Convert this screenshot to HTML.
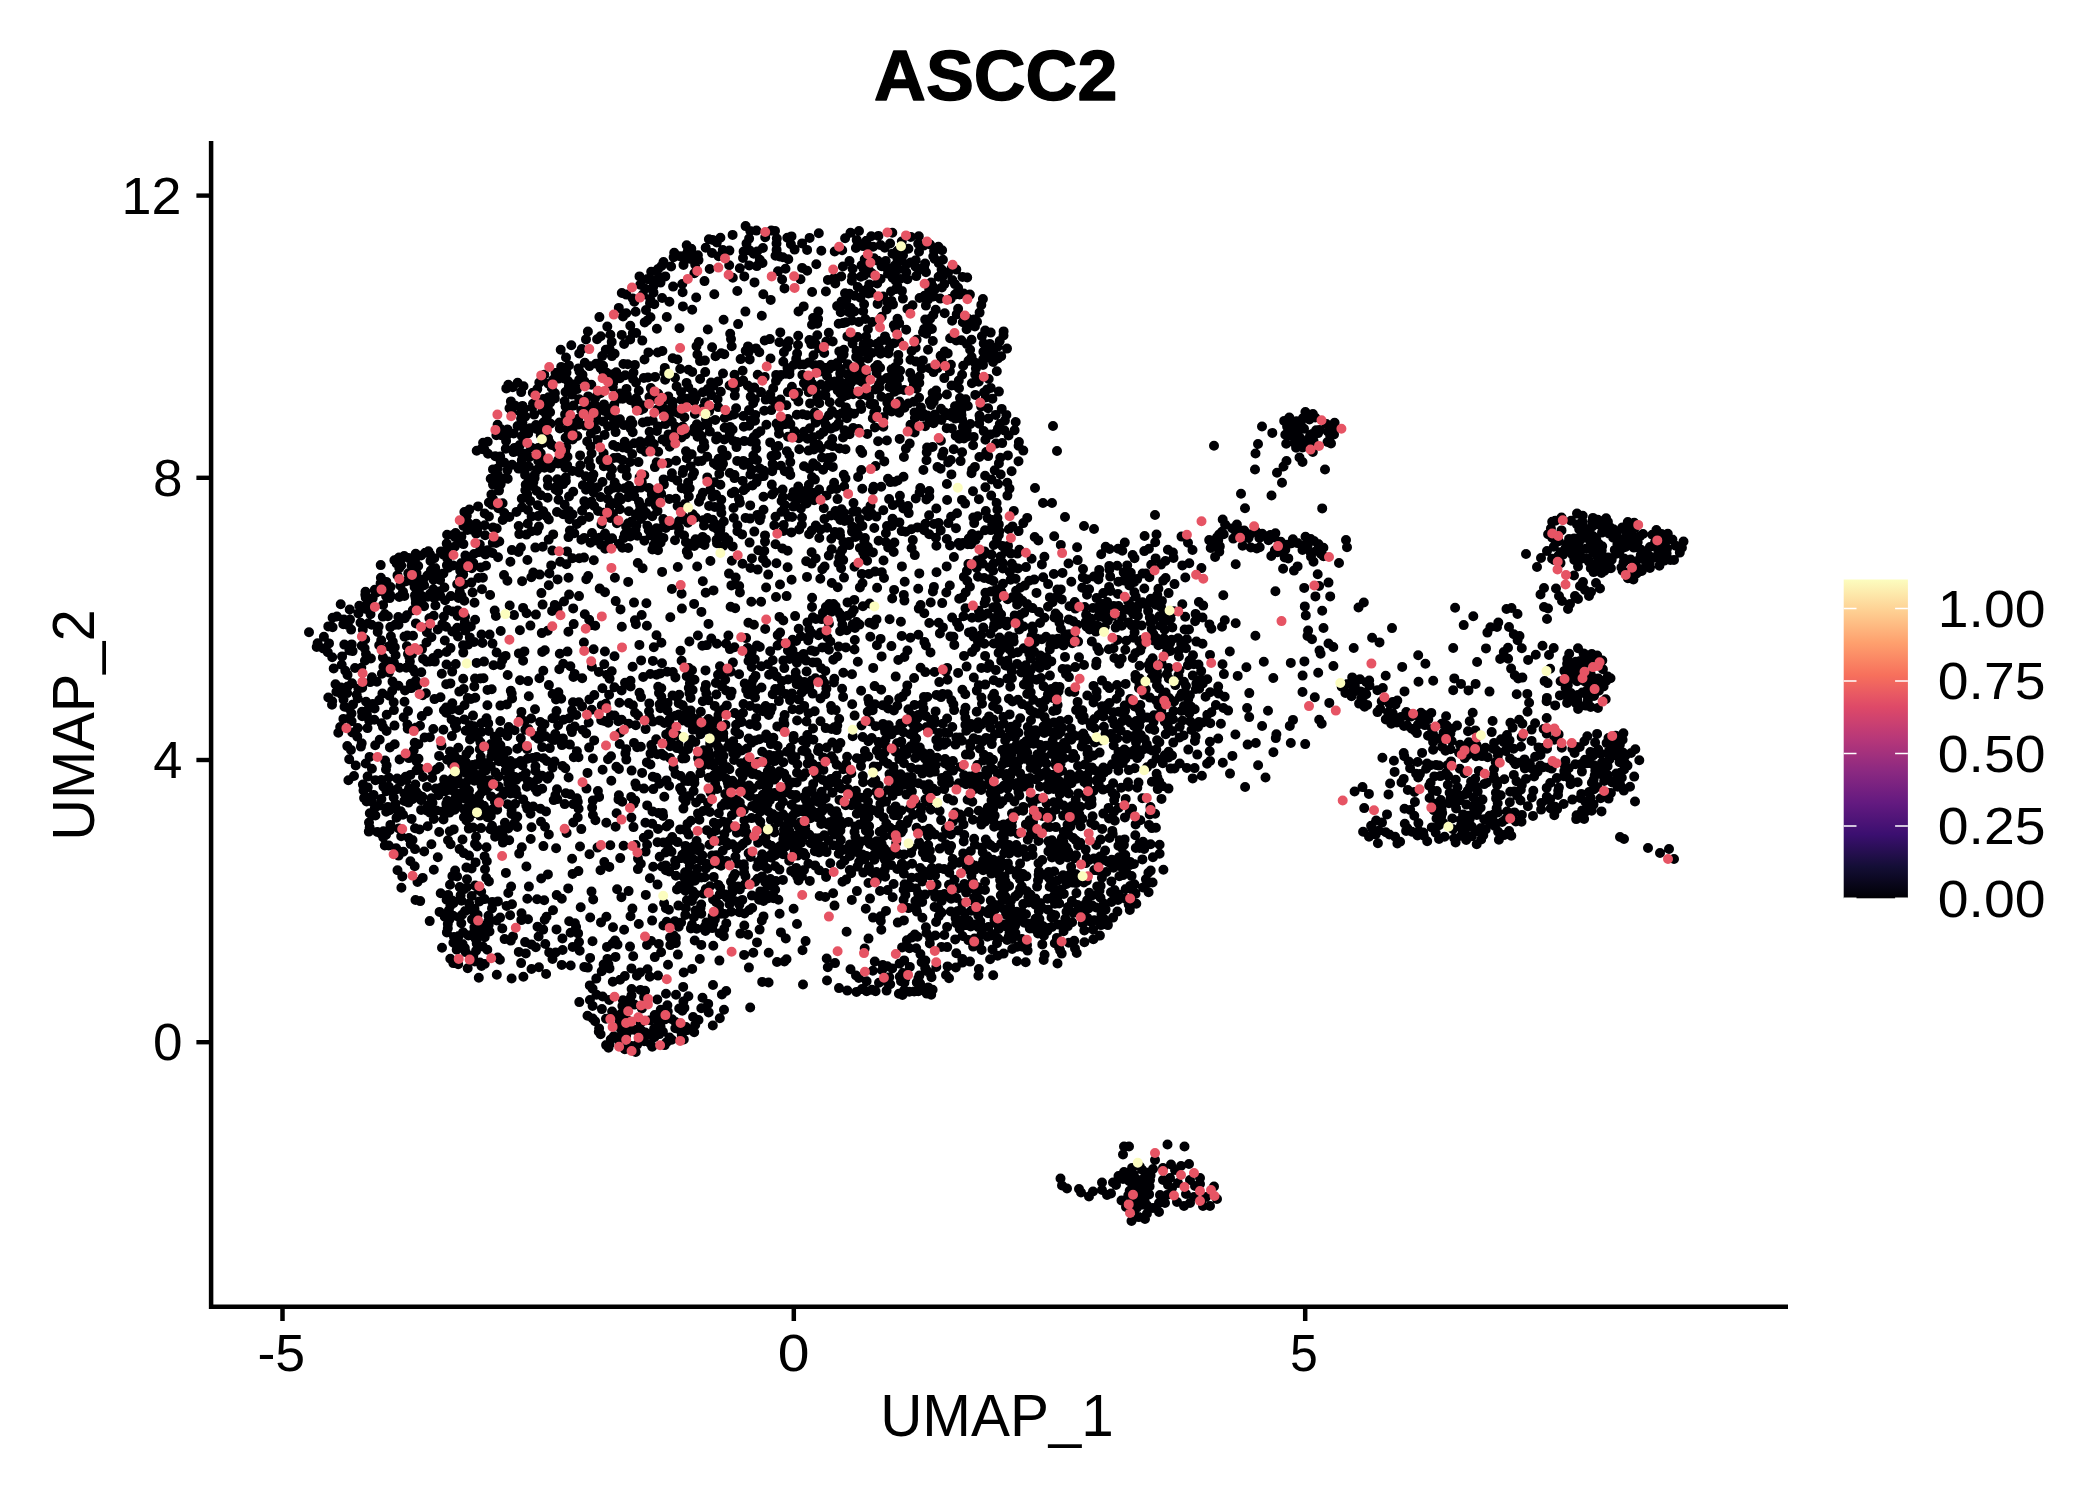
<!DOCTYPE html>
<html><head><meta charset="utf-8"><title>ASCC2</title>
<style>html,body{margin:0;padding:0;background:#fff}svg{display:block}text{font-family:"Liberation Sans",sans-serif;fill:#000}</style></head>
<body><svg width="2100" height="1500" viewBox="0 0 2100 1500">
<rect width="2100" height="1500" fill="#fff"/>
<defs><linearGradient id="mg" x1="0" y1="1" x2="0" y2="0"><stop offset="0%" stop-color="#000004"/><stop offset="10%" stop-color="#140E36"/><stop offset="20%" stop-color="#3B0F70"/><stop offset="30%" stop-color="#641A80"/><stop offset="40%" stop-color="#8C2981"/><stop offset="50%" stop-color="#B73779"/><stop offset="60%" stop-color="#DE4968"/><stop offset="70%" stop-color="#F7705C"/><stop offset="80%" stop-color="#FE9F6D"/><stop offset="90%" stop-color="#FECF92"/><stop offset="100%" stop-color="#FCFDBF"/></linearGradient></defs>
<path d="M211.1 141V1306.7H1788" fill="none" stroke="#000" stroke-width="4.5" stroke-linejoin="miter"/>
<path d="M196.4 195.6H211" stroke="#000" stroke-width="4.4"/>
<path d="M196.4 477.8H211" stroke="#000" stroke-width="4.4"/>
<path d="M196.4 760.0H211" stroke="#000" stroke-width="4.4"/>
<path d="M196.4 1042.2H211" stroke="#000" stroke-width="4.4"/>
<path d="M282.5 1306V1321" stroke="#000" stroke-width="4.5"/>
<path d="M793.8 1306V1321" stroke="#000" stroke-width="4.5"/>
<path d="M1305.2 1306V1321" stroke="#000" stroke-width="4.5"/>
<text transform="translate(181.4 213.79999999999998) scale(1.057 1)" font-size="51" text-anchor="end" font-weight="normal" >12</text>
<text transform="translate(182.6 496.0) scale(1.04 1)" font-size="51" text-anchor="end" font-weight="normal" >8</text>
<text transform="translate(182.4 778.2) scale(1.027 1)" font-size="51" text-anchor="end" font-weight="normal" >4</text>
<text transform="translate(182.6 1060.4) scale(1.04 1)" font-size="51" text-anchor="end" font-weight="normal" >0</text>
<text transform="translate(281.3 1371) scale(1.052 1)" font-size="51" text-anchor="middle" font-weight="normal" >-5</text>
<text transform="translate(793.7 1371) scale(1.12 1)" font-size="51" text-anchor="middle" font-weight="normal" >0</text>
<text transform="translate(1304.0 1371) scale(0.98 1)" font-size="51" text-anchor="middle" font-weight="normal" >5</text>
<text transform="translate(997 1436) scale(0.99 1)" font-size="59" text-anchor="middle" font-weight="normal" >UMAP_1</text>
<text transform="translate(94.4 725) rotate(-90) scale(0.98 1)" font-size="59" text-anchor="middle" font-weight="normal" >UMAP_2</text>
<text transform="translate(995.7 100) scale(1.025 1)" font-size="70" text-anchor="middle" font-weight="bold" stroke="#000" stroke-width="1.4" stroke-linejoin="round">ASCC2</text>
<rect x="1843.7" y="579.5" width="64.2" height="318.8" fill="url(#mg)"/>
<path d="M1843.7 608.5h12.8M1895.1 608.5h12.8" stroke="#fff" stroke-width="1.6"/>
<path d="M1843.7 681h12.8M1895.1 681h12.8" stroke="#fff" stroke-width="1.6"/>
<path d="M1843.7 753.5h12.8M1895.1 753.5h12.8" stroke="#fff" stroke-width="1.6"/>
<path d="M1843.7 826h12.8M1895.1 826h12.8" stroke="#fff" stroke-width="1.6"/>
<path d="M1843.7 898.3h12.8M1895.1 898.3h12.8" stroke="#fff" stroke-width="1.6"/>
<text transform="translate(1937.8 626.9) scale(1.085 1)" font-size="51" text-anchor="start" font-weight="normal" >1.00</text>
<text transform="translate(1937.8 699.4) scale(1.085 1)" font-size="51" text-anchor="start" font-weight="normal" >0.75</text>
<text transform="translate(1937.8 771.9) scale(1.085 1)" font-size="51" text-anchor="start" font-weight="normal" >0.50</text>
<text transform="translate(1937.8 844.4) scale(1.085 1)" font-size="51" text-anchor="start" font-weight="normal" >0.25</text>
<text transform="translate(1937.8 916.9) scale(1.085 1)" font-size="51" text-anchor="start" font-weight="normal" >0.00</text>
<path d="M708.9 239.2h.01M720.4 237.7h.01M732.6 234.9h.01M745.6 226.1h.01M750.3 231.0h.01M749.1 238.6h.01M765.2 237.3h.01M756.4 230.6h.01M776.8 238.5h.01M775.0 230.9h.01M771.3 230.6h.01M787.3 237.7h.01M791.5 236.4h.01M809.6 237.9h.01M818.8 233.2h.01M845.1 238.2h.01M850.5 232.8h.01M859.0 231.0h.01M856.7 239.9h.01M878.4 235.9h.01M871.2 236.2h.01M892.3 232.8h.01M910.8 236.9h.01M918.8 236.2h.01M938.4 246.7h.01M942.1 250.2h.01M930.0 244.5h.01M934.1 251.1h.01M920.1 246.1h.01M923.6 245.6h.01M918.2 243.7h.01M919.0 251.8h.01M903.0 255.3h.01M901.8 241.6h.01M908.4 248.7h.01M897.6 250.7h.01M884.8 247.7h.01M880.6 245.1h.01M892.5 253.7h.01M890.1 243.5h.01M866.4 240.7h.01M873.1 246.8h.01M869.5 247.1h.01M863.1 246.1h.01M857.8 243.5h.01M855.9 248.0h.01M834.7 251.5h.01M842.2 250.2h.01M821.3 250.7h.01M807.1 249.9h.01M802.1 243.4h.01M794.6 249.6h.01M790.9 244.3h.01M775.5 255.8h.01M776.5 243.6h.01M776.6 249.9h.01M762.9 248.0h.01M753.7 253.7h.01M757.1 251.5h.01M743.6 251.5h.01M746.5 243.6h.01M749.8 250.6h.01M729.4 250.6h.01M722.8 250.0h.01M705.7 247.7h.01M712.6 240.0h.01M712.0 252.9h.01M716.8 242.4h.01M691.3 248.8h.01M697.9 255.2h.01M691.6 254.0h.01M674.2 252.8h.01M687.7 251.6h.01M686.7 245.3h.01M651.2 271.8h.01M661.5 266.0h.01M663.5 262.0h.01M671.1 266.5h.01M658.2 268.9h.01M684.0 256.0h.01M683.5 264.9h.01M673.6 257.3h.01M679.8 256.2h.01M689.8 258.7h.01M695.2 264.6h.01M698.5 260.1h.01M709.7 269.0h.01M718.6 256.2h.01M729.2 265.3h.01M749.2 265.4h.01M739.8 268.3h.01M743.0 258.0h.01M762.5 263.0h.01M759.8 259.8h.01M756.8 266.1h.01M778.0 271.3h.01M779.5 256.5h.01M782.9 257.2h.01M788.3 259.2h.01M785.5 268.8h.01M807.2 270.7h.01M802.1 267.9h.01M816.3 264.3h.01M842.9 266.5h.01M849.5 261.1h.01M852.6 268.8h.01M861.6 265.4h.01M863.6 268.9h.01M874.0 258.3h.01M869.0 270.6h.01M877.8 260.8h.01M864.7 259.4h.01M885.7 261.1h.01M894.8 265.5h.01M881.6 266.3h.01M886.3 267.6h.01M892.2 269.5h.01M897.5 259.2h.01M906.3 264.3h.01M898.4 269.2h.01M910.8 262.4h.01M900.8 260.0h.01M915.7 260.2h.01M915.6 266.8h.01M925.1 263.5h.01M919.0 269.5h.01M924.2 266.4h.01M934.7 259.0h.01M941.6 269.6h.01M938.8 263.2h.01M933.3 256.2h.01M942.9 259.7h.01M956.3 269.6h.01M951.5 268.6h.01M967.2 277.5h.01M962.5 277.0h.01M948.0 272.7h.01M944.3 284.2h.01M958.1 287.7h.01M954.9 284.1h.01M952.3 280.0h.01M933.2 287.0h.01M931.1 282.6h.01M941.9 287.4h.01M938.6 276.8h.01M942.7 276.5h.01M926.0 272.3h.01M916.3 276.1h.01M900.0 278.9h.01M907.4 279.2h.01M897.3 285.9h.01M906.3 272.2h.01M892.7 277.9h.01M888.0 273.7h.01M895.2 280.1h.01M893.1 274.4h.01M880.6 279.0h.01M877.2 283.5h.01M872.1 273.5h.01M869.3 284.4h.01M864.0 275.4h.01M852.2 276.6h.01M860.8 276.7h.01M857.8 287.0h.01M851.8 280.7h.01M834.0 278.0h.01M841.2 276.4h.01M835.3 283.5h.01M827.9 279.9h.01M800.5 279.3h.01M782.1 279.5h.01M754.5 282.4h.01M744.3 276.4h.01M732.8 277.7h.01M704.5 281.1h.01M694.4 273.2h.01M673.1 286.6h.01M682.3 284.0h.01M659.0 277.4h.01M660.5 282.6h.01M665.3 276.4h.01M647.5 279.1h.01M640.2 284.7h.01M653.1 287.1h.01M651.5 280.3h.01M639.5 276.4h.01M621.8 293.0h.01M632.8 298.5h.01M626.3 294.6h.01M634.3 301.8h.01M642.9 294.6h.01M645.2 288.7h.01M653.5 292.6h.01M650.3 299.0h.01M650.0 303.3h.01M662.1 298.0h.01M669.4 301.7h.01M682.6 292.2h.01M696.2 297.5h.01M714.3 294.3h.01M737.3 291.0h.01M763.3 294.2h.01M770.7 299.9h.01M784.5 288.4h.01M812.1 292.0h.01M825.9 291.5h.01M845.0 293.2h.01M846.3 300.4h.01M841.5 301.5h.01M863.7 290.8h.01M849.5 293.7h.01M854.7 295.8h.01M860.4 297.8h.01M868.4 293.4h.01M868.0 288.5h.01M871.5 292.7h.01M877.6 303.9h.01M891.0 291.5h.01M887.4 301.9h.01M883.2 296.6h.01M891.5 300.9h.01M902.9 298.6h.01M896.2 288.9h.01M901.9 290.9h.01M919.6 298.0h.01M924.5 295.8h.01M927.9 299.7h.01M934.4 289.9h.01M940.2 298.6h.01M933.5 296.5h.01M929.2 289.0h.01M950.7 298.8h.01M955.0 294.6h.01M959.8 294.5h.01M969.9 294.6h.01M963.7 293.5h.01M982.9 299.0h.01M979.6 312.6h.01M981.3 304.9h.01M974.1 319.5h.01M968.5 319.1h.01M944.7 313.3h.01M956.7 314.4h.01M958.1 308.7h.01M930.2 318.8h.01M933.3 314.9h.01M935.7 309.8h.01M925.9 305.6h.01M925.2 319.6h.01M912.5 305.2h.01M907.4 308.9h.01M897.5 318.8h.01M881.7 316.8h.01M893.0 304.4h.01M886.6 309.5h.01M865.3 319.0h.01M864.1 304.3h.01M850.9 308.1h.01M854.4 311.4h.01M849.0 312.3h.01M863.2 311.3h.01M840.7 312.3h.01M837.1 306.1h.01M842.5 305.3h.01M818.1 319.1h.01M818.3 311.5h.01M803.7 306.4h.01M813.1 318.0h.01M798.5 311.5h.01M761.8 315.7h.01M745.4 311.6h.01M723.6 319.8h.01M692.2 309.8h.01M682.9 306.4h.01M666.8 317.0h.01M646.0 310.1h.01M650.5 317.3h.01M654.3 304.3h.01M635.6 311.7h.01M626.2 313.3h.01M623.0 316.5h.01M618.8 307.9h.01M599.4 317.1h.01M587.9 331.5h.01M607.3 326.6h.01M610.4 334.7h.01M621.7 334.9h.01M636.2 333.0h.01M630.3 325.8h.01M632.8 333.2h.01M644.7 322.4h.01M647.2 320.5h.01M656.9 328.7h.01M679.5 328.3h.01M707.8 329.5h.01M730.2 333.8h.01M738.1 324.1h.01M780.3 332.4h.01M798.2 335.8h.01M812.0 324.8h.01M817.3 335.3h.01M817.2 323.7h.01M828.8 332.8h.01M838.7 323.7h.01M843.1 323.1h.01M846.1 322.3h.01M851.8 320.5h.01M858.8 322.0h.01M867.9 329.2h.01M872.3 321.9h.01M895.2 328.8h.01M893.8 325.2h.01M906.2 329.7h.01M899.2 323.3h.01M924.1 329.0h.01M926.2 333.7h.01M923.0 332.3h.01M928.8 326.5h.01M931.9 329.0h.01M952.1 320.8h.01M966.6 329.3h.01M962.8 322.3h.01M974.9 326.4h.01M967.1 325.0h.01M985.2 330.5h.01M990.7 332.6h.01M977.0 321.8h.01M1003.6 331.4h.01M1003.5 335.5h.01M1007.0 348.6h.01M997.8 346.7h.01M999.7 341.1h.01M992.7 347.7h.01M987.8 348.9h.01M983.7 343.5h.01M981.9 336.2h.01M983.4 351.8h.01M989.8 343.9h.01M961.3 340.3h.01M970.1 349.8h.01M971.5 339.8h.01M966.9 344.1h.01M956.3 340.5h.01M950.1 338.3h.01M944.7 351.6h.01M932.8 341.0h.01M928.0 349.7h.01M916.6 339.8h.01M915.7 347.8h.01M899.2 341.3h.01M911.6 350.9h.01M889.0 349.0h.01M886.4 340.1h.01M885.0 336.4h.01M880.4 341.2h.01M894.2 343.2h.01M869.5 343.5h.01M866.1 336.5h.01M879.1 348.4h.01M877.0 343.8h.01M852.6 343.6h.01M852.5 340.2h.01M857.7 337.0h.01M863.6 344.6h.01M856.5 350.8h.01M832.7 341.5h.01M839.3 351.4h.01M847.4 336.4h.01M843.9 349.8h.01M819.0 348.2h.01M826.3 341.6h.01M815.7 344.1h.01M811.2 344.1h.01M809.4 340.1h.01M787.3 347.3h.01M798.0 345.0h.01M788.7 341.3h.01M769.8 339.1h.01M779.4 342.2h.01M756.0 348.4h.01M764.7 340.5h.01M748.0 346.4h.01M745.7 350.7h.01M731.0 339.1h.01M731.7 346.2h.01M712.1 347.3h.01M698.8 342.0h.01M696.5 346.2h.01M662.4 351.0h.01M642.3 340.6h.01M630.2 339.4h.01M624.1 344.0h.01M609.5 348.8h.01M611.7 341.9h.01M600.7 336.2h.01M605.8 349.8h.01M597.1 339.2h.01M581.8 349.1h.01M586.0 339.4h.01M571.3 345.3h.01M560.7 349.8h.01M566.0 357.5h.01M568.9 365.4h.01M561.2 366.9h.01M589.4 366.1h.01M579.2 353.5h.01M584.8 362.7h.01M596.0 363.8h.01M599.2 363.6h.01M603.1 365.8h.01M602.2 356.1h.01M614.6 353.7h.01M611.9 356.1h.01M623.4 364.0h.01M634.9 364.9h.01M627.7 364.3h.01M644.5 359.5h.01M648.4 352.4h.01M664.8 367.9h.01M657.8 352.5h.01M672.7 358.2h.01M677.4 359.5h.01M700.0 361.1h.01M697.4 354.5h.01M704.9 360.6h.01M715.5 356.3h.01M724.3 354.2h.01M721.2 353.2h.01M749.7 359.4h.01M740.6 359.1h.01M748.6 352.1h.01M759.3 352.2h.01M783.3 361.8h.01M783.9 352.2h.01M770.5 358.5h.01M797.1 353.6h.01M800.0 364.4h.01M793.6 365.0h.01M796.2 358.9h.01M803.9 364.5h.01M814.2 364.9h.01M808.9 362.4h.01M813.5 355.2h.01M822.7 367.6h.01M824.2 353.0h.01M819.9 364.9h.01M831.3 364.7h.01M837.1 363.0h.01M841.6 358.3h.01M847.8 364.2h.01M834.5 366.0h.01M843.6 354.6h.01M859.8 360.5h.01M856.1 357.1h.01M861.5 367.3h.01M860.3 352.8h.01M868.4 352.2h.01M868.0 358.5h.01M874.9 367.6h.01M877.6 364.9h.01M871.9 353.0h.01M894.9 367.3h.01M883.6 352.3h.01M880.1 367.8h.01M880.6 353.8h.01M888.4 353.5h.01M898.3 354.9h.01M898.3 361.0h.01M910.5 359.7h.01M915.9 361.6h.01M922.9 360.4h.01M941.7 360.7h.01M940.6 355.7h.01M950.9 364.7h.01M947.7 353.4h.01M968.5 360.8h.01M974.8 362.4h.01M963.2 365.8h.01M971.6 357.1h.01M988.9 357.8h.01M991.5 355.6h.01M983.2 359.2h.01M983.0 364.9h.01M993.1 361.9h.01M998.0 358.5h.01M994.6 354.9h.01M1001.2 356.2h.01M996.8 371.2h.01M978.7 381.8h.01M988.7 379.0h.01M962.1 374.7h.01M975.9 368.5h.01M971.9 383.2h.01M975.2 374.5h.01M958.8 380.5h.01M944.3 378.1h.01M949.9 371.2h.01M929.4 368.3h.01M933.5 372.1h.01M937.6 368.1h.01M921.7 368.6h.01M912.5 379.1h.01M919.3 383.0h.01M919.5 376.5h.01M897.3 371.9h.01M910.2 373.0h.01M899.1 378.3h.01M900.1 370.8h.01M881.1 380.3h.01M890.7 383.0h.01M890.8 376.3h.01M891.6 369.2h.01M886.8 378.1h.01M865.8 374.3h.01M864.7 377.7h.01M876.6 373.0h.01M858.3 379.9h.01M862.1 381.9h.01M849.5 376.8h.01M852.3 371.6h.01M851.2 382.5h.01M853.8 378.8h.01M859.5 373.0h.01M847.1 374.3h.01M835.0 381.5h.01M840.2 373.5h.01M844.3 383.7h.01M839.1 380.6h.01M840.6 369.1h.01M827.0 376.0h.01M819.7 371.6h.01M830.0 381.5h.01M829.2 369.0h.01M825.7 368.1h.01M806.9 381.0h.01M803.9 383.2h.01M802.4 374.9h.01M810.1 378.2h.01M812.1 383.6h.01M786.0 373.8h.01M789.5 374.3h.01M787.5 368.0h.01M789.4 370.7h.01M778.2 377.7h.01M776.2 374.9h.01M776.0 381.1h.01M781.0 374.9h.01M764.7 376.9h.01M757.7 374.8h.01M743.2 380.5h.01M742.6 370.8h.01M739.4 382.2h.01M734.5 374.8h.01M723.0 373.5h.01M711.1 382.6h.01M718.1 381.4h.01M705.2 372.1h.01M700.1 379.0h.01M688.6 369.8h.01M692.2 371.9h.01M686.6 382.9h.01M680.2 369.0h.01M675.0 377.8h.01M664.3 372.7h.01M665.1 379.8h.01M643.9 377.9h.01M647.9 377.5h.01M655.1 376.9h.01M633.5 372.5h.01M625.2 375.2h.01M636.0 382.6h.01M633.1 379.3h.01M616.3 372.2h.01M619.9 378.2h.01M613.3 382.7h.01M613.6 378.8h.01M611.7 374.6h.01M603.2 371.1h.01M600.6 368.1h.01M606.7 372.8h.01M578.5 368.4h.01M579.5 371.4h.01M584.4 381.2h.01M579.2 379.8h.01M582.5 374.7h.01M566.5 372.6h.01M567.8 380.8h.01M562.3 373.2h.01M566.1 368.5h.01M564.7 378.6h.01M548.5 383.7h.01M558.6 378.6h.01M544.3 374.7h.01M555.5 372.9h.01M553.1 379.8h.01M541.8 380.1h.01M539.3 382.6h.01M517.6 382.7h.01M506.3 388.4h.01M508.3 384.7h.01M523.5 386.2h.01M512.7 387.3h.01M521.2 392.1h.01M537.3 389.1h.01M543.3 399.1h.01M532.8 392.8h.01M548.5 397.2h.01M554.8 398.4h.01M551.7 387.9h.01M554.9 393.2h.01M573.5 390.7h.01M573.1 384.5h.01M571.8 394.6h.01M568.9 386.4h.01M565.5 392.0h.01M579.2 399.2h.01M591.3 384.8h.01M577.0 389.1h.01M588.2 396.4h.01M600.5 393.3h.01M597.5 394.8h.01M595.0 398.4h.01M619.4 398.6h.01M620.1 393.6h.01M622.8 398.8h.01M612.8 387.0h.01M636.2 398.3h.01M626.5 388.9h.01M638.8 390.7h.01M626.8 395.0h.01M650.8 388.1h.01M654.9 398.8h.01M649.4 397.0h.01M668.3 396.4h.01M669.1 399.5h.01M658.2 393.7h.01M681.3 399.7h.01M681.0 392.0h.01M676.6 386.4h.01M687.4 398.8h.01M688.3 387.2h.01M695.9 397.4h.01M693.1 392.4h.01M702.8 392.3h.01M711.4 395.1h.01M708.0 388.9h.01M713.5 385.9h.01M717.6 399.2h.01M720.8 391.7h.01M734.8 388.9h.01M734.8 395.6h.01M729.6 385.5h.01M750.7 396.6h.01M751.1 388.2h.01M747.8 385.6h.01M761.0 392.1h.01M754.3 387.6h.01M765.7 399.6h.01M754.9 399.3h.01M773.2 388.2h.01M780.4 399.5h.01M770.3 394.1h.01M791.9 386.8h.01M795.4 396.9h.01M798.2 392.8h.01M787.9 392.1h.01M808.8 392.2h.01M809.6 386.6h.01M815.2 389.1h.01M806.4 386.9h.01M825.4 395.4h.01M830.7 385.6h.01M821.0 384.5h.01M819.4 395.0h.01M817.3 397.9h.01M826.0 388.4h.01M845.1 390.2h.01M837.2 384.4h.01M847.7 394.9h.01M837.7 390.4h.01M842.9 396.9h.01M840.4 393.5h.01M853.1 394.2h.01M860.4 394.7h.01M849.3 386.9h.01M864.0 393.1h.01M866.6 395.2h.01M869.3 396.6h.01M879.0 384.3h.01M879.3 387.8h.01M875.1 389.5h.01M894.6 391.8h.01M888.9 397.7h.01M889.4 386.9h.01M893.7 384.5h.01M881.4 396.7h.01M898.3 389.8h.01M904.1 390.0h.01M896.9 384.8h.01M916.6 388.7h.01M913.9 385.0h.01M919.1 397.8h.01M937.3 396.2h.01M936.1 390.6h.01M932.4 398.9h.01M932.6 393.0h.01M956.8 386.2h.01M951.6 385.5h.01M959.0 388.3h.01M946.9 394.5h.01M975.3 394.9h.01M965.7 399.3h.01M960.0 398.1h.01M985.8 397.5h.01M987.3 389.4h.01M990.7 387.9h.01M984.1 392.4h.01M998.9 391.6h.01M992.4 398.7h.01M1312.9 414.1h.01M1305.4 412.1h.01M1001.7 408.9h.01M995.7 414.9h.01M1006.4 414.9h.01M981.2 406.4h.01M988.1 408.3h.01M979.5 415.6h.01M961.3 411.3h.01M967.8 406.0h.01M960.1 403.6h.01M964.8 404.3h.01M961.5 415.1h.01M951.6 412.8h.01M956.6 408.9h.01M944.8 412.5h.01M946.2 415.3h.01M955.0 406.3h.01M934.9 414.4h.01M941.0 408.7h.01M933.7 401.7h.01M931.2 404.9h.01M929.8 401.5h.01M913.8 401.8h.01M922.6 413.0h.01M927.4 415.6h.01M920.9 407.4h.01M914.6 412.4h.01M904.5 407.8h.01M899.5 407.0h.01M899.3 401.6h.01M899.2 412.8h.01M908.5 403.4h.01M887.3 402.8h.01M891.8 405.8h.01M891.6 411.5h.01M887.8 409.8h.01M876.3 409.6h.01M870.3 404.2h.01M874.1 403.9h.01M874.2 412.8h.01M861.2 408.9h.01M860.3 404.5h.01M849.2 412.4h.01M854.0 413.8h.01M841.8 413.3h.01M838.4 414.7h.01M845.9 407.4h.01M839.8 402.4h.01M832.0 411.0h.01M819.3 403.2h.01M829.0 415.3h.01M829.8 402.3h.01M814.9 412.2h.01M807.0 415.3h.01M802.7 414.3h.01M810.1 403.4h.01M796.8 414.8h.01M786.4 405.3h.01M798.4 401.4h.01M775.3 402.9h.01M772.3 400.2h.01M771.3 410.1h.01M753.2 403.2h.01M755.2 414.9h.01M764.2 410.7h.01M736.1 408.3h.01M749.0 410.1h.01M743.3 416.0h.01M729.5 415.8h.01M733.9 414.4h.01M718.2 407.1h.01M709.2 411.1h.01M705.0 402.3h.01M702.5 408.4h.01M694.9 414.0h.01M694.2 401.2h.01M676.4 412.2h.01M679.6 413.6h.01M672.6 401.7h.01M672.5 405.6h.01M664.0 408.9h.01M657.3 409.5h.01M662.2 402.6h.01M664.5 400.4h.01M669.5 413.9h.01M643.4 405.5h.01M640.2 410.1h.01M643.3 408.7h.01M637.8 401.5h.01M630.5 400.3h.01M636.3 405.4h.01M634.6 401.0h.01M609.0 414.9h.01M608.8 409.8h.01M614.2 404.7h.01M612.8 407.4h.01M604.0 404.4h.01M601.1 408.0h.01M596.2 415.1h.01M604.4 411.0h.01M594.6 404.5h.01M586.9 413.7h.01M589.1 405.9h.01M590.5 413.2h.01M581.3 410.4h.01M565.1 414.4h.01M565.6 406.4h.01M573.4 405.6h.01M568.3 409.8h.01M564.6 401.2h.01M546.5 403.1h.01M545.8 413.7h.01M547.8 407.2h.01M550.1 412.3h.01M550.1 402.8h.01M534.1 414.6h.01M532.3 407.5h.01M533.0 403.7h.01M542.5 410.8h.01M514.8 405.4h.01M522.5 405.9h.01M521.1 412.9h.01M524.2 408.7h.01M512.1 412.4h.01M509.5 408.2h.01M510.9 401.4h.01M507.6 429.6h.01M497.6 424.8h.01M501.1 429.2h.01M521.1 418.8h.01M522.4 422.7h.01M517.6 426.0h.01M525.2 416.6h.01M524.6 431.1h.01M536.0 425.1h.01M536.5 429.0h.01M543.4 422.5h.01M530.0 428.2h.01M542.1 431.5h.01M559.8 428.4h.01M546.8 417.4h.01M559.5 422.6h.01M550.6 423.7h.01M567.4 429.1h.01M570.8 418.0h.01M572.7 431.9h.01M574.3 424.7h.01M578.4 424.6h.01M585.2 425.6h.01M578.3 418.7h.01M592.2 427.7h.01M597.4 420.1h.01M603.4 421.6h.01M596.1 429.5h.01M608.0 426.2h.01M619.9 419.2h.01M615.8 424.2h.01M613.9 419.3h.01M630.9 420.4h.01M630.8 428.8h.01M624.0 425.1h.01M632.5 423.2h.01M647.4 421.6h.01M642.9 422.4h.01M652.7 420.6h.01M649.6 431.8h.01M666.6 418.8h.01M656.9 431.0h.01M671.8 421.5h.01M658.0 426.6h.01M665.3 424.1h.01M675.5 426.7h.01M684.4 417.3h.01M682.7 426.6h.01M700.3 426.5h.01M697.9 431.3h.01M694.4 428.0h.01M696.9 424.2h.01M693.8 431.8h.01M709.9 431.6h.01M715.2 419.9h.01M706.0 419.3h.01M707.3 425.2h.01M724.6 427.8h.01M730.0 426.9h.01M732.6 429.5h.01M724.7 418.0h.01M749.2 425.7h.01M750.9 420.0h.01M743.8 426.8h.01M766.4 424.7h.01M760.4 431.2h.01M755.0 420.8h.01M778.9 428.2h.01M776.6 423.6h.01M790.4 424.1h.01M787.9 419.0h.01M794.5 431.2h.01M785.4 424.1h.01M815.8 422.8h.01M804.0 431.8h.01M809.9 428.3h.01M815.4 419.6h.01M823.5 431.9h.01M824.1 420.2h.01M825.7 424.7h.01M830.9 428.7h.01M838.6 423.3h.01M846.9 418.2h.01M844.5 430.3h.01M835.4 426.8h.01M858.5 429.0h.01M853.2 427.9h.01M872.8 418.2h.01M874.9 427.4h.01M883.6 416.9h.01M883.3 426.7h.01M911.6 431.5h.01M910.5 424.7h.01M925.1 426.3h.01M914.9 418.0h.01M922.2 416.4h.01M933.5 423.3h.01M938.2 419.5h.01M941.5 420.0h.01M929.2 418.4h.01M951.9 428.5h.01M952.2 416.9h.01M946.7 428.2h.01M955.3 418.6h.01M962.9 427.1h.01M966.7 430.4h.01M962.1 419.5h.01M970.4 424.0h.01M983.7 431.1h.01M979.9 418.7h.01M988.4 418.5h.01M979.2 423.7h.01M999.8 424.1h.01M1004.9 420.6h.01M1004.3 430.4h.01M997.9 428.9h.01M1014.6 430.3h.01M1015.7 422.0h.01M1293.9 429.2h.01M1290.3 431.4h.01M1287.1 426.6h.01M1284.2 420.9h.01M1291.9 425.8h.01M1289.3 417.5h.01M1304.0 428.7h.01M1296.4 421.3h.01M1297.8 431.4h.01M1303.1 418.1h.01M1300.7 423.9h.01M1309.4 419.4h.01M1319.3 430.1h.01M1316.1 430.2h.01M1327.8 431.5h.01M1315.2 417.5h.01M1326.4 424.0h.01M1334.6 422.8h.01M1334.1 428.1h.01M1331.0 443.5h.01M1334.0 434.4h.01M1329.9 434.6h.01M1318.1 433.1h.01M1314.4 446.3h.01M1312.3 433.9h.01M1313.5 440.8h.01M1327.5 442.0h.01M1296.1 447.8h.01M1302.7 447.5h.01M1310.0 436.0h.01M1311.6 445.0h.01M1304.3 441.0h.01M1300.2 438.1h.01M1290.6 435.2h.01M1285.3 434.8h.01M1286.2 443.7h.01M1295.0 440.2h.01M1295.3 444.0h.01M1272.3 432.9h.01M1008.6 435.4h.01M1018.6 445.8h.01M1018.9 442.1h.01M996.0 432.7h.01M1002.2 443.1h.01M996.0 443.6h.01M990.6 434.5h.01M985.4 439.7h.01M967.1 436.6h.01M973.7 436.9h.01M964.0 438.5h.01M973.1 445.3h.01M955.7 435.8h.01M959.6 434.6h.01M959.2 438.8h.01M940.9 440.7h.01M932.6 446.9h.01M927.1 447.6h.01M914.6 432.4h.01M899.7 438.9h.01M909.7 443.6h.01M886.9 440.5h.01M867.3 433.9h.01M878.1 441.3h.01M849.6 434.2h.01M832.6 446.1h.01M832.3 439.1h.01M843.0 437.5h.01M829.0 444.8h.01M818.3 444.8h.01M819.8 434.9h.01M814.5 444.9h.01M807.5 438.8h.01M812.8 437.1h.01M798.8 438.3h.01M788.0 436.7h.01M770.2 442.4h.01M779.0 433.8h.01M775.7 447.7h.01M778.3 446.1h.01M753.8 437.1h.01M755.8 442.5h.01M757.1 433.4h.01M736.5 447.1h.01M744.2 441.1h.01M736.8 441.9h.01M750.7 441.5h.01M733.3 440.9h.01M724.3 439.5h.01M729.9 433.3h.01M716.1 439.4h.01M717.5 436.5h.01M704.4 446.6h.01M697.6 436.7h.01M701.5 436.1h.01M703.9 442.6h.01M685.5 434.4h.01M681.5 437.5h.01M672.9 434.0h.01M662.6 439.6h.01M666.2 442.1h.01M669.7 446.8h.01M668.5 434.4h.01M653.8 444.0h.01M640.1 441.6h.01M650.2 439.1h.01M647.5 442.1h.01M632.7 432.2h.01M634.3 443.3h.01M624.7 441.8h.01M622.7 447.5h.01M613.2 445.1h.01M616.7 446.7h.01M615.6 432.1h.01M597.7 440.0h.01M604.6 434.9h.01M577.3 436.0h.01M587.2 441.5h.01M590.5 446.4h.01M590.8 433.7h.01M572.6 439.4h.01M566.4 446.8h.01M565.6 437.8h.01M548.1 438.2h.01M551.7 444.9h.01M549.2 441.8h.01M556.7 447.8h.01M528.2 433.4h.01M531.0 447.4h.01M540.7 435.3h.01M543.5 442.8h.01M514.5 447.9h.01M521.9 436.2h.01M519.9 444.9h.01M513.7 433.4h.01M501.3 435.2h.01M506.1 441.0h.01M506.5 436.0h.01M496.4 435.3h.01M483.1 442.7h.01M487.7 441.7h.01M476.7 450.7h.01M488.0 453.8h.01M481.6 448.9h.01M484.5 449.8h.01M495.3 456.2h.01M500.2 456.6h.01M500.7 461.4h.01M504.1 462.4h.01M505.8 448.8h.01M526.5 453.5h.01M521.8 460.3h.01M520.6 452.2h.01M522.5 456.2h.01M513.5 452.1h.01M540.7 453.3h.01M538.2 448.0h.01M538.3 460.9h.01M529.2 457.2h.01M558.2 460.1h.01M558.1 463.4h.01M544.2 459.6h.01M565.3 450.5h.01M567.5 456.8h.01M563.5 459.4h.01M580.1 455.4h.01M588.8 460.8h.01M591.6 453.5h.01M603.6 453.3h.01M600.6 460.1h.01M622.3 459.9h.01M617.6 457.7h.01M613.9 458.0h.01M638.5 462.1h.01M630.1 461.9h.01M627.8 448.5h.01M632.2 454.1h.01M645.6 451.7h.01M641.1 449.0h.01M656.7 462.2h.01M667.8 462.9h.01M658.2 451.8h.01M676.1 460.7h.01M686.0 451.3h.01M686.8 458.3h.01M698.2 461.3h.01M701.9 448.8h.01M691.7 454.3h.01M701.6 460.9h.01M718.6 458.8h.01M707.2 456.8h.01M713.9 463.2h.01M723.0 463.8h.01M726.8 455.6h.01M722.2 449.9h.01M737.2 460.9h.01M743.3 460.9h.01M748.6 462.9h.01M756.3 448.6h.01M753.3 455.6h.01M757.0 460.1h.01M772.6 463.9h.01M771.5 456.1h.01M776.4 455.1h.01M786.9 451.2h.01M799.3 449.2h.01M789.3 455.0h.01M790.3 462.1h.01M813.2 463.2h.01M813.9 449.5h.01M808.6 450.6h.01M828.1 457.9h.01M822.0 457.5h.01M820.8 448.2h.01M839.5 448.5h.01M845.5 449.2h.01M832.1 457.3h.01M862.2 452.9h.01M860.4 450.1h.01M879.6 454.8h.01M884.3 461.4h.01M905.9 448.6h.01M903.9 457.0h.01M926.5 460.3h.01M926.7 452.2h.01M943.4 451.7h.01M942.1 455.6h.01M950.7 460.0h.01M953.7 449.2h.01M948.2 462.5h.01M960.6 461.1h.01M962.1 452.3h.01M986.3 452.1h.01M988.2 456.1h.01M979.4 457.0h.01M1000.3 457.8h.01M998.9 463.4h.01M1007.9 455.4h.01M1023.3 450.6h.01M1018.5 461.3h.01M1312.8 451.9h.01M1011.6 471.2h.01M994.7 470.3h.01M1000.7 474.5h.01M985.1 475.8h.01M991.6 479.5h.01M971.5 473.3h.01M972.1 469.9h.01M974.9 466.9h.01M951.4 474.4h.01M940.6 468.7h.01M937.5 467.0h.01M923.4 470.0h.01M903.5 476.8h.01M888.0 478.7h.01M875.5 466.1h.01M861.3 470.0h.01M858.1 476.9h.01M845.5 478.5h.01M843.8 474.7h.01M832.8 466.9h.01M816.5 466.0h.01M823.1 469.7h.01M827.9 465.0h.01M814.9 479.6h.01M804.0 466.3h.01M812.0 477.0h.01M809.4 468.7h.01M790.3 474.9h.01M784.8 471.2h.01M788.9 470.9h.01M780.9 465.8h.01M773.2 467.7h.01M772.2 471.2h.01M763.9 470.8h.01M759.6 468.4h.01M757.8 478.3h.01M763.7 476.1h.01M751.7 469.7h.01M743.6 465.0h.01M750.4 474.5h.01M734.5 478.1h.01M721.5 466.9h.01M729.8 473.0h.01M734.5 475.1h.01M719.3 473.9h.01M716.7 465.3h.01M707.3 477.4h.01M692.5 476.0h.01M690.6 466.2h.01M694.0 472.6h.01M683.3 469.9h.01M682.7 473.0h.01M672.0 477.3h.01M663.6 479.4h.01M671.9 473.3h.01M644.3 475.3h.01M654.9 467.1h.01M626.8 476.0h.01M639.6 477.2h.01M625.8 469.6h.01M610.8 475.9h.01M612.0 469.4h.01M622.0 468.6h.01M609.9 467.0h.01M592.1 478.4h.01M593.4 474.5h.01M603.8 466.2h.01M580.3 465.2h.01M590.4 466.3h.01M579.1 472.4h.01M585.7 476.2h.01M567.2 465.2h.01M572.4 470.9h.01M565.7 477.6h.01M565.4 467.7h.01M544.4 467.8h.01M547.7 479.6h.01M557.4 479.3h.01M550.5 468.0h.01M552.1 464.9h.01M528.8 466.6h.01M534.7 474.7h.01M537.4 469.6h.01M528.8 478.7h.01M534.6 477.9h.01M512.1 464.8h.01M525.1 474.9h.01M518.5 468.6h.01M523.9 466.7h.01M521.2 464.5h.01M504.0 478.5h.01M497.5 468.4h.01M507.7 478.8h.01M497.6 474.0h.01M507.4 470.1h.01M493.0 469.4h.01M490.7 478.7h.01M493.0 484.6h.01M491.4 494.5h.01M500.7 484.1h.01M498.5 481.5h.01M498.8 487.5h.01M499.0 490.6h.01M525.7 484.8h.01M527.2 494.2h.01M525.3 490.3h.01M536.7 490.9h.01M533.4 482.1h.01M532.9 486.3h.01M540.8 495.3h.01M548.0 485.8h.01M555.5 489.5h.01M558.2 491.3h.01M556.9 486.3h.01M565.9 481.0h.01M563.2 484.1h.01M573.2 491.7h.01M582.9 485.2h.01M590.1 485.1h.01M586.0 489.7h.01M594.8 488.8h.01M593.8 492.8h.01M602.5 482.0h.01M597.8 487.2h.01M617.8 487.8h.01M608.7 490.4h.01M612.9 488.0h.01M614.7 482.5h.01M634.0 490.8h.01M624.6 488.2h.01M629.0 485.8h.01M628.9 491.8h.01M641.8 482.3h.01M648.8 487.9h.01M640.8 487.6h.01M651.2 490.1h.01M651.8 494.6h.01M661.1 493.8h.01M663.9 484.4h.01M681.7 488.3h.01M677.3 480.7h.01M687.3 490.7h.01M689.7 488.3h.01M702.9 492.8h.01M688.1 482.4h.01M716.0 494.7h.01M714.5 482.2h.01M710.3 489.8h.01M720.4 484.8h.01M734.4 491.7h.01M731.8 493.3h.01M745.7 488.1h.01M743.6 490.3h.01M742.7 480.9h.01M752.5 485.4h.01M756.5 482.1h.01M782.6 489.6h.01M774.2 491.8h.01M771.8 484.6h.01M772.2 494.5h.01M793.6 491.9h.01M799.4 493.5h.01M796.2 494.5h.01M798.3 486.5h.01M813.6 493.0h.01M808.9 484.8h.01M806.7 495.6h.01M807.4 489.5h.01M819.1 489.6h.01M831.2 489.2h.01M826.6 495.4h.01M844.2 486.5h.01M834.1 482.7h.01M836.5 489.0h.01M862.3 488.8h.01M873.6 486.8h.01M872.9 490.0h.01M894.9 481.8h.01M890.3 482.1h.01M881.2 486.7h.01M899.9 495.8h.01M897.7 480.5h.01M919.6 492.6h.01M920.3 488.0h.01M929.3 491.1h.01M946.9 484.0h.01M973.0 491.3h.01M985.4 487.2h.01M991.2 495.6h.01M1007.3 482.7h.01M997.9 484.1h.01M1007.4 495.6h.01M1009.5 488.6h.01M1322.2 508.4h.01M1013.8 510.9h.01M996.6 503.0h.01M997.4 509.7h.01M978.9 499.3h.01M985.8 511.1h.01M965.1 503.6h.01M962.0 499.9h.01M947.1 500.0h.01M929.3 496.8h.01M936.3 508.5h.01M915.8 498.4h.01M926.4 499.4h.01M903.4 508.4h.01M908.0 506.1h.01M899.8 502.9h.01M883.3 510.2h.01M889.1 499.1h.01M892.8 505.1h.01M866.6 511.0h.01M870.5 505.8h.01M853.1 511.7h.01M857.0 511.4h.01M853.5 503.0h.01M837.5 499.1h.01M841.5 509.3h.01M835.4 511.0h.01M823.8 508.3h.01M817.0 498.3h.01M800.8 508.4h.01M814.1 500.2h.01M806.6 503.5h.01M804.3 500.0h.01M784.8 512.0h.01M791.6 496.8h.01M784.6 504.9h.01M793.3 506.6h.01M797.0 499.9h.01M782.9 497.0h.01M781.5 511.7h.01M781.6 501.0h.01M763.5 496.8h.01M763.5 509.7h.01M739.0 499.1h.01M739.9 502.8h.01M750.2 505.4h.01M721.3 499.7h.01M733.5 508.0h.01M720.8 508.0h.01M709.1 505.9h.01M712.6 496.7h.01M714.8 507.0h.01M699.0 501.7h.01M688.8 496.5h.01M700.8 497.2h.01M675.8 498.7h.01M684.8 504.0h.01M677.6 506.0h.01M659.1 499.6h.01M657.5 510.9h.01M669.3 498.9h.01M655.6 496.8h.01M642.7 507.4h.01M640.1 505.4h.01M649.6 501.7h.01M655.7 505.6h.01M634.3 496.3h.01M628.1 497.3h.01M628.9 511.2h.01M639.0 511.9h.01M639.0 501.8h.01M609.9 506.2h.01M614.4 502.9h.01M619.9 509.3h.01M620.8 499.7h.01M619.1 497.2h.01M607.8 499.0h.01M598.0 510.9h.01M600.6 497.1h.01M594.2 506.0h.01M584.3 501.3h.01M585.6 505.1h.01M591.5 501.7h.01M582.1 510.8h.01M564.7 504.8h.01M569.0 496.5h.01M568.9 510.9h.01M557.0 512.0h.01M558.5 499.8h.01M547.6 497.7h.01M537.8 505.2h.01M543.2 511.3h.01M530.2 500.9h.01M527.9 510.0h.01M516.5 511.9h.01M521.8 498.7h.01M522.0 507.2h.01M502.6 503.2h.01M498.4 508.2h.01M492.9 499.1h.01M488.9 502.5h.01M491.9 504.7h.01M478.1 506.4h.01M469.4 509.6h.01M463.5 526.0h.01M464.4 512.1h.01M466.8 515.7h.01M476.2 523.8h.01M468.0 522.7h.01M484.7 525.2h.01M488.9 516.5h.01M493.0 527.6h.01M484.7 513.5h.01M509.3 516.9h.01M502.7 520.0h.01M504.3 513.1h.01M518.7 526.0h.01M527.8 523.6h.01M538.1 516.1h.01M531.6 516.4h.01M538.9 526.6h.01M546.4 516.1h.01M548.8 519.5h.01M563.2 514.2h.01M569.5 519.3h.01M572.5 514.4h.01M576.9 523.9h.01M589.0 516.9h.01M581.7 520.4h.01M603.5 512.7h.01M601.5 524.3h.01M613.8 517.7h.01M612.9 513.9h.01M610.3 517.9h.01M616.9 523.3h.01M628.2 523.3h.01M636.0 514.7h.01M626.1 526.6h.01M631.3 521.7h.01M636.3 525.6h.01M646.0 512.8h.01M647.4 525.7h.01M652.3 516.2h.01M640.9 519.0h.01M643.0 516.3h.01M663.3 519.0h.01M664.1 522.6h.01M671.6 525.1h.01M665.8 527.9h.01M679.1 521.1h.01M687.9 522.8h.01M683.4 517.0h.01M695.6 517.5h.01M703.8 519.9h.01M704.0 525.6h.01M692.7 514.2h.01M713.4 526.9h.01M707.5 518.1h.01M712.7 519.7h.01M715.2 524.0h.01M733.8 517.9h.01M720.5 526.7h.01M721.4 513.0h.01M723.8 521.5h.01M750.0 518.6h.01M737.4 525.3h.01M745.6 517.9h.01M759.8 520.3h.01M757.4 514.9h.01M760.8 516.6h.01M783.7 524.9h.01M775.5 516.8h.01M774.3 525.4h.01M788.7 516.7h.01M792.1 517.0h.01M815.8 525.5h.01M801.8 524.8h.01M802.0 517.5h.01M824.5 518.9h.01M831.1 515.4h.01M827.1 527.7h.01M844.5 521.0h.01M843.9 512.7h.01M837.7 516.5h.01M840.4 520.0h.01M859.6 519.1h.01M852.2 526.5h.01M862.4 525.9h.01M849.0 520.1h.01M874.3 528.0h.01M868.3 516.2h.01M876.4 516.6h.01M871.1 512.8h.01M892.5 518.8h.01M887.0 526.1h.01M891.9 526.0h.01M899.4 522.4h.01M908.7 513.1h.01M925.4 523.7h.01M917.5 527.4h.01M934.0 523.9h.01M938.5 522.9h.01M929.1 515.3h.01M951.1 516.8h.01M957.0 513.3h.01M948.4 523.1h.01M973.3 517.5h.01M974.2 523.1h.01M977.7 516.3h.01M987.7 518.1h.01M990.9 519.7h.01M998.8 524.4h.01M997.4 518.0h.01M992.2 524.6h.01M1012.5 526.4h.01M1023.3 523.1h.01M1027.2 517.9h.01M1225.1 524.6h.01M1236.9 524.6h.01M1552.2 521.7h.01M1555.4 520.8h.01M1561.5 517.5h.01M1577.0 524.4h.01M1582.7 515.7h.01M1582.3 521.5h.01M1571.0 520.7h.01M1577.0 513.6h.01M1582.6 524.5h.01M1592.9 517.9h.01M1592.0 526.7h.01M1592.3 521.4h.01M1597.2 524.2h.01M1597.8 519.8h.01M1606.7 527.7h.01M1600.2 525.0h.01M1610.7 527.8h.01M1606.1 518.3h.01M1607.9 521.9h.01M1622.4 527.4h.01M1627.8 522.0h.01M1631.0 527.8h.01M1634.7 527.9h.01M1634.2 522.7h.01M1683.5 541.5h.01M1672.4 539.5h.01M1667.8 533.8h.01M1666.8 540.6h.01M1652.3 534.7h.01M1661.5 533.9h.01M1655.0 542.5h.01M1656.4 530.0h.01M1660.5 543.5h.01M1637.7 542.3h.01M1632.5 543.1h.01M1643.0 534.0h.01M1632.7 536.6h.01M1640.1 536.1h.01M1633.2 539.9h.01M1618.0 538.0h.01M1628.7 531.7h.01M1617.3 531.3h.01M1622.9 541.7h.01M1626.6 534.9h.01M1629.9 541.0h.01M1614.0 533.2h.01M1609.2 533.6h.01M1605.8 530.6h.01M1613.5 529.2h.01M1613.2 537.7h.01M1602.0 532.6h.01M1596.4 540.1h.01M1586.5 531.3h.01M1588.1 534.4h.01M1592.6 543.5h.01M1589.7 540.1h.01M1585.2 537.6h.01M1592.9 536.1h.01M1569.1 538.9h.01M1581.2 532.2h.01M1579.9 540.5h.01M1575.8 541.6h.01M1574.1 538.4h.01M1579.2 529.2h.01M1552.2 537.8h.01M1558.8 541.2h.01M1567.9 543.0h.01M1561.5 530.4h.01M1548.1 534.2h.01M1550.9 528.6h.01M1314.0 541.0h.01M1310.7 539.1h.01M1297.6 543.1h.01M1305.5 536.7h.01M1291.7 543.2h.01M1292.9 539.2h.01M1280.8 541.8h.01M1274.3 537.4h.01M1275.4 533.3h.01M1268.5 540.2h.01M1266.1 536.0h.01M1270.3 535.0h.01M1262.2 533.8h.01M1259.4 537.9h.01M1255.8 531.3h.01M1250.2 534.3h.01M1248.5 538.0h.01M1232.2 528.3h.01M1244.2 530.5h.01M1235.5 535.9h.01M1233.3 538.6h.01M1239.2 530.0h.01M1222.0 531.7h.01M1218.2 540.4h.01M1223.7 534.3h.01M1217.0 537.3h.01M1219.1 534.5h.01M1214.2 543.5h.01M1209.2 540.1h.01M1188.0 542.7h.01M1181.5 536.6h.01M1156.5 534.5h.01M1155.2 542.3h.01M1144.6 536.0h.01M1124.8 542.6h.01M1054.2 536.3h.01M1034.7 537.0h.01M1038.3 540.4h.01M1008.9 529.2h.01M1018.6 531.1h.01M997.0 538.7h.01M999.4 531.3h.01M998.8 534.9h.01M990.8 530.1h.01M985.0 530.2h.01M978.6 535.6h.01M962.9 542.9h.01M968.8 538.5h.01M975.5 539.9h.01M972.0 534.0h.01M956.0 528.3h.01M946.8 539.0h.01M958.6 543.1h.01M935.9 537.8h.01M929.2 534.2h.01M940.7 530.4h.01M912.8 540.1h.01M924.2 530.3h.01M901.7 531.1h.01M911.4 529.3h.01M905.7 531.7h.01M894.4 542.5h.01M885.9 533.2h.01M885.9 542.3h.01M878.6 540.8h.01M864.3 541.5h.01M864.9 538.1h.01M848.9 542.1h.01M855.5 537.0h.01M857.9 534.6h.01M852.0 531.6h.01M856.3 528.3h.01M843.4 542.0h.01M834.8 532.1h.01M839.8 532.3h.01M840.1 535.5h.01M819.3 538.0h.01M820.7 529.4h.01M831.3 538.8h.01M811.7 530.6h.01M809.1 534.3h.01M791.4 532.4h.01M799.2 529.4h.01M783.4 530.9h.01M765.0 541.6h.01M765.0 535.4h.01M754.3 531.6h.01M737.4 531.3h.01M742.1 534.4h.01M749.6 542.6h.01M724.8 537.1h.01M720.3 529.9h.01M728.3 540.2h.01M719.2 534.8h.01M717.0 543.3h.01M716.6 539.8h.01M717.3 529.3h.01M705.9 539.4h.01M700.1 543.0h.01M690.9 543.5h.01M702.6 536.9h.01M695.6 539.2h.01M684.1 535.5h.01M675.0 540.2h.01M679.0 532.5h.01M685.9 542.3h.01M679.0 528.3h.01M660.6 542.8h.01M663.4 537.9h.01M656.5 528.2h.01M657.8 533.6h.01M650.6 535.2h.01M654.0 537.0h.01M648.7 530.3h.01M644.4 540.8h.01M630.3 536.4h.01M635.5 529.8h.01M632.3 533.4h.01M624.8 534.2h.01M637.3 535.8h.01M612.1 538.3h.01M618.8 543.9h.01M623.7 538.1h.01M609.1 540.2h.01M599.6 537.8h.01M592.0 533.0h.01M605.0 533.5h.01M594.3 540.6h.01M584.2 537.9h.01M590.5 542.8h.01M581.4 539.8h.01M574.3 533.3h.01M568.5 537.1h.01M569.9 530.5h.01M553.2 534.4h.01M548.7 539.6h.01M537.2 530.7h.01M531.5 531.3h.01M519.3 534.1h.01M526.4 534.6h.01M496.1 542.9h.01M499.3 541.5h.01M496.7 528.5h.01M485.1 535.3h.01M492.8 542.7h.01M477.1 530.6h.01M476.2 533.8h.01M472.6 530.0h.01M467.4 530.0h.01M452.9 535.1h.01M455.6 533.1h.01M459.4 542.0h.01M461.4 536.5h.01M455.1 537.2h.01M447.1 534.7h.01M446.7 543.6h.01M399.0 557.6h.01M408.4 558.0h.01M404.2 556.1h.01M415.7 553.7h.01M421.1 555.5h.01M430.0 554.3h.01M425.2 552.8h.01M428.4 551.3h.01M434.3 558.2h.01M440.9 551.4h.01M443.5 554.7h.01M447.3 558.4h.01M463.4 544.1h.01M454.7 546.8h.01M448.1 554.4h.01M448.4 546.6h.01M470.2 558.7h.01M465.4 555.5h.01M474.0 554.0h.01M479.0 552.1h.01M479.8 544.6h.01M485.4 554.4h.01M492.4 552.9h.01M487.5 550.2h.01M498.0 557.3h.01M511.9 550.1h.01M518.5 552.0h.01M520.9 547.5h.01M542.7 546.8h.01M535.3 547.6h.01M552.4 550.6h.01M567.0 551.4h.01M572.4 558.2h.01M579.3 558.2h.01M584.0 557.6h.01M605.1 548.7h.01M601.2 545.0h.01M622.4 547.7h.01M628.2 548.0h.01M653.7 545.1h.01M652.4 549.5h.01M658.0 550.3h.01M686.8 551.4h.01M694.2 546.0h.01M688.1 554.7h.01M704.5 544.9h.01M732.7 546.4h.01M723.1 546.0h.01M751.9 558.4h.01M758.3 550.3h.01M763.0 558.7h.01M764.3 550.9h.01M782.3 548.4h.01M775.5 544.3h.01M787.6 550.8h.01M815.7 558.4h.01M811.6 552.2h.01M831.7 549.2h.01M828.8 555.6h.01M842.1 550.0h.01M839.3 557.6h.01M840.3 553.2h.01M849.2 545.1h.01M859.9 547.9h.01M863.0 552.1h.01M864.7 556.6h.01M872.9 552.4h.01M867.8 547.0h.01M888.2 547.5h.01M893.7 552.0h.01M911.6 548.2h.01M914.8 555.1h.01M936.4 545.8h.01M953.9 557.0h.01M950.0 545.4h.01M971.1 544.2h.01M960.2 545.8h.01M967.7 544.3h.01M991.5 554.6h.01M983.3 554.9h.01M984.5 551.4h.01M1005.4 551.5h.01M1000.8 556.4h.01M1008.0 545.9h.01M1002.5 546.1h.01M993.8 545.0h.01M1019.4 549.8h.01M1010.8 553.6h.01M1017.3 553.6h.01M1031.6 558.8h.01M1044.4 556.8h.01M1060.8 544.9h.01M1077.1 547.2h.01M1101.2 554.2h.01M1109.6 549.0h.01M1105.7 546.7h.01M1118.1 548.7h.01M1134.5 558.3h.01M1122.3 550.8h.01M1132.6 555.0h.01M1144.3 551.1h.01M1148.9 548.7h.01M1155.6 558.4h.01M1167.9 549.8h.01M1173.5 557.9h.01M1172.9 552.5h.01M1192.5 550.0h.01M1215.1 556.9h.01M1210.7 548.0h.01M1219.3 551.7h.01M1219.8 546.4h.01M1242.6 545.8h.01M1256.8 548.5h.01M1250.8 547.4h.01M1259.7 547.3h.01M1274.9 550.2h.01M1277.5 552.3h.01M1271.3 556.0h.01M1285.3 549.7h.01M1282.0 544.8h.01M1288.3 558.4h.01M1284.7 557.5h.01M1287.3 544.7h.01M1304.5 545.6h.01M1307.5 547.2h.01M1311.0 556.8h.01M1310.8 553.0h.01M1302.5 549.9h.01M1316.6 550.8h.01M1323.5 556.2h.01M1323.4 547.8h.01M1321.0 553.9h.01M1318.4 544.1h.01M1347.0 547.2h.01M1563.0 554.6h.01M1552.1 558.8h.01M1553.8 546.8h.01M1560.7 552.2h.01M1565.6 548.3h.01M1558.4 555.9h.01M1579.9 554.4h.01M1572.4 554.6h.01M1572.9 551.1h.01M1581.0 558.9h.01M1578.5 545.6h.01M1574.3 559.9h.01M1573.5 545.5h.01M1593.4 552.9h.01M1597.2 546.9h.01M1586.2 548.6h.01M1596.3 555.1h.01M1587.0 558.6h.01M1599.2 544.3h.01M1602.2 546.2h.01M1600.8 557.2h.01M1608.1 557.4h.01M1611.7 559.7h.01M1614.8 549.9h.01M1601.7 550.5h.01M1617.4 544.0h.01M1616.4 553.7h.01M1630.6 559.5h.01M1625.5 546.9h.01M1619.7 551.6h.01M1624.1 558.5h.01M1617.4 547.5h.01M1639.9 558.6h.01M1641.1 549.8h.01M1640.8 555.1h.01M1645.4 553.5h.01M1643.9 559.4h.01M1633.8 547.6h.01M1657.9 549.3h.01M1649.9 547.0h.01M1649.9 556.5h.01M1658.2 553.7h.01M1657.2 545.8h.01M1656.4 557.7h.01M1674.0 559.9h.01M1679.8 552.6h.01M1675.6 545.8h.01M1667.0 548.5h.01M1666.6 553.4h.01M1670.3 559.9h.01M1681.9 547.8h.01M1664.3 560.6h.01M1659.4 565.7h.01M1649.6 563.0h.01M1649.9 568.0h.01M1661.0 562.2h.01M1635.6 562.0h.01M1633.7 574.8h.01M1636.7 573.5h.01M1638.2 568.5h.01M1641.8 570.9h.01M1646.0 566.1h.01M1622.5 570.6h.01M1630.8 570.7h.01M1623.5 562.6h.01M1621.4 567.5h.01M1607.9 566.0h.01M1610.9 568.2h.01M1601.5 572.9h.01M1600.3 562.6h.01M1608.4 562.3h.01M1604.3 570.9h.01M1590.8 568.2h.01M1599.1 569.6h.01M1593.6 572.1h.01M1595.1 563.8h.01M1588.9 561.7h.01M1560.5 563.1h.01M1339.0 563.0h.01M1313.5 561.7h.01M1317.7 574.2h.01M1297.6 566.4h.01M1294.0 570.6h.01M1283.1 568.8h.01M1235.7 564.3h.01M1201.4 568.1h.01M1189.3 563.2h.01M1182.3 565.4h.01M1161.0 564.6h.01M1165.4 561.0h.01M1145.9 573.5h.01M1151.2 564.7h.01M1142.6 573.6h.01M1130.8 572.8h.01M1123.7 572.4h.01M1127.2 565.4h.01M1117.2 565.8h.01M1109.3 565.9h.01M1109.4 569.6h.01M1099.2 574.7h.01M1099.2 569.9h.01M1083.0 569.0h.01M1077.7 560.1h.01M1062.5 572.9h.01M1068.5 563.5h.01M1053.8 574.0h.01M1041.9 564.4h.01M1026.0 567.1h.01M1011.8 563.8h.01M1009.7 572.0h.01M1017.9 568.4h.01M1014.9 567.8h.01M993.6 563.5h.01M1002.5 562.9h.01M1002.8 568.4h.01M1000.1 561.0h.01M993.1 570.8h.01M976.7 567.9h.01M989.5 567.3h.01M982.5 563.6h.01M977.3 560.4h.01M966.9 570.9h.01M968.4 564.1h.01M946.7 566.4h.01M936.5 572.3h.01M919.3 573.4h.01M901.9 566.4h.01M883.5 560.5h.01M881.8 572.2h.01M867.1 560.8h.01M868.9 573.9h.01M875.0 571.6h.01M854.5 566.7h.01M861.8 573.9h.01M843.2 560.1h.01M838.4 563.2h.01M841.1 568.3h.01M822.3 569.2h.01M824.6 566.5h.01M806.2 561.3h.01M811.6 563.6h.01M787.6 567.2h.01M768.2 574.6h.01M776.4 563.3h.01M766.2 563.0h.01M757.7 569.6h.01M750.5 567.9h.01M742.5 563.7h.01M731.8 560.7h.01M729.0 573.6h.01M710.4 561.0h.01M697.2 566.5h.01M677.8 567.0h.01M662.1 571.9h.01M642.6 568.2h.01M637.8 563.0h.01M593.8 560.3h.01M588.2 576.0h.01M560.2 561.7h.01M566.4 564.2h.01M551.2 565.4h.01M549.4 573.4h.01M533.3 572.6h.01M539.7 574.6h.01M527.4 560.0h.01M510.4 561.8h.01M504.0 575.1h.01M480.9 567.5h.01M486.0 565.7h.01M473.3 563.1h.01M471.8 568.2h.01M464.7 568.3h.01M461.4 563.0h.01M463.2 574.6h.01M448.4 567.8h.01M460.2 570.8h.01M453.0 565.4h.01M435.2 568.0h.01M443.4 573.4h.01M436.1 571.9h.01M446.9 565.2h.01M437.7 575.5h.01M430.9 570.5h.01M418.2 566.0h.01M430.5 560.9h.01M427.4 575.5h.01M416.5 573.1h.01M415.0 560.1h.01M411.5 565.6h.01M401.2 565.5h.01M408.3 573.3h.01M396.6 563.4h.01M400.0 561.4h.01M399.3 567.9h.01M397.5 575.4h.01M394.4 560.2h.01M380.7 565.1h.01M365.5 591.7h.01M380.6 583.4h.01M378.6 591.4h.01M380.9 577.8h.01M374.8 589.8h.01M386.0 587.4h.01M390.5 587.0h.01M386.4 581.9h.01M388.1 591.0h.01M400.4 585.7h.01M414.6 587.0h.01M406.1 581.3h.01M403.0 591.7h.01M413.8 582.9h.01M423.3 579.4h.01M424.1 585.3h.01M416.8 577.5h.01M418.9 586.8h.01M418.9 591.0h.01M433.5 579.7h.01M440.1 580.0h.01M433.3 589.3h.01M444.4 587.5h.01M439.2 591.5h.01M457.2 584.3h.01M460.2 578.2h.01M459.8 591.9h.01M464.0 584.3h.01M471.4 582.6h.01M478.4 578.0h.01M482.0 589.3h.01M482.9 577.8h.01M507.4 580.7h.01M522.1 581.3h.01M531.3 577.3h.01M557.6 579.4h.01M548.8 585.3h.01M568.5 577.8h.01M586.3 579.3h.01M599.7 588.6h.01M614.9 577.7h.01M628.2 581.9h.01M671.9 589.0h.01M702.8 581.2h.01M713.5 590.4h.01M735.7 577.5h.01M731.4 585.4h.01M739.2 586.1h.01M766.1 587.5h.01M780.0 584.5h.01M791.6 579.8h.01M807.0 576.9h.01M820.3 578.7h.01M831.8 583.0h.01M844.0 577.6h.01M837.7 587.2h.01M859.9 587.4h.01M862.5 583.2h.01M877.1 587.7h.01M894.1 589.9h.01M884.0 578.0h.01M904.7 581.8h.01M918.2 588.8h.01M932.9 591.4h.01M933.9 586.9h.01M949.8 585.5h.01M969.9 586.8h.01M963.9 576.9h.01M967.3 581.0h.01M978.0 576.7h.01M984.2 578.0h.01M991.0 591.4h.01M989.5 579.2h.01M1003.0 583.7h.01M1001.4 591.8h.01M994.8 590.7h.01M997.9 589.3h.01M993.4 581.0h.01M1015.6 578.8h.01M1020.2 587.8h.01M1016.1 590.8h.01M1010.6 579.7h.01M1024.8 585.6h.01M1029.2 580.8h.01M1034.2 579.6h.01M1043.2 577.3h.01M1048.1 584.1h.01M1060.8 589.4h.01M1071.3 581.7h.01M1057.4 589.6h.01M1086.6 579.3h.01M1082.8 577.4h.01M1082.2 587.7h.01M1093.9 576.6h.01M1098.4 579.5h.01M1089.1 589.3h.01M1110.4 590.9h.01M1110.2 576.6h.01M1109.1 586.9h.01M1118.4 581.8h.01M1123.9 580.4h.01M1129.4 585.5h.01M1134.3 581.9h.01M1128.5 581.1h.01M1128.8 577.2h.01M1137.2 579.1h.01M1144.3 588.5h.01M1149.4 577.3h.01M1163.2 580.6h.01M1165.6 578.1h.01M1158.4 588.7h.01M1174.5 584.1h.01M1185.3 577.5h.01M1275.4 591.2h.01M1304.2 587.9h.01M1319.1 586.0h.01M1328.5 582.6h.01M1627.9 578.2h.01M1633.4 579.4h.01M1455.1 607.8h.01M1363.8 602.5h.01M1330.2 596.4h.01M1315.4 596.4h.01M1304.8 606.4h.01M1223.3 595.3h.01M1203.2 605.6h.01M1198.9 602.0h.01M1182.3 604.2h.01M1168.6 593.1h.01M1155.9 604.7h.01M1157.3 595.1h.01M1161.0 606.9h.01M1161.9 600.9h.01M1146.6 604.9h.01M1150.8 598.7h.01M1142.5 602.3h.01M1138.9 605.0h.01M1130.5 605.2h.01M1135.7 596.6h.01M1134.4 592.3h.01M1128.2 601.5h.01M1117.9 593.9h.01M1106.7 605.7h.01M1118.5 606.1h.01M1107.1 601.9h.01M1113.7 605.9h.01M1100.2 603.2h.01M1103.3 593.1h.01M1096.6 598.1h.01M1093.1 607.9h.01M1087.0 594.8h.01M1074.7 602.1h.01M1084.7 607.1h.01M1069.5 606.2h.01M1061.8 599.4h.01M1057.7 595.6h.01M1052.5 602.3h.01M1048.0 606.7h.01M1049.9 597.4h.01M1027.0 603.9h.01M1036.5 592.9h.01M1012.4 597.2h.01M1018.9 597.8h.01M1017.1 604.8h.01M1016.7 600.2h.01M1022.4 600.8h.01M1007.6 599.2h.01M997.2 607.2h.01M993.4 607.3h.01M997.1 598.4h.01M984.6 603.3h.01M985.8 599.7h.01M985.4 592.8h.01M962.1 597.7h.01M965.7 592.4h.01M946.3 592.5h.01M959.2 598.7h.01M942.2 603.1h.01M930.7 602.5h.01M920.6 605.1h.01M904.4 600.6h.01M903.8 594.9h.01M892.2 598.5h.01M869.6 603.5h.01M862.9 606.3h.01M854.3 599.9h.01M835.6 606.4h.01M833.5 604.1h.01M847.5 602.4h.01M829.2 604.1h.01M825.9 607.1h.01M812.1 597.7h.01M812.0 606.9h.01M786.6 596.1h.01M776.0 597.0h.01M761.1 601.7h.01M739.9 592.5h.01M751.3 601.7h.01M730.6 606.7h.01M705.7 592.8h.01M694.1 603.9h.01M681.6 593.7h.01M646.4 603.3h.01M634.0 602.6h.01M615.7 601.1h.01M605.0 592.2h.01M579.0 596.1h.01M564.0 601.5h.01M569.1 594.6h.01M554.8 604.9h.01M542.6 604.6h.01M541.4 593.1h.01M523.1 607.9h.01M509.7 605.5h.01M490.1 595.0h.01M464.3 600.7h.01M474.5 602.8h.01M472.6 592.5h.01M450.9 596.1h.01M461.5 595.8h.01M458.5 598.0h.01M434.3 598.3h.01M440.4 596.0h.01M435.4 605.5h.01M445.1 600.2h.01M424.1 606.2h.01M430.2 593.7h.01M422.6 596.6h.01M428.0 596.8h.01M421.4 599.9h.01M404.4 596.0h.01M415.0 595.4h.01M415.8 602.9h.01M415.6 598.4h.01M386.1 596.1h.01M389.7 598.1h.01M399.3 596.9h.01M390.1 594.8h.01M372.7 598.3h.01M375.8 592.9h.01M383.1 604.9h.01M365.3 594.8h.01M359.3 605.8h.01M365.8 597.8h.01M367.5 602.8h.01M340.7 604.3h.01M332.6 617.7h.01M350.0 619.6h.01M343.9 619.6h.01M349.7 609.5h.01M336.9 616.5h.01M365.9 608.9h.01M358.4 613.4h.01M360.5 622.7h.01M368.3 623.2h.01M370.5 614.3h.01M369.6 611.4h.01M382.8 616.6h.01M387.9 616.2h.01M384.8 614.1h.01M398.3 617.1h.01M415.9 623.4h.01M404.9 618.2h.01M412.8 610.3h.01M406.9 615.2h.01M429.4 618.3h.01M443.9 616.6h.01M447.8 610.1h.01M433.7 615.7h.01M457.8 610.5h.01M452.8 611.6h.01M457.7 615.9h.01M464.8 622.4h.01M465.0 616.7h.01M475.1 619.8h.01M495.9 616.0h.01M494.7 610.6h.01M514.0 615.1h.01M526.6 613.3h.01M535.9 614.6h.01M557.6 608.5h.01M552.1 610.9h.01M573.2 608.4h.01M584.8 614.2h.01M589.2 619.8h.01M620.5 609.4h.01M634.9 620.3h.01M641.7 615.0h.01M670.3 617.3h.01M681.9 608.6h.01M701.4 611.9h.01M708.5 623.9h.01M735.2 608.3h.01M748.4 622.8h.01M779.5 616.9h.01M783.3 620.5h.01M795.1 616.1h.01M807.5 622.4h.01M812.9 617.3h.01M815.8 619.0h.01M821.6 619.1h.01M831.6 611.7h.01M822.9 612.8h.01M828.9 623.8h.01M838.2 611.8h.01M841.5 618.6h.01M847.7 615.7h.01M840.1 614.4h.01M851.8 613.1h.01M853.8 610.0h.01M856.5 622.1h.01M876.5 619.4h.01M869.4 622.7h.01M889.6 619.2h.01M900.9 621.8h.01M924.3 613.3h.01M918.8 608.6h.01M929.3 623.0h.01M938.7 622.7h.01M957.0 622.7h.01M952.1 617.6h.01M972.0 617.8h.01M963.5 616.3h.01M965.5 608.2h.01M978.9 610.7h.01M983.1 615.9h.01M987.5 613.6h.01M978.6 617.6h.01M1000.5 620.2h.01M1001.1 614.5h.01M998.3 611.1h.01M994.3 618.0h.01M1007.4 621.8h.01M1018.6 621.8h.01M1020.8 614.5h.01M1014.7 615.4h.01M1039.0 611.9h.01M1032.5 608.1h.01M1040.0 623.0h.01M1024.2 612.6h.01M1044.4 617.8h.01M1054.5 617.4h.01M1055.6 613.6h.01M1068.8 619.4h.01M1058.4 616.6h.01M1059.5 622.7h.01M1073.2 621.3h.01M1075.3 608.6h.01M1088.0 618.4h.01M1086.1 614.8h.01M1085.8 621.7h.01M1088.7 622.9h.01M1101.7 613.1h.01M1103.5 617.3h.01M1097.0 608.2h.01M1091.1 618.7h.01M1098.6 616.3h.01M1107.8 620.7h.01M1105.7 610.8h.01M1109.4 616.2h.01M1112.7 615.8h.01M1133.2 614.0h.01M1121.8 616.5h.01M1124.5 609.8h.01M1128.6 622.4h.01M1129.7 610.3h.01M1137.9 615.8h.01M1148.1 611.1h.01M1149.8 617.4h.01M1137.0 610.0h.01M1150.9 622.6h.01M1164.8 621.2h.01M1159.4 616.2h.01M1166.3 614.1h.01M1153.3 619.9h.01M1170.7 618.7h.01M1173.8 611.3h.01M1195.1 621.3h.01M1195.6 613.9h.01M1185.2 616.7h.01M1202.5 617.5h.01M1224.8 620.3h.01M1235.7 623.2h.01M1305.8 615.4h.01M1322.2 610.8h.01M1473.3 616.2h.01M1498.3 622.5h.01M1513.8 634.2h.01M1490.4 627.2h.01M1487.4 632.6h.01M1463.7 625.1h.01M1392.0 628.1h.01M1372.1 637.7h.01M1312.0 639.2h.01M1308.1 630.6h.01M1255.4 635.7h.01M1222.0 626.8h.01M1209.4 624.4h.01M1211.4 628.8h.01M1186.8 639.2h.01M1189.0 629.5h.01M1184.6 629.5h.01M1171.6 639.7h.01M1178.0 638.3h.01M1172.3 627.4h.01M1164.6 629.7h.01M1160.5 625.8h.01M1156.4 638.0h.01M1163.9 638.4h.01M1153.3 634.1h.01M1151.7 628.9h.01M1141.7 640.0h.01M1136.2 624.3h.01M1141.7 625.5h.01M1134.6 632.2h.01M1131.7 625.4h.01M1133.3 637.7h.01M1121.8 625.8h.01M1104.9 626.4h.01M1117.6 624.3h.01M1117.5 639.9h.01M1115.7 627.6h.01M1097.2 625.4h.01M1096.0 631.6h.01M1093.5 626.5h.01M1089.6 629.4h.01M1086.6 626.8h.01M1074.0 636.8h.01M1077.3 624.8h.01M1060.9 628.7h.01M1057.8 638.7h.01M1069.2 634.2h.01M1065.4 634.3h.01M1046.0 636.7h.01M1041.8 639.3h.01M1052.6 639.3h.01M1036.4 638.4h.01M1032.9 630.6h.01M1031.5 636.0h.01M1032.3 626.5h.01M1023.7 626.5h.01M1013.3 637.4h.01M1019.3 629.4h.01M1009.1 636.2h.01M1008.9 639.3h.01M1006.6 625.4h.01M999.5 637.6h.01M993.6 627.8h.01M994.2 624.5h.01M998.6 624.4h.01M983.3 627.6h.01M981.2 635.0h.01M990.4 633.7h.01M973.6 636.6h.01M972.5 631.5h.01M969.0 632.4h.01M953.4 636.8h.01M950.4 636.4h.01M959.1 627.0h.01M939.9 633.4h.01M942.9 627.4h.01M918.4 634.7h.01M910.4 637.7h.01M901.7 635.9h.01M880.6 638.9h.01M870.3 636.7h.01M874.0 624.7h.01M859.4 624.6h.01M855.0 627.9h.01M852.8 624.2h.01M840.1 631.3h.01M842.4 624.7h.01M846.7 630.2h.01M820.9 632.4h.01M818.6 635.3h.01M827.5 637.5h.01M811.5 633.0h.01M800.9 636.3h.01M809.0 636.6h.01M809.2 629.3h.01M792.6 639.8h.01M798.7 628.7h.01M777.7 635.1h.01M780.1 632.6h.01M753.9 624.8h.01M765.2 629.0h.01M746.1 638.1h.01M728.4 635.6h.01M711.3 638.5h.01M697.9 635.5h.01M656.5 635.3h.01M646.9 625.7h.01M635.9 624.2h.01M621.8 626.8h.01M595.2 625.8h.01M591.1 625.1h.01M573.7 624.1h.01M568.4 631.7h.01M547.7 630.7h.01M530.4 625.6h.01M541.8 633.1h.01M519.9 630.3h.01M500.7 631.0h.01M489.6 634.6h.01M481.5 634.5h.01M469.8 637.4h.01M470.8 626.5h.01M465.5 630.6h.01M458.0 636.4h.01M457.3 627.7h.01M452.3 631.5h.01M442.4 624.1h.01M437.8 629.5h.01M446.0 626.7h.01M427.1 627.8h.01M431.4 637.3h.01M426.8 632.1h.01M413.0 635.8h.01M404.5 636.6h.01M407.3 635.5h.01M390.9 636.4h.01M390.3 627.1h.01M395.1 624.7h.01M398.5 624.7h.01M371.6 624.8h.01M377.7 631.9h.01M378.6 626.6h.01M362.8 629.8h.01M365.2 639.5h.01M351.1 629.6h.01M348.0 625.3h.01M343.3 624.3h.01M332.6 627.3h.01M328.3 626.4h.01M323.9 636.7h.01M309.0 632.3h.01M316.7 647.0h.01M317.6 643.3h.01M327.8 652.3h.01M329.0 643.4h.01M323.2 648.5h.01M349.4 650.5h.01M351.7 644.4h.01M344.3 644.6h.01M361.8 645.8h.01M352.6 651.1h.01M364.6 648.3h.01M366.0 654.1h.01M379.2 645.3h.01M381.2 640.2h.01M395.6 655.2h.01M392.8 641.7h.01M393.5 650.2h.01M394.8 647.3h.01M389.0 646.4h.01M408.0 654.0h.01M406.9 646.3h.01M412.0 654.3h.01M426.5 642.5h.01M422.0 649.1h.01M438.2 653.7h.01M444.8 640.5h.01M446.6 652.0h.01M450.5 648.1h.01M463.0 645.3h.01M463.3 652.6h.01M468.1 644.6h.01M474.0 641.9h.01M482.4 642.9h.01M492.5 643.6h.01M496.6 652.5h.01M505.6 655.9h.01M518.9 653.4h.01M524.4 651.4h.01M542.2 651.9h.01M544.8 650.3h.01M559.8 653.7h.01M567.5 651.6h.01M583.9 642.5h.01M604.9 651.5h.01M593.6 649.2h.01M639.4 644.9h.01M653.8 647.3h.01M661.4 642.8h.01M680.5 650.7h.01M702.3 645.8h.01M689.4 641.5h.01M716.9 643.7h.01M706.9 645.1h.01M734.5 647.3h.01M729.9 649.1h.01M726.1 643.8h.01M747.6 647.9h.01M751.8 651.6h.01M757.0 645.4h.01M759.8 647.0h.01M780.2 643.6h.01M777.6 645.6h.01M770.2 651.2h.01M796.2 641.0h.01M787.9 650.5h.01M789.5 647.5h.01M792.5 650.2h.01M814.8 651.4h.01M803.6 653.9h.01M811.4 650.5h.01M808.2 640.5h.01M830.3 641.5h.01M822.3 647.5h.01M828.9 649.7h.01M826.3 647.4h.01M838.7 646.6h.01M845.8 647.4h.01M854.5 649.5h.01M854.8 640.0h.01M876.9 645.2h.01M891.4 646.1h.01M907.4 650.5h.01M925.9 645.5h.01M924.4 641.9h.01M930.5 652.5h.01M954.3 644.9h.01M975.7 647.7h.01M964.0 655.9h.01M972.1 651.9h.01M984.4 643.7h.01M977.8 640.8h.01M985.1 655.9h.01M993.7 643.5h.01M1006.0 644.5h.01M1000.3 650.1h.01M996.8 643.0h.01M998.6 652.9h.01M1023.7 648.2h.01M1009.5 649.5h.01M1012.4 653.5h.01M1017.9 652.3h.01M1013.7 641.6h.01M1034.8 642.3h.01M1034.1 651.8h.01M1028.4 647.3h.01M1029.3 653.8h.01M1049.8 649.5h.01M1055.8 644.3h.01M1050.4 644.7h.01M1040.1 655.4h.01M1064.5 642.5h.01M1067.0 640.1h.01M1063.4 645.4h.01M1078.1 641.6h.01M1072.2 643.3h.01M1097.3 647.6h.01M1099.0 650.9h.01M1091.8 641.5h.01M1113.5 648.3h.01M1108.8 649.2h.01M1126.3 640.7h.01M1125.3 649.7h.01M1135.4 653.2h.01M1139.2 641.8h.01M1141.5 646.5h.01M1140.3 650.4h.01M1162.3 643.9h.01M1167.0 652.0h.01M1158.4 645.3h.01M1154.0 640.6h.01M1167.3 647.7h.01M1170.4 651.0h.01M1178.6 650.8h.01M1170.1 643.1h.01M1181.2 644.1h.01M1186.0 648.2h.01M1193.0 655.3h.01M1196.4 641.6h.01M1202.5 643.7h.01M1210.0 654.9h.01M1229.8 651.5h.01M1320.6 653.8h.01M1333.3 647.0h.01M1353.7 648.0h.01M1379.5 642.4h.01M1418.2 655.2h.01M1453.2 648.0h.01M1486.0 648.4h.01M1503.8 652.0h.01M1508.0 647.8h.01M1517.6 640.2h.01M1535.8 654.8h.01M1521.8 648.3h.01M1549.0 655.0h.01M1542.5 645.7h.01M1553.7 648.0h.01M1583.6 653.4h.01M1569.2 653.8h.01M1578.0 648.3h.01M1586.3 655.1h.01M1597.2 655.6h.01M1591.8 654.1h.01M1602.3 660.5h.01M1602.9 669.3h.01M1586.8 662.5h.01M1594.6 658.8h.01M1571.2 665.2h.01M1576.5 671.6h.01M1580.1 660.9h.01M1575.8 661.7h.01M1583.8 664.4h.01M1580.4 667.8h.01M1567.4 659.0h.01M1564.4 670.9h.01M1567.1 663.8h.01M1550.1 668.7h.01M1528.1 659.9h.01M1511.1 668.6h.01M1508.1 658.8h.01M1500.2 658.9h.01M1477.1 662.0h.01M1425.4 663.7h.01M1402.2 666.9h.01M1333.4 666.0h.01M1304.4 661.4h.01M1290.8 662.9h.01M1263.8 661.7h.01M1246.4 667.3h.01M1222.5 664.2h.01M1201.2 671.1h.01M1198.5 664.6h.01M1187.9 665.2h.01M1193.8 664.3h.01M1189.5 660.5h.01M1168.7 668.0h.01M1179.5 670.3h.01M1178.9 656.5h.01M1161.6 663.6h.01M1156.9 671.3h.01M1152.6 658.3h.01M1149.7 669.2h.01M1150.4 661.6h.01M1139.6 665.7h.01M1148.8 664.7h.01M1132.8 658.0h.01M1121.7 658.8h.01M1119.3 663.7h.01M1114.4 658.0h.01M1096.5 661.7h.01M1096.1 665.2h.01M1084.0 665.0h.01M1079.0 657.2h.01M1075.2 667.1h.01M1065.0 656.9h.01M1062.6 669.0h.01M1067.1 669.2h.01M1040.2 659.8h.01M1046.5 665.2h.01M1051.3 661.4h.01M1046.4 657.2h.01M1025.8 665.2h.01M1039.7 668.0h.01M1030.7 670.0h.01M1036.0 665.1h.01M1030.5 658.1h.01M1017.1 663.9h.01M1021.9 667.0h.01M1010.3 667.4h.01M1011.8 671.5h.01M1007.3 660.8h.01M995.8 670.1h.01M1005.4 665.5h.01M1001.2 660.9h.01M989.3 664.3h.01M987.4 668.0h.01M981.3 667.9h.01M966.6 666.6h.01M947.2 667.9h.01M945.8 671.4h.01M934.5 672.0h.01M920.6 667.7h.01M898.3 660.0h.01M904.4 657.0h.01M881.6 656.4h.01M873.2 667.9h.01M857.8 661.8h.01M833.3 659.7h.01M837.4 656.5h.01M817.1 662.6h.01M825.3 670.9h.01M821.2 668.3h.01M800.9 657.4h.01M806.1 660.6h.01M812.8 662.4h.01M806.6 671.5h.01M792.2 657.6h.01M796.9 662.8h.01M789.5 658.9h.01M797.7 656.8h.01M784.3 668.1h.01M772.7 660.2h.01M783.3 660.6h.01M773.2 671.4h.01M754.8 659.3h.01M761.3 666.2h.01M767.9 664.2h.01M751.7 667.0h.01M748.5 661.0h.01M749.6 656.6h.01M730.8 671.7h.01M732.9 662.6h.01M705.5 670.4h.01M720.0 666.3h.01M688.8 668.0h.01M692.0 670.3h.01M681.6 660.8h.01M667.2 671.7h.01M662.0 663.2h.01M652.9 660.9h.01M641.1 660.4h.01M632.6 666.8h.01M614.5 656.2h.01M611.7 671.2h.01M604.3 664.3h.01M591.9 666.7h.01M563.2 663.8h.01M570.4 666.2h.01M559.3 669.3h.01M543.3 670.7h.01M523.1 660.8h.01M500.7 664.9h.01M502.3 660.3h.01M484.0 661.6h.01M493.5 665.2h.01M476.6 662.9h.01M455.7 664.1h.01M452.2 671.6h.01M433.3 657.9h.01M434.8 661.6h.01M446.5 664.5h.01M423.1 658.9h.01M429.8 661.5h.01M426.7 661.7h.01M406.2 667.8h.01M409.9 661.5h.01M409.3 657.0h.01M413.0 669.3h.01M393.9 662.5h.01M388.2 661.5h.01M399.7 667.7h.01M382.9 657.4h.01M370.9 658.5h.01M383.4 666.8h.01M361.3 667.8h.01M364.9 660.8h.01M355.0 668.0h.01M345.3 670.8h.01M341.7 664.8h.01M342.1 656.4h.01M333.7 668.5h.01M332.2 657.3h.01M335.5 684.3h.01M341.1 687.5h.01M347.6 686.6h.01M352.0 683.2h.01M347.5 674.9h.01M362.2 687.8h.01M381.9 673.7h.01M372.0 677.2h.01M376.9 681.8h.01M370.1 682.1h.01M392.5 681.6h.01M388.9 672.4h.01M398.5 685.7h.01M410.7 683.8h.01M415.9 680.8h.01M414.9 672.3h.01M417.2 685.8h.01M421.3 672.3h.01M446.2 684.2h.01M441.8 673.7h.01M450.4 683.4h.01M463.2 678.8h.01M475.0 678.6h.01M474.3 686.4h.01M480.4 678.5h.01M483.5 678.3h.01M507.7 675.0h.01M520.0 680.2h.01M528.1 681.1h.01M539.4 678.3h.01M548.9 685.1h.01M574.6 673.9h.01M573.4 677.0h.01M582.2 678.3h.01M598.9 672.0h.01M607.0 674.8h.01M609.6 678.8h.01M614.4 687.3h.01M630.5 680.7h.01M630.6 686.5h.01M625.0 682.7h.01M650.3 674.0h.01M643.2 677.0h.01M656.6 674.7h.01M660.3 673.4h.01M658.2 686.8h.01M675.4 677.4h.01M686.7 676.3h.01M672.8 672.1h.01M689.9 683.2h.01M694.5 679.7h.01M688.8 688.0h.01M689.3 672.6h.01M715.9 682.9h.01M705.9 684.9h.01M718.0 674.7h.01M722.2 672.8h.01M722.1 686.4h.01M725.2 679.7h.01M751.6 683.0h.01M744.7 683.5h.01M739.1 674.3h.01M761.5 687.5h.01M755.5 675.9h.01M753.4 678.9h.01M776.8 676.5h.01M781.9 681.0h.01M780.2 688.0h.01M769.1 674.7h.01M788.1 679.5h.01M797.7 679.3h.01M795.6 676.9h.01M795.7 672.6h.01M796.7 684.3h.01M815.4 678.2h.01M809.2 686.9h.01M804.3 681.9h.01M811.6 680.5h.01M824.2 682.8h.01M822.3 679.5h.01M834.3 678.7h.01M843.3 672.7h.01M833.9 682.4h.01M852.0 674.2h.01M874.6 686.1h.01M895.7 676.6h.01M907.3 685.4h.01M925.3 672.1h.01M914.1 678.0h.01M939.3 682.1h.01M958.1 672.9h.01M947.5 679.8h.01M973.8 677.5h.01M978.8 685.2h.01M985.2 684.6h.01M1007.4 678.6h.01M993.7 680.2h.01M999.3 682.8h.01M1010.3 686.8h.01M1023.9 684.5h.01M1011.9 678.2h.01M1021.3 672.5h.01M1029.3 674.6h.01M1036.5 679.8h.01M1027.1 680.4h.01M1028.9 685.9h.01M1025.1 673.0h.01M1055.7 686.8h.01M1040.9 678.1h.01M1049.9 675.6h.01M1043.6 686.3h.01M1066.0 674.2h.01M1068.9 677.1h.01M1059.5 686.9h.01M1102.0 680.6h.01M1093.5 685.9h.01M1117.0 685.1h.01M1107.3 685.9h.01M1135.6 678.8h.01M1125.6 683.9h.01M1135.4 675.1h.01M1139.4 683.4h.01M1139.6 678.4h.01M1151.6 677.7h.01M1156.7 680.4h.01M1156.9 685.2h.01M1157.5 675.9h.01M1166.9 674.1h.01M1154.9 674.4h.01M1178.4 675.2h.01M1175.4 685.1h.01M1183.9 681.8h.01M1168.8 678.5h.01M1192.8 675.6h.01M1186.0 686.1h.01M1199.4 683.9h.01M1196.3 683.8h.01M1207.3 679.3h.01M1200.9 679.6h.01M1202.8 683.4h.01M1223.9 674.1h.01M1218.2 686.6h.01M1237.7 675.9h.01M1273.3 678.0h.01M1302.6 675.6h.01M1318.2 672.7h.01M1341.7 686.7h.01M1354.8 685.6h.01M1347.5 683.9h.01M1352.2 677.4h.01M1359.9 679.2h.01M1366.4 682.3h.01M1369.5 685.5h.01M1369.2 680.6h.01M1385.7 675.7h.01M1418.5 681.8h.01M1433.2 680.7h.01M1454.3 678.4h.01M1461.0 683.9h.01M1475.6 683.9h.01M1514.8 675.3h.01M1518.2 678.4h.01M1522.4 677.6h.01M1544.6 681.1h.01M1547.6 683.1h.01M1560.6 681.3h.01M1567.8 685.3h.01M1565.6 687.7h.01M1569.2 678.7h.01M1577.1 681.3h.01M1573.2 678.6h.01M1568.1 673.0h.01M1577.0 674.8h.01M1593.1 682.4h.01M1586.6 675.5h.01M1590.9 674.8h.01M1584.9 681.5h.01M1597.3 687.8h.01M1598.2 678.4h.01M1603.6 686.5h.01M1610.5 678.2h.01M1606.2 681.0h.01M1607.8 676.6h.01M1605.7 699.3h.01M1598.9 690.7h.01M1587.9 689.2h.01M1587.8 700.9h.01M1587.1 695.8h.01M1594.0 696.0h.01M1587.3 692.7h.01M1570.8 693.0h.01M1582.3 692.6h.01M1570.8 699.2h.01M1577.3 700.0h.01M1577.9 695.0h.01M1576.2 703.5h.01M1559.9 695.4h.01M1567.1 702.9h.01M1566.3 695.9h.01M1546.9 697.9h.01M1546.6 701.2h.01M1529.1 702.7h.01M1527.3 693.9h.01M1516.7 694.2h.01M1489.5 691.6h.01M1468.5 690.4h.01M1453.2 690.2h.01M1404.5 691.4h.01M1392.8 701.9h.01M1397.3 700.5h.01M1389.7 703.9h.01M1377.4 690.3h.01M1382.8 688.0h.01M1381.7 701.3h.01M1366.2 694.3h.01M1361.3 698.5h.01M1360.5 691.5h.01M1363.0 702.0h.01M1363.6 692.4h.01M1351.4 692.8h.01M1359.1 703.6h.01M1351.5 696.3h.01M1345.4 692.9h.01M1354.2 691.6h.01M1329.3 702.9h.01M1314.8 697.3h.01M1302.5 692.0h.01M1249.3 693.1h.01M1224.7 696.7h.01M1218.6 693.6h.01M1205.6 696.8h.01M1210.1 692.2h.01M1185.1 693.5h.01M1188.2 699.5h.01M1199.2 688.8h.01M1195.9 689.0h.01M1189.9 695.3h.01M1180.0 696.8h.01M1168.5 701.6h.01M1169.0 698.0h.01M1174.1 701.4h.01M1181.6 693.8h.01M1165.6 692.5h.01M1156.4 700.8h.01M1162.8 696.5h.01M1159.2 688.4h.01M1144.1 694.7h.01M1145.8 689.2h.01M1149.8 697.6h.01M1139.0 688.1h.01M1129.3 703.5h.01M1130.3 698.9h.01M1119.8 692.7h.01M1116.6 698.8h.01M1109.5 702.9h.01M1109.4 688.1h.01M1096.6 691.4h.01M1093.5 702.4h.01M1096.5 696.9h.01M1074.3 692.0h.01M1077.6 701.9h.01M1087.3 695.5h.01M1058.6 691.1h.01M1056.4 696.3h.01M1069.5 691.7h.01M1045.2 700.5h.01M1051.4 689.0h.01M1052.7 698.0h.01M1047.9 694.5h.01M1030.7 692.2h.01M1027.2 694.0h.01M1039.9 703.0h.01M1033.3 699.8h.01M1018.0 699.8h.01M1012.5 701.5h.01M1008.9 698.8h.01M992.3 697.0h.01M994.0 693.7h.01M996.5 699.7h.01M982.0 703.7h.01M981.4 697.6h.01M976.8 690.6h.01M965.3 694.3h.01M962.4 689.8h.01M951.4 700.3h.01M947.8 694.2h.01M941.0 697.1h.01M936.6 694.9h.01M942.6 694.1h.01M924.0 696.9h.01M922.6 703.5h.01M927.3 696.9h.01M902.5 696.6h.01M906.2 692.0h.01M899.2 698.2h.01M881.2 689.7h.01M888.6 700.0h.01M869.0 702.6h.01M868.3 699.1h.01M861.1 690.8h.01M843.1 696.9h.01M842.1 688.7h.01M826.4 688.8h.01M820.5 698.4h.01M825.4 694.3h.01M812.6 693.6h.01M803.8 690.1h.01M801.7 692.4h.01M791.9 693.4h.01M790.0 700.1h.01M798.9 699.6h.01M785.9 694.1h.01M775.2 689.1h.01M778.9 701.1h.01M772.7 694.2h.01M781.4 691.8h.01M752.2 694.9h.01M755.8 690.3h.01M755.0 697.5h.01M743.5 704.0h.01M746.2 689.7h.01M749.2 688.5h.01M748.1 694.3h.01M730.6 695.6h.01M731.6 691.7h.01M726.0 690.4h.01M705.0 689.0h.01M708.3 700.3h.01M706.3 693.5h.01M716.3 694.5h.01M690.6 697.9h.01M702.8 701.3h.01M689.4 693.2h.01M692.6 690.0h.01M672.5 695.5h.01M678.7 703.3h.01M676.7 696.6h.01M679.2 694.8h.01M659.0 692.9h.01M661.3 688.3h.01M667.6 703.1h.01M661.3 696.8h.01M649.3 703.4h.01M641.0 697.1h.01M628.9 703.1h.01M639.5 692.8h.01M621.6 690.4h.01M619.4 702.8h.01M609.1 694.8h.01M594.3 695.1h.01M602.4 688.2h.01M605.8 703.7h.01M578.9 702.2h.01M589.4 699.4h.01M561.2 698.7h.01M573.0 702.3h.01M558.4 692.3h.01M556.0 699.4h.01M552.6 694.1h.01M528.8 696.3h.01M512.1 698.5h.01M510.8 690.7h.01M511.7 693.6h.01M487.5 689.9h.01M491.7 689.2h.01M467.8 698.0h.01M471.0 699.0h.01M475.3 697.7h.01M463.7 688.9h.01M452.3 703.3h.01M459.3 691.6h.01M434.5 699.1h.01M440.5 697.3h.01M425.9 693.2h.01M422.7 695.2h.01M405.0 690.4h.01M411.3 688.1h.01M404.5 701.7h.01M392.2 690.7h.01M389.3 695.7h.01M393.7 702.2h.01M382.4 693.6h.01M372.8 703.9h.01M379.3 700.1h.01M366.1 701.7h.01M356.7 694.8h.01M358.4 688.8h.01M357.7 698.5h.01M343.5 699.6h.01M347.1 693.1h.01M336.4 691.8h.01M341.5 694.2h.01M328.3 697.5h.01M332.2 701.3h.01M332.0 704.8h.01M349.6 708.9h.01M351.5 713.5h.01M344.5 706.7h.01M349.5 718.0h.01M343.4 718.9h.01M366.9 714.5h.01M362.0 711.8h.01M362.2 716.3h.01M353.0 704.4h.01M369.0 705.8h.01M374.3 719.8h.01M374.6 708.5h.01M393.9 710.1h.01M386.7 714.7h.01M408.0 711.1h.01M403.7 717.3h.01M421.8 716.1h.01M427.9 711.2h.01M446.1 707.6h.01M443.9 710.3h.01M446.1 712.7h.01M452.0 709.3h.01M451.6 719.5h.01M459.2 710.3h.01M473.0 715.6h.01M464.5 705.3h.01M464.3 719.5h.01M486.5 718.3h.01M487.4 705.3h.01M506.9 704.4h.01M500.4 705.6h.01M520.9 718.6h.01M521.4 711.9h.01M535.0 709.3h.01M531.1 718.5h.01M555.0 716.7h.01M552.4 718.2h.01M556.5 711.0h.01M572.0 710.3h.01M563.6 719.7h.01M569.1 718.2h.01M576.3 715.0h.01M591.8 709.7h.01M582.1 706.4h.01M601.8 705.4h.01M614.6 715.6h.01M621.6 719.7h.01M611.0 715.3h.01M638.0 715.5h.01M635.0 712.7h.01M632.9 705.2h.01M649.0 711.3h.01M649.6 717.1h.01M669.6 719.2h.01M667.5 710.6h.01M660.4 708.2h.01M659.7 704.4h.01M675.6 715.8h.01M686.9 710.5h.01M682.7 705.2h.01M679.0 714.6h.01M687.1 719.9h.01M697.1 719.0h.01M688.6 715.4h.01M700.8 711.8h.01M693.0 718.1h.01M690.7 710.6h.01M718.5 715.0h.01M708.5 719.1h.01M714.7 705.9h.01M719.3 711.0h.01M717.1 719.8h.01M724.1 708.8h.01M726.8 705.4h.01M734.7 713.1h.01M743.0 713.0h.01M750.0 705.9h.01M739.9 718.0h.01M757.1 708.4h.01M756.2 717.9h.01M765.6 706.0h.01M763.1 711.3h.01M770.3 711.8h.01M768.8 714.9h.01M771.7 707.9h.01M799.4 709.8h.01M792.5 709.3h.01M784.6 715.1h.01M804.2 705.9h.01M808.6 713.2h.01M814.7 711.2h.01M831.6 709.9h.01M831.0 706.0h.01M835.7 710.0h.01M839.2 719.0h.01M854.6 715.6h.01M852.2 704.3h.01M872.7 710.3h.01M874.9 704.3h.01M867.7 711.8h.01M893.9 710.4h.01M888.2 708.4h.01M882.6 705.2h.01M911.3 715.0h.01M908.4 709.3h.01M897.3 705.8h.01M918.2 715.0h.01M925.7 715.9h.01M917.4 718.3h.01M923.5 708.5h.01M914.5 704.9h.01M935.6 711.4h.01M934.3 719.5h.01M930.9 719.7h.01M953.4 704.4h.01M954.1 710.1h.01M947.1 718.5h.01M965.4 717.9h.01M964.4 712.3h.01M965.5 707.7h.01M976.7 711.8h.01M989.1 716.4h.01M993.4 719.6h.01M993.1 706.0h.01M1003.4 717.0h.01M998.0 709.2h.01M1020.2 718.2h.01M1022.3 704.1h.01M1009.6 714.4h.01M1030.5 710.4h.01M1038.2 713.6h.01M1027.9 706.3h.01M1033.8 712.3h.01M1044.5 717.1h.01M1053.2 711.0h.01M1043.3 707.5h.01M1056.6 710.3h.01M1068.3 719.8h.01M1057.6 705.1h.01M1083.7 716.6h.01M1082.3 720.0h.01M1080.0 715.4h.01M1076.1 710.1h.01M1082.3 710.2h.01M1103.4 716.5h.01M1098.6 715.2h.01M1094.3 719.1h.01M1102.1 706.3h.01M1101.8 712.3h.01M1112.3 719.5h.01M1118.7 711.8h.01M1106.1 709.8h.01M1113.3 712.3h.01M1107.3 705.0h.01M1126.9 719.2h.01M1134.7 706.5h.01M1125.1 710.6h.01M1122.2 712.9h.01M1124.7 705.5h.01M1141.0 719.4h.01M1140.3 705.0h.01M1147.0 717.5h.01M1138.9 709.1h.01M1140.6 712.9h.01M1161.3 710.7h.01M1153.9 715.3h.01M1158.4 705.1h.01M1181.5 710.9h.01M1173.5 711.1h.01M1184.0 706.0h.01M1168.4 717.0h.01M1173.0 719.3h.01M1189.3 713.4h.01M1194.7 709.3h.01M1186.2 710.4h.01M1191.2 706.8h.01M1207.3 714.8h.01M1211.4 712.3h.01M1215.9 705.1h.01M1223.4 708.0h.01M1228.1 710.6h.01M1247.1 708.0h.01M1249.2 717.1h.01M1268.0 710.8h.01M1293.0 719.9h.01M1319.2 719.8h.01M1367.2 704.9h.01M1364.6 706.8h.01M1388.1 712.5h.01M1377.5 712.1h.01M1380.2 708.9h.01M1385.8 719.4h.01M1406.3 712.1h.01M1392.5 718.9h.01M1392.7 713.2h.01M1395.5 704.4h.01M1401.0 717.1h.01M1408.0 716.3h.01M1411.2 716.5h.01M1420.0 718.9h.01M1421.0 712.8h.01M1431.3 712.9h.01M1425.3 715.2h.01M1428.3 719.2h.01M1446.1 716.3h.01M1472.7 712.7h.01M1519.2 719.7h.01M1527.5 711.7h.01M1546.7 718.0h.01M1555.2 705.4h.01M1579.8 705.5h.01M1578.1 709.0h.01M1585.5 705.6h.01M1590.7 707.0h.01M1597.9 708.0h.01M1623.4 733.3h.01M1615.7 735.8h.01M1597.1 733.9h.01M1558.6 734.4h.01M1543.6 729.0h.01M1546.7 733.8h.01M1522.4 723.8h.01M1535.1 723.2h.01M1531.6 729.6h.01M1507.0 735.1h.01M1510.4 722.8h.01M1512.6 727.6h.01M1492.6 721.0h.01M1491.7 732.1h.01M1475.3 730.4h.01M1457.0 725.6h.01M1469.7 721.3h.01M1468.0 731.2h.01M1443.6 732.8h.01M1441.7 723.8h.01M1446.9 725.8h.01M1450.4 733.5h.01M1451.7 728.9h.01M1428.0 735.7h.01M1433.0 734.1h.01M1424.8 725.1h.01M1432.0 729.0h.01M1411.7 728.8h.01M1416.9 733.1h.01M1417.9 724.7h.01M1414.8 730.8h.01M1407.0 725.4h.01M1396.9 722.4h.01M1404.0 726.0h.01M1391.3 723.8h.01M1321.7 723.7h.01M1289.8 725.9h.01M1276.4 734.3h.01M1262.1 726.0h.01M1235.4 734.5h.01M1220.9 723.8h.01M1210.3 723.3h.01M1202.8 722.5h.01M1198.9 722.1h.01M1198.0 727.0h.01M1191.5 730.0h.01M1190.2 721.4h.01M1182.3 720.7h.01M1172.4 731.0h.01M1183.5 735.5h.01M1179.7 726.8h.01M1153.5 721.9h.01M1164.8 721.8h.01M1165.7 734.3h.01M1167.8 726.1h.01M1154.3 730.0h.01M1139.4 725.6h.01M1149.8 728.8h.01M1140.9 735.0h.01M1137.1 729.4h.01M1136.2 721.1h.01M1120.6 730.3h.01M1130.3 722.6h.01M1134.1 726.0h.01M1127.3 735.1h.01M1122.1 721.3h.01M1110.9 733.9h.01M1105.6 733.6h.01M1117.4 728.5h.01M1114.3 724.3h.01M1103.9 726.8h.01M1090.9 726.1h.01M1090.3 722.9h.01M1094.6 728.3h.01M1083.3 733.6h.01M1072.9 734.2h.01M1075.4 736.0h.01M1080.4 735.9h.01M1070.9 728.4h.01M1058.1 734.8h.01M1060.6 732.1h.01M1057.3 729.6h.01M1060.2 721.0h.01M1062.2 727.7h.01M1052.1 732.7h.01M1043.6 726.2h.01M1044.3 733.0h.01M1047.2 722.5h.01M1048.3 730.2h.01M1053.8 722.5h.01M1035.3 730.3h.01M1035.5 735.1h.01M1028.8 733.3h.01M1027.8 727.0h.01M1031.0 720.2h.01M1018.5 732.7h.01M1011.2 726.8h.01M1009.6 729.6h.01M1013.9 731.4h.01M1016.7 724.3h.01M1003.7 723.5h.01M995.0 734.2h.01M1000.3 733.1h.01M999.7 725.9h.01M990.3 727.6h.01M977.8 728.6h.01M980.8 725.0h.01M978.2 722.3h.01M986.7 720.1h.01M966.3 730.8h.01M971.0 724.1h.01M970.7 727.4h.01M965.4 724.9h.01M952.3 727.0h.01M948.2 732.9h.01M945.2 732.8h.01M939.1 733.0h.01M935.2 722.6h.01M942.8 723.8h.01M932.2 729.1h.01M912.8 723.9h.01M918.1 727.3h.01M926.5 727.0h.01M913.9 730.8h.01M910.2 734.3h.01M903.4 723.3h.01M900.4 723.8h.01M903.5 732.2h.01M896.8 730.1h.01M883.0 723.9h.01M885.1 731.7h.01M891.6 734.2h.01M883.9 727.5h.01M888.8 725.3h.01M875.7 726.2h.01M869.8 721.2h.01M861.5 725.5h.01M837.3 725.6h.01M836.6 730.1h.01M834.2 727.3h.01M825.7 728.1h.01M831.5 728.9h.01M820.5 721.3h.01M806.5 721.5h.01M807.3 735.0h.01M813.0 728.5h.01M797.1 720.5h.01M784.4 724.1h.01M793.6 735.9h.01M777.3 726.4h.01M783.6 720.1h.01M783.3 728.6h.01M766.2 734.6h.01M756.7 726.0h.01M753.6 724.0h.01M741.7 722.0h.01M736.1 724.8h.01M739.1 734.3h.01M750.0 724.3h.01M725.5 724.9h.01M721.0 731.2h.01M723.3 733.4h.01M735.4 731.3h.01M712.2 725.3h.01M714.8 732.5h.01M705.7 721.9h.01M708.4 728.9h.01M715.9 722.6h.01M705.4 729.7h.01M692.8 729.8h.01M695.2 725.9h.01M700.4 734.3h.01M696.2 729.4h.01M688.3 722.8h.01M677.3 735.3h.01M673.8 730.1h.01M682.8 720.5h.01M669.5 722.6h.01M670.0 731.3h.01M664.4 723.0h.01M666.2 734.4h.01M659.8 720.4h.01M652.7 721.6h.01M645.6 729.1h.01M628.8 723.8h.01M635.8 725.3h.01M620.1 732.7h.01M618.3 721.2h.01M608.3 722.7h.01M601.2 720.2h.01M604.2 720.9h.01M586.2 733.4h.01M588.7 722.5h.01M582.8 729.9h.01M571.9 732.1h.01M574.7 726.6h.01M570.9 728.6h.01M555.3 734.1h.01M558.1 725.3h.01M544.5 724.2h.01M540.2 721.9h.01M528.3 728.9h.01M541.7 729.9h.01M514.6 730.2h.01M524.7 721.2h.01M525.3 729.7h.01M500.2 732.1h.01M500.3 721.0h.01M505.8 733.4h.01M508.7 727.0h.01M488.7 731.0h.01M488.2 723.4h.01M481.2 732.1h.01M481.4 723.2h.01M473.7 726.3h.01M470.0 725.3h.01M471.8 731.5h.01M465.7 730.8h.01M456.5 721.7h.01M454.8 725.0h.01M456.2 728.0h.01M433.3 729.0h.01M443.4 729.8h.01M420.0 725.7h.01M416.3 727.4h.01M407.4 724.6h.01M407.7 728.7h.01M394.5 725.6h.01M386.6 731.0h.01M381.6 723.2h.01M369.2 720.7h.01M383.0 727.0h.01M367.5 728.1h.01M357.8 728.0h.01M352.3 732.5h.01M338.3 732.8h.01M351.6 721.2h.01M340.2 727.1h.01M350.9 749.9h.01M347.3 746.1h.01M360.9 746.6h.01M357.3 736.6h.01M361.7 743.3h.01M375.2 745.3h.01M379.7 739.7h.01M389.9 747.4h.01M394.7 744.3h.01M414.7 742.8h.01M413.7 750.2h.01M429.9 737.3h.01M424.6 737.5h.01M418.4 744.2h.01M441.5 745.6h.01M450.0 751.4h.01M451.9 736.1h.01M458.3 747.7h.01M479.8 749.2h.01M477.9 737.5h.01M470.0 739.4h.01M469.3 750.5h.01M491.9 749.1h.01M480.4 742.2h.01M494.7 736.7h.01M490.9 744.0h.01M497.3 740.1h.01M507.3 736.0h.01M507.4 751.0h.01M500.4 745.3h.01M503.1 751.0h.01M517.3 748.7h.01M521.9 745.7h.01M527.1 749.1h.01M520.8 738.2h.01M541.1 737.5h.01M538.2 738.7h.01M542.1 747.1h.01M535.0 736.1h.01M545.4 736.3h.01M551.1 738.5h.01M549.8 748.1h.01M554.9 740.0h.01M561.9 745.1h.01M562.9 738.4h.01M569.9 744.6h.01M589.1 747.6h.01M576.9 751.2h.01M594.2 740.4h.01M619.7 744.0h.01M637.1 747.2h.01M634.0 742.9h.01M626.2 749.2h.01M640.8 746.8h.01M652.3 748.3h.01M651.3 745.0h.01M656.2 739.2h.01M670.7 741.0h.01M670.0 746.2h.01M682.9 750.9h.01M674.2 746.0h.01M677.0 748.1h.01M678.6 744.7h.01M688.8 745.4h.01M703.5 750.2h.01M688.0 749.1h.01M691.5 739.8h.01M695.3 741.9h.01M716.5 740.5h.01M708.3 750.8h.01M714.1 737.4h.01M710.2 743.4h.01M718.2 747.0h.01M733.2 741.3h.01M723.2 736.9h.01M728.0 746.8h.01M721.8 751.0h.01M729.6 743.3h.01M737.4 747.7h.01M741.7 750.4h.01M751.7 742.7h.01M747.0 748.5h.01M748.7 738.5h.01M759.4 739.3h.01M762.2 751.8h.01M765.7 738.0h.01M755.3 740.4h.01M770.9 744.1h.01M777.6 746.0h.01M773.4 737.8h.01M790.7 747.6h.01M793.7 739.4h.01M786.9 751.7h.01M805.8 743.8h.01M802.3 750.8h.01M802.9 740.6h.01M813.4 739.8h.01M818.9 748.0h.01M818.0 751.0h.01M826.7 747.5h.01M837.5 748.5h.01M832.3 742.6h.01M840.4 743.1h.01M862.7 737.0h.01M852.7 736.2h.01M876.8 750.8h.01M871.7 738.0h.01M864.9 751.0h.01M878.5 742.1h.01M868.4 741.2h.01M882.6 743.4h.01M887.6 748.0h.01M895.5 751.8h.01M885.6 739.6h.01M904.6 749.3h.01M901.3 741.5h.01M910.6 746.2h.01M897.0 743.2h.01M907.7 750.5h.01M919.8 747.5h.01M914.5 741.8h.01M916.5 751.2h.01M916.2 738.5h.01M943.9 744.8h.01M941.6 742.1h.01M938.0 746.4h.01M936.3 739.9h.01M959.7 737.6h.01M956.3 737.6h.01M946.7 742.4h.01M955.5 744.6h.01M961.9 740.7h.01M970.4 746.7h.01M970.3 743.4h.01M973.7 738.3h.01M986.1 737.9h.01M979.9 748.8h.01M982.6 741.5h.01M991.8 744.1h.01M978.6 740.1h.01M1006.0 749.0h.01M1002.2 750.0h.01M992.0 738.3h.01M1005.2 740.4h.01M1007.9 737.3h.01M1011.2 748.2h.01M1023.0 743.7h.01M1015.0 737.2h.01M1022.3 748.4h.01M1019.1 749.7h.01M1016.6 744.7h.01M1026.1 741.3h.01M1033.5 743.7h.01M1032.4 737.9h.01M1034.6 740.4h.01M1026.5 745.7h.01M1029.4 741.2h.01M1040.4 745.1h.01M1046.1 745.8h.01M1052.7 749.3h.01M1050.7 745.2h.01M1052.6 740.7h.01M1041.6 749.2h.01M1058.0 746.9h.01M1071.3 739.7h.01M1062.0 751.6h.01M1066.7 748.3h.01M1064.0 742.9h.01M1062.6 746.7h.01M1069.2 736.9h.01M1083.2 742.5h.01M1081.7 746.5h.01M1084.8 736.7h.01M1086.9 739.8h.01M1087.7 749.5h.01M1094.7 742.4h.01M1100.7 740.4h.01M1113.7 745.5h.01M1117.3 738.3h.01M1111.6 737.4h.01M1104.3 736.9h.01M1131.8 736.4h.01M1134.2 750.3h.01M1136.0 742.5h.01M1124.3 749.5h.01M1126.8 738.7h.01M1144.8 739.2h.01M1148.8 749.0h.01M1142.4 749.9h.01M1146.8 744.4h.01M1138.9 750.5h.01M1156.3 749.6h.01M1157.1 740.2h.01M1159.4 742.3h.01M1152.3 750.6h.01M1168.6 751.7h.01M1173.3 742.6h.01M1179.6 737.5h.01M1194.9 741.0h.01M1188.3 749.6h.01M1195.6 736.7h.01M1209.9 741.8h.01M1209.7 751.3h.01M1218.2 738.6h.01M1247.6 744.6h.01M1255.8 743.0h.01M1275.8 738.1h.01M1290.8 743.0h.01M1305.2 744.1h.01M1438.8 738.5h.01M1433.1 741.9h.01M1433.1 749.8h.01M1445.5 750.8h.01M1450.5 749.2h.01M1451.7 741.0h.01M1442.2 746.9h.01M1467.6 747.3h.01M1468.8 742.2h.01M1460.1 744.8h.01M1470.2 750.0h.01M1485.4 747.7h.01M1482.8 750.7h.01M1476.5 745.0h.01M1493.2 748.7h.01M1503.8 742.3h.01M1501.1 739.3h.01M1496.6 750.6h.01M1494.1 742.9h.01M1509.5 740.4h.01M1513.6 748.7h.01M1505.4 750.9h.01M1506.4 744.0h.01M1531.6 740.9h.01M1521.0 746.7h.01M1521.7 736.9h.01M1542.5 748.1h.01M1538.5 747.4h.01M1547.0 748.7h.01M1561.8 747.8h.01M1554.3 739.7h.01M1576.4 746.9h.01M1579.7 747.0h.01M1572.4 748.8h.01M1598.2 749.6h.01M1587.3 736.2h.01M1584.4 741.2h.01M1595.1 742.5h.01M1614.0 751.8h.01M1606.6 743.1h.01M1615.6 743.8h.01M1612.1 743.9h.01M1609.2 750.3h.01M1608.5 738.0h.01M1612.4 748.7h.01M1619.9 744.6h.01M1619.7 750.5h.01M1622.6 739.8h.01M1616.2 749.0h.01M1619.5 741.1h.01M1635.3 749.2h.01M1639.3 760.3h.01M1624.6 762.5h.01M1622.9 752.6h.01M1619.0 757.7h.01M1627.5 765.6h.01M1619.6 762.2h.01M1625.3 755.7h.01M1631.1 753.0h.01M1610.1 756.5h.01M1606.4 762.8h.01M1602.0 762.5h.01M1607.6 766.3h.01M1609.4 759.5h.01M1601.2 753.9h.01M1594.1 765.3h.01M1584.9 759.8h.01M1593.2 755.4h.01M1590.4 752.1h.01M1586.8 763.3h.01M1590.5 763.2h.01M1581.1 764.0h.01M1575.3 764.3h.01M1574.6 752.9h.01M1565.4 760.8h.01M1564.9 766.0h.01M1543.3 767.2h.01M1548.6 767.5h.01M1540.3 765.6h.01M1540.5 754.9h.01M1524.5 759.4h.01M1529.8 763.5h.01M1535.1 756.7h.01M1510.1 758.5h.01M1515.5 764.2h.01M1513.8 761.6h.01M1518.7 762.8h.01M1497.9 755.6h.01M1495.7 762.3h.01M1497.9 760.2h.01M1476.0 756.3h.01M1482.0 756.1h.01M1473.9 753.2h.01M1487.7 757.3h.01M1459.0 752.6h.01M1466.7 755.7h.01M1464.7 758.1h.01M1447.4 765.2h.01M1451.0 761.4h.01M1436.0 765.0h.01M1427.1 763.6h.01M1439.1 765.6h.01M1430.4 765.2h.01M1417.6 762.0h.01M1422.1 752.9h.01M1408.6 761.4h.01M1403.7 753.1h.01M1393.9 760.8h.01M1404.3 756.3h.01M1382.4 757.7h.01M1273.4 752.2h.01M1258.1 765.2h.01M1232.4 755.9h.01M1222.8 762.8h.01M1210.1 761.0h.01M1207.1 763.8h.01M1197.3 754.6h.01M1186.8 767.9h.01M1168.7 757.4h.01M1172.0 755.5h.01M1179.7 763.5h.01M1162.8 763.2h.01M1164.8 755.3h.01M1152.0 763.6h.01M1156.4 758.5h.01M1139.7 755.3h.01M1147.0 767.2h.01M1137.3 758.1h.01M1132.8 754.6h.01M1129.0 752.2h.01M1122.8 762.9h.01M1125.5 758.6h.01M1112.1 764.3h.01M1117.6 761.5h.01M1118.5 752.1h.01M1116.1 757.9h.01M1103.4 767.6h.01M1093.4 755.5h.01M1091.8 767.4h.01M1099.6 752.6h.01M1088.4 757.9h.01M1087.5 753.5h.01M1073.3 753.9h.01M1075.2 757.5h.01M1078.0 766.0h.01M1084.8 764.6h.01M1064.0 758.2h.01M1060.7 763.3h.01M1071.9 758.0h.01M1058.6 752.4h.01M1061.1 759.7h.01M1044.4 757.2h.01M1041.1 756.4h.01M1055.9 760.6h.01M1055.9 765.3h.01M1046.5 763.7h.01M1051.6 754.0h.01M1042.6 760.5h.01M1024.5 758.7h.01M1035.1 758.8h.01M1027.2 757.1h.01M1030.3 762.0h.01M1037.5 754.4h.01M1027.2 752.8h.01M1037.9 764.3h.01M1013.6 765.3h.01M1011.6 753.6h.01M1021.5 756.0h.01M1011.2 758.2h.01M1019.2 760.6h.01M1017.1 766.5h.01M1005.1 757.3h.01M993.0 759.8h.01M1004.3 760.8h.01M1004.8 754.0h.01M1006.9 762.5h.01M1002.2 764.7h.01M990.5 762.3h.01M983.3 760.5h.01M989.2 757.0h.01M977.3 765.0h.01M984.0 754.7h.01M965.9 754.6h.01M970.2 754.8h.01M960.6 766.9h.01M952.9 761.1h.01M945.1 763.5h.01M948.8 766.0h.01M945.1 759.0h.01M933.3 758.2h.01M935.7 765.2h.01M937.0 757.7h.01M929.9 753.7h.01M931.5 762.0h.01M918.5 755.7h.01M925.1 758.6h.01M915.2 757.9h.01M927.3 765.3h.01M923.0 752.9h.01M904.0 763.3h.01M906.3 754.1h.01M911.1 767.8h.01M899.7 753.4h.01M899.3 759.1h.01M884.0 761.1h.01M882.6 754.9h.01M884.5 752.5h.01M887.9 763.7h.01M893.5 767.1h.01M877.2 766.7h.01M873.7 766.5h.01M868.4 756.5h.01M879.5 755.6h.01M861.0 766.1h.01M856.8 758.2h.01M862.3 758.6h.01M833.6 759.3h.01M836.7 764.7h.01M847.1 756.7h.01M846.2 764.0h.01M831.5 756.2h.01M819.1 766.7h.01M823.2 757.4h.01M812.8 764.0h.01M806.6 752.2h.01M809.4 757.6h.01M807.7 763.6h.01M793.0 760.1h.01M795.4 757.0h.01M790.6 752.5h.01M797.4 764.4h.01M792.1 757.2h.01M774.5 761.1h.01M783.3 762.2h.01M773.8 755.9h.01M779.0 754.5h.01M769.3 755.0h.01M758.2 762.1h.01M766.5 762.8h.01M767.7 758.5h.01M748.4 765.2h.01M741.0 763.2h.01M746.7 761.2h.01M736.1 754.3h.01M745.0 764.0h.01M720.0 758.1h.01M723.4 755.9h.01M722.4 761.8h.01M726.8 767.0h.01M734.1 760.0h.01M733.2 753.1h.01M717.7 754.1h.01M708.8 764.4h.01M713.7 765.8h.01M709.2 756.0h.01M712.0 762.4h.01M704.9 758.4h.01M701.3 766.9h.01M701.0 753.6h.01M698.1 758.3h.01M702.8 762.0h.01M682.2 758.4h.01M673.6 767.6h.01M685.3 758.2h.01M661.5 753.8h.01M657.4 754.3h.01M670.0 757.9h.01M664.0 755.7h.01M646.9 762.4h.01M650.4 764.5h.01M650.5 753.6h.01M626.3 759.6h.01M625.4 753.4h.01M616.4 766.8h.01M611.0 756.2h.01M592.9 758.5h.01M608.0 759.2h.01M578.5 757.2h.01M562.6 766.0h.01M573.8 757.2h.01M554.5 761.6h.01M552.5 767.7h.01M546.7 760.9h.01M532.4 758.1h.01M536.7 756.9h.01M543.6 758.3h.01M535.4 766.2h.01M522.5 765.4h.01M516.0 763.3h.01M520.7 761.1h.01M512.5 765.0h.01M527.5 758.8h.01M496.2 753.7h.01M502.2 761.4h.01M504.0 758.7h.01M499.0 761.3h.01M504.7 763.1h.01M510.4 761.1h.01M480.5 765.3h.01M480.7 756.7h.01M490.7 765.9h.01M486.9 763.0h.01M492.1 753.0h.01M491.2 756.7h.01M466.9 765.7h.01M465.5 761.9h.01M466.5 754.1h.01M476.1 764.2h.01M472.5 765.0h.01M454.7 756.1h.01M459.3 759.8h.01M456.5 763.2h.01M452.0 764.3h.01M462.4 766.8h.01M439.1 755.9h.01M439.5 767.1h.01M447.2 759.7h.01M418.5 758.8h.01M416.6 761.4h.01M412.5 754.5h.01M408.9 758.1h.01M399.6 759.5h.01M386.6 765.5h.01M385.1 760.5h.01M369.6 756.9h.01M355.7 765.5h.01M365.7 763.5h.01M349.2 759.3h.01M348.4 780.2h.01M354.0 776.0h.01M367.6 776.6h.01M371.9 768.8h.01M375.4 780.3h.01M381.4 779.9h.01M386.0 769.5h.01M397.2 778.6h.01M388.8 777.5h.01M400.1 782.1h.01M406.4 780.1h.01M405.6 776.7h.01M410.4 774.9h.01M416.5 770.2h.01M423.0 777.0h.01M420.2 768.7h.01M444.1 779.5h.01M432.2 778.0h.01M436.5 769.5h.01M432.6 771.6h.01M458.6 769.1h.01M452.5 778.6h.01M460.1 783.3h.01M460.7 772.0h.01M457.8 779.4h.01M474.9 775.2h.01M470.8 769.1h.01M472.0 777.2h.01M466.0 773.3h.01M473.2 771.8h.01M465.9 782.8h.01M474.3 780.7h.01M482.2 778.1h.01M489.7 780.2h.01M481.1 774.3h.01M495.5 772.5h.01M485.6 770.7h.01M483.5 781.4h.01M509.8 771.0h.01M508.4 783.3h.01M498.6 776.5h.01M505.7 770.6h.01M511.2 781.9h.01M507.7 778.6h.01M521.8 776.5h.01M525.8 773.1h.01M515.0 777.0h.01M527.9 781.3h.01M516.2 780.0h.01M542.1 775.8h.01M535.5 771.0h.01M531.7 782.5h.01M537.8 779.1h.01M547.5 778.7h.01M549.4 776.0h.01M568.6 777.5h.01M565.3 768.2h.01M587.5 772.9h.01M602.6 769.8h.01M611.3 780.8h.01M618.9 768.9h.01M631.6 770.6h.01M635.4 783.6h.01M652.8 776.7h.01M642.1 772.9h.01M666.5 780.4h.01M659.4 783.7h.01M656.5 777.8h.01M680.6 776.0h.01M685.1 780.7h.01M675.5 773.9h.01M690.5 776.0h.01M694.3 779.3h.01M688.1 781.1h.01M700.4 773.1h.01M694.4 783.0h.01M708.9 777.8h.01M715.2 784.0h.01M713.8 775.3h.01M718.8 773.3h.01M717.9 777.3h.01M732.4 780.7h.01M722.3 771.6h.01M726.2 778.7h.01M727.7 782.6h.01M729.4 769.2h.01M722.8 768.4h.01M744.5 769.2h.01M742.6 776.6h.01M743.8 772.7h.01M748.0 771.8h.01M740.9 783.1h.01M740.1 772.6h.01M764.0 781.4h.01M767.8 771.4h.01M752.3 769.3h.01M758.0 775.1h.01M752.5 774.1h.01M766.5 778.1h.01M762.9 776.8h.01M777.3 773.2h.01M776.7 776.8h.01M768.2 774.8h.01M779.7 771.2h.01M770.7 770.1h.01M774.5 779.6h.01M786.7 778.4h.01M797.0 772.7h.01M784.2 773.8h.01M792.7 782.5h.01M796.7 782.4h.01M815.8 774.0h.01M813.2 783.9h.01M805.3 773.3h.01M802.7 776.8h.01M823.4 769.9h.01M817.5 777.5h.01M829.9 783.2h.01M830.9 778.9h.01M822.9 779.9h.01M836.5 775.8h.01M846.8 779.7h.01M838.5 783.4h.01M843.3 769.2h.01M851.3 773.2h.01M862.8 776.1h.01M863.1 782.3h.01M872.3 782.8h.01M876.0 783.4h.01M875.3 779.8h.01M896.0 778.1h.01M894.6 773.0h.01M889.5 774.0h.01M893.3 780.6h.01M907.8 777.2h.01M903.8 777.6h.01M900.6 774.2h.01M898.1 782.2h.01M911.7 777.0h.01M913.5 782.8h.01M918.2 769.4h.01M922.3 773.6h.01M918.5 783.3h.01M922.5 769.5h.01M942.1 782.5h.01M934.1 768.5h.01M942.0 777.9h.01M934.8 771.6h.01M929.9 772.7h.01M948.8 779.5h.01M953.1 770.6h.01M946.8 775.5h.01M949.2 782.8h.01M958.9 783.2h.01M966.0 780.1h.01M969.5 776.6h.01M973.9 775.8h.01M974.1 783.0h.01M964.1 775.2h.01M987.1 775.6h.01M978.9 781.6h.01M986.2 770.4h.01M991.4 783.2h.01M979.0 776.5h.01M997.8 773.9h.01M993.7 769.7h.01M1000.9 772.9h.01M1006.3 777.2h.01M1006.6 774.0h.01M1017.2 783.0h.01M1012.0 771.9h.01M1010.3 775.8h.01M1020.1 773.4h.01M1013.5 784.0h.01M1021.6 778.1h.01M1036.3 769.9h.01M1025.0 778.5h.01M1036.3 779.4h.01M1030.0 778.0h.01M1030.6 768.0h.01M1027.6 782.5h.01M1054.7 782.6h.01M1053.2 774.8h.01M1049.1 779.4h.01M1046.3 771.9h.01M1042.3 773.7h.01M1040.0 776.5h.01M1070.3 774.4h.01M1071.5 783.3h.01M1062.2 770.7h.01M1068.6 777.7h.01M1059.5 781.4h.01M1057.9 773.0h.01M1066.6 783.9h.01M1087.2 774.8h.01M1076.7 778.7h.01M1087.3 778.9h.01M1072.4 779.6h.01M1084.4 782.2h.01M1079.7 774.4h.01M1096.7 771.2h.01M1096.3 780.6h.01M1089.9 770.6h.01M1101.2 778.2h.01M1113.1 783.2h.01M1107.7 770.2h.01M1118.4 770.8h.01M1104.1 772.7h.01M1128.0 782.3h.01M1128.9 770.1h.01M1134.8 768.3h.01M1138.5 782.6h.01M1151.9 781.7h.01M1159.2 781.5h.01M1156.6 773.8h.01M1157.4 777.5h.01M1170.7 768.6h.01M1174.5 768.4h.01M1192.7 778.4h.01M1194.6 768.1h.01M1201.9 775.8h.01M1230.0 773.6h.01M1265.5 777.5h.01M1390.1 783.5h.01M1394.6 771.9h.01M1403.7 778.9h.01M1401.5 782.4h.01M1418.2 777.4h.01M1410.1 768.2h.01M1419.9 774.1h.01M1416.1 773.7h.01M1430.6 782.8h.01M1434.3 776.4h.01M1426.1 768.8h.01M1455.8 779.8h.01M1445.8 773.3h.01M1448.1 776.1h.01M1440.3 776.1h.01M1471.1 781.6h.01M1464.6 773.2h.01M1459.8 768.8h.01M1478.8 770.9h.01M1475.2 778.8h.01M1486.9 782.5h.01M1494.0 769.0h.01M1493.4 775.3h.01M1496.8 781.2h.01M1494.1 778.2h.01M1516.5 781.3h.01M1504.3 779.2h.01M1513.8 774.9h.01M1534.1 776.5h.01M1524.9 768.5h.01M1532.2 768.8h.01M1526.0 778.9h.01M1537.6 771.8h.01M1550.2 783.0h.01M1551.7 768.6h.01M1564.3 771.1h.01M1566.2 773.7h.01M1556.8 778.0h.01M1563.7 776.2h.01M1568.7 768.2h.01M1569.7 778.9h.01M1577.7 782.3h.01M1581.9 771.6h.01M1599.5 773.8h.01M1593.6 779.8h.01M1595.3 770.7h.01M1591.9 782.7h.01M1594.7 775.5h.01M1616.0 779.5h.01M1604.2 781.0h.01M1607.3 774.8h.01M1601.5 768.5h.01M1612.2 782.5h.01M1607.6 779.1h.01M1621.8 777.7h.01M1616.4 783.8h.01M1616.3 773.6h.01M1624.2 769.5h.01M1620.3 772.7h.01M1619.8 783.1h.01M1634.2 776.6h.01M1623.8 790.6h.01M1617.8 786.8h.01M1621.0 786.6h.01M1630.0 786.7h.01M1604.9 794.6h.01M1608.6 798.6h.01M1610.9 793.0h.01M1607.4 792.7h.01M1600.6 798.3h.01M1594.1 789.2h.01M1589.2 791.9h.01M1590.6 797.8h.01M1597.2 787.0h.01M1581.3 793.9h.01M1570.6 784.3h.01M1580.6 798.1h.01M1572.4 799.6h.01M1558.9 787.5h.01M1558.0 794.9h.01M1558.2 790.7h.01M1546.8 799.7h.01M1546.8 796.5h.01M1546.7 787.9h.01M1550.2 799.2h.01M1521.8 785.0h.01M1520.8 789.8h.01M1533.3 790.7h.01M1531.8 797.4h.01M1510.2 791.7h.01M1517.1 795.8h.01M1514.3 791.6h.01M1496.1 798.4h.01M1500.7 795.2h.01M1497.1 784.9h.01M1495.9 792.8h.01M1484.2 784.1h.01M1473.4 797.5h.01M1475.1 785.8h.01M1482.5 799.6h.01M1477.7 791.5h.01M1467.7 790.8h.01M1460.4 795.8h.01M1457.4 787.3h.01M1470.0 787.1h.01M1465.2 794.2h.01M1440.8 800.0h.01M1449.6 792.7h.01M1454.2 795.0h.01M1447.8 784.7h.01M1450.7 797.8h.01M1429.2 785.7h.01M1429.6 798.0h.01M1432.8 790.8h.01M1436.8 791.1h.01M1414.5 791.9h.01M1407.8 790.0h.01M1388.5 794.4h.01M1362.5 787.1h.01M1368.9 793.9h.01M1354.6 791.5h.01M1245.1 787.0h.01M1168.5 788.6h.01M1161.5 798.9h.01M1157.7 789.1h.01M1162.2 786.1h.01M1142.4 798.2h.01M1137.3 787.8h.01M1121.2 787.8h.01M1125.7 798.9h.01M1128.5 786.8h.01M1109.5 788.8h.01M1112.6 793.0h.01M1115.4 795.5h.01M1103.0 789.6h.01M1093.5 791.0h.01M1091.4 799.4h.01M1098.9 785.2h.01M1078.4 793.4h.01M1087.2 784.4h.01M1086.4 797.0h.01M1068.6 793.4h.01M1059.8 794.2h.01M1062.1 790.0h.01M1066.4 787.2h.01M1061.5 786.3h.01M1046.6 786.1h.01M1053.7 788.9h.01M1048.4 789.5h.01M1049.7 785.4h.01M1030.6 798.7h.01M1029.0 785.6h.01M1040.0 786.7h.01M1038.2 798.8h.01M1024.7 786.5h.01M1008.7 797.3h.01M1018.5 792.1h.01M1010.0 785.1h.01M1019.3 795.5h.01M1017.1 787.0h.01M1007.3 788.5h.01M995.7 796.5h.01M1003.8 785.7h.01M993.1 788.1h.01M999.9 789.1h.01M990.5 793.1h.01M987.2 784.6h.01M976.1 785.4h.01M981.1 789.9h.01M973.8 789.4h.01M967.6 799.8h.01M966.0 784.2h.01M947.8 798.4h.01M944.2 789.1h.01M936.5 791.1h.01M928.8 784.3h.01M932.8 788.4h.01M923.8 785.3h.01M926.9 790.3h.01M925.4 799.5h.01M898.6 791.1h.01M906.4 794.6h.01M911.9 791.6h.01M907.6 784.7h.01M902.7 784.9h.01M891.2 791.0h.01M892.6 795.7h.01M894.6 788.6h.01M888.0 789.9h.01M881.7 794.6h.01M878.5 795.7h.01M867.7 793.1h.01M876.4 791.5h.01M878.8 785.5h.01M860.8 797.8h.01M854.7 799.6h.01M855.9 790.7h.01M851.1 793.7h.01M838.5 787.1h.01M848.0 789.1h.01M839.5 799.9h.01M841.3 788.5h.01M832.5 792.7h.01M820.7 799.6h.01M822.1 795.5h.01M825.6 798.2h.01M828.0 785.8h.01M821.6 791.8h.01M809.8 791.9h.01M811.7 789.3h.01M815.9 796.3h.01M806.7 791.6h.01M804.7 796.6h.01M785.7 792.4h.01M796.2 798.0h.01M791.4 794.8h.01M795.9 794.9h.01M787.8 786.7h.01M781.1 794.8h.01M768.3 784.8h.01M776.1 796.1h.01M778.3 793.1h.01M774.6 793.1h.01M757.2 799.1h.01M752.7 788.5h.01M762.8 794.7h.01M767.7 790.3h.01M766.5 795.8h.01M766.1 787.0h.01M759.5 784.7h.01M749.1 785.6h.01M741.8 788.6h.01M747.3 794.3h.01M750.1 796.1h.01M736.5 799.5h.01M725.3 794.0h.01M735.1 784.8h.01M728.4 785.7h.01M730.9 797.5h.01M710.6 792.6h.01M717.1 789.0h.01M693.6 791.1h.01M700.9 798.4h.01M689.3 796.1h.01M681.7 790.9h.01M680.1 788.1h.01M683.3 798.4h.01M669.1 785.8h.01M664.3 796.7h.01M643.9 788.6h.01M653.3 789.1h.01M631.2 796.9h.01M636.4 786.5h.01M618.5 799.4h.01M618.9 795.2h.01M597.9 791.0h.01M599.1 796.9h.01M586.5 788.6h.01M576.9 798.3h.01M570.2 794.2h.01M565.8 793.3h.01M557.0 789.2h.01M557.3 799.1h.01M555.4 795.4h.01M537.1 791.8h.01M542.2 788.7h.01M535.4 788.7h.01M526.8 786.7h.01M516.7 794.3h.01M515.8 789.8h.01M523.2 799.6h.01M510.9 786.0h.01M510.6 793.4h.01M506.9 790.9h.01M499.5 798.1h.01M498.7 786.5h.01M502.8 795.1h.01M491.1 796.4h.01M482.1 791.7h.01M488.6 786.6h.01M481.6 785.7h.01M485.8 790.3h.01M465.9 788.0h.01M469.0 790.6h.01M469.3 796.4h.01M479.3 795.5h.01M465.2 798.8h.01M473.6 799.1h.01M466.2 794.0h.01M455.5 784.2h.01M463.5 785.6h.01M451.3 790.1h.01M462.6 792.0h.01M457.5 793.4h.01M455.5 797.8h.01M445.3 791.2h.01M441.4 787.2h.01M447.6 786.0h.01M435.8 788.6h.01M438.5 795.2h.01M431.3 798.3h.01M422.2 796.7h.01M427.0 786.9h.01M418.9 795.0h.01M416.2 791.9h.01M408.1 792.0h.01M404.4 793.5h.01M409.0 788.5h.01M412.4 799.2h.01M415.3 784.5h.01M388.7 786.6h.01M393.1 791.5h.01M393.7 797.5h.01M386.4 791.3h.01M397.4 789.1h.01M369.3 797.4h.01M381.4 799.1h.01M373.6 794.9h.01M383.4 786.6h.01M363.5 790.5h.01M362.9 784.6h.01M364.1 798.1h.01M367.7 787.4h.01M366.6 801.4h.01M375.4 815.5h.01M374.8 807.9h.01M379.1 805.6h.01M369.8 813.3h.01M371.8 801.8h.01M389.6 810.3h.01M395.4 803.9h.01M387.9 806.9h.01M395.9 808.9h.01M386.2 811.7h.01M404.4 800.9h.01M408.5 802.6h.01M403.0 814.8h.01M400.7 811.3h.01M428.1 805.5h.01M427.1 810.6h.01M421.2 800.2h.01M421.1 809.9h.01M430.0 812.7h.01M436.3 810.4h.01M442.3 811.5h.01M446.3 803.9h.01M447.3 800.8h.01M432.5 802.8h.01M454.7 809.7h.01M454.4 806.1h.01M457.9 806.1h.01M449.5 812.6h.01M464.0 809.1h.01M457.7 801.3h.01M472.3 813.8h.01M472.3 804.6h.01M468.2 806.6h.01M479.9 815.6h.01M479.7 803.0h.01M486.3 809.7h.01M483.9 805.8h.01M481.3 808.0h.01M490.8 815.9h.01M494.9 801.8h.01M492.6 809.4h.01M507.6 804.2h.01M511.5 813.9h.01M511.6 810.1h.01M497.2 809.8h.01M526.3 805.6h.01M515.0 804.0h.01M527.3 808.6h.01M530.5 813.8h.01M533.2 806.6h.01M540.4 808.7h.01M553.7 800.1h.01M546.0 811.4h.01M564.7 804.1h.01M573.4 804.1h.01M577.8 801.8h.01M578.6 808.7h.01M592.1 807.6h.01M592.9 815.0h.01M592.8 800.6h.01M616.6 813.3h.01M622.2 801.7h.01M635.2 800.5h.01M633.7 803.8h.01M652.5 811.4h.01M647.2 805.4h.01M663.1 815.9h.01M662.7 812.9h.01M658.6 813.1h.01M683.4 808.6h.01M685.7 801.5h.01M703.3 810.9h.01M698.0 813.4h.01M696.1 802.4h.01M718.8 813.2h.01M708.0 802.9h.01M709.8 812.0h.01M721.8 806.0h.01M733.8 806.4h.01M731.9 815.3h.01M727.1 804.8h.01M724.9 802.8h.01M739.8 802.6h.01M741.2 807.8h.01M743.8 810.2h.01M737.4 811.7h.01M767.6 803.8h.01M760.5 811.4h.01M763.2 803.2h.01M752.2 806.1h.01M756.1 808.5h.01M766.0 807.2h.01M772.5 813.9h.01M782.9 814.3h.01M768.5 811.5h.01M780.0 806.2h.01M782.9 801.7h.01M769.9 800.3h.01M791.6 804.7h.01M795.3 808.9h.01M799.0 809.5h.01M797.2 812.3h.01M793.1 815.2h.01M804.2 808.9h.01M811.5 810.0h.01M807.7 803.7h.01M813.1 801.3h.01M801.7 811.2h.01M805.9 800.1h.01M818.3 812.7h.01M822.4 806.4h.01M822.2 810.9h.01M829.1 808.3h.01M818.2 802.0h.01M845.7 805.3h.01M832.1 811.5h.01M836.3 811.3h.01M837.6 815.0h.01M856.9 805.5h.01M863.3 811.4h.01M851.5 805.2h.01M861.6 808.6h.01M856.8 813.7h.01M868.0 801.5h.01M869.7 808.9h.01M878.8 813.5h.01M879.2 810.3h.01M872.9 810.3h.01M880.4 803.9h.01M895.6 806.4h.01M886.1 801.6h.01M894.0 815.3h.01M891.3 809.9h.01M898.2 811.9h.01M901.4 810.5h.01M910.0 808.3h.01M898.0 815.5h.01M913.3 814.7h.01M915.8 803.4h.01M927.9 801.9h.01M920.7 811.6h.01M921.7 807.6h.01M930.8 809.8h.01M939.6 811.0h.01M953.1 800.6h.01M955.4 812.5h.01M972.3 801.7h.01M960.1 814.6h.01M968.8 812.1h.01M987.8 807.5h.01M984.5 813.8h.01M978.7 810.8h.01M991.5 800.2h.01M994.7 815.6h.01M993.7 803.1h.01M993.1 809.3h.01M1000.0 803.9h.01M1002.6 801.2h.01M1023.2 810.8h.01M1014.4 801.4h.01M1023.3 806.9h.01M1012.0 813.5h.01M1017.3 811.3h.01M1039.9 811.7h.01M1032.5 804.1h.01M1034.1 813.5h.01M1047.3 811.4h.01M1053.7 802.3h.01M1046.6 803.2h.01M1055.4 809.7h.01M1042.3 816.0h.01M1065.6 813.6h.01M1071.8 806.1h.01M1063.6 805.5h.01M1058.3 802.0h.01M1063.1 815.6h.01M1079.3 814.4h.01M1073.1 811.5h.01M1080.4 806.7h.01M1075.7 800.1h.01M1103.3 813.6h.01M1088.8 805.3h.01M1091.6 804.2h.01M1108.6 807.9h.01M1118.6 808.0h.01M1114.0 811.8h.01M1114.2 800.1h.01M1132.1 808.7h.01M1129.7 812.5h.01M1149.7 814.4h.01M1150.4 807.1h.01M1155.1 813.7h.01M1364.2 808.1h.01M1387.0 814.4h.01M1404.5 808.8h.01M1410.2 809.9h.01M1414.9 801.9h.01M1414.3 815.8h.01M1433.7 810.1h.01M1434.3 803.6h.01M1438.4 807.3h.01M1443.2 803.8h.01M1449.0 803.2h.01M1454.4 802.8h.01M1442.2 813.1h.01M1441.7 810.0h.01M1463.1 814.4h.01M1456.1 808.4h.01M1468.0 815.8h.01M1466.3 804.6h.01M1459.7 800.1h.01M1475.5 803.6h.01M1476.8 815.0h.01M1478.9 804.6h.01M1477.9 810.8h.01M1474.0 808.5h.01M1480.6 807.8h.01M1497.8 812.5h.01M1497.7 803.3h.01M1496.6 808.3h.01M1493.3 814.8h.01M1489.5 815.7h.01M1507.0 811.5h.01M1509.8 802.2h.01M1510.1 812.9h.01M1514.4 812.4h.01M1521.9 814.9h.01M1527.9 806.3h.01M1520.5 800.5h.01M1533.0 815.9h.01M1541.1 809.6h.01M1550.7 808.5h.01M1541.3 803.1h.01M1563.6 804.0h.01M1555.1 806.8h.01M1557.1 809.3h.01M1554.3 815.2h.01M1576.6 815.3h.01M1584.0 813.4h.01M1582.2 810.4h.01M1593.5 804.6h.01M1588.9 807.2h.01M1591.6 810.8h.01M1585.3 801.6h.01M1601.5 811.4h.01M1635.0 801.5h.01M1584.1 818.9h.01M1576.2 819.1h.01M1521.5 821.7h.01M1515.8 821.4h.01M1505.5 819.4h.01M1509.1 831.0h.01M1498.1 831.7h.01M1489.6 822.3h.01M1494.2 822.4h.01M1502.1 822.0h.01M1495.0 826.2h.01M1478.3 831.4h.01M1475.1 830.6h.01M1481.1 827.9h.01M1485.7 829.4h.01M1484.2 819.2h.01M1465.7 825.0h.01M1460.9 825.9h.01M1471.7 826.6h.01M1460.8 819.8h.01M1462.6 829.8h.01M1469.6 819.3h.01M1453.0 829.3h.01M1441.2 816.3h.01M1442.9 822.5h.01M1452.3 818.5h.01M1431.8 827.4h.01M1439.0 825.3h.01M1434.9 827.9h.01M1436.5 818.5h.01M1411.9 831.7h.01M1418.4 823.1h.01M1418.8 831.0h.01M1407.1 828.1h.01M1404.8 823.8h.01M1406.1 830.9h.01M1382.0 822.6h.01M1378.9 830.7h.01M1376.2 820.6h.01M1363.1 831.7h.01M1372.7 829.5h.01M1371.1 825.7h.01M1155.9 827.8h.01M1140.3 820.2h.01M1151.8 828.1h.01M1149.0 824.9h.01M1135.6 824.4h.01M1124.9 817.4h.01M1109.0 818.5h.01M1112.3 830.9h.01M1114.8 820.8h.01M1102.2 828.9h.01M1094.8 825.2h.01M1092.6 816.2h.01M1091.2 822.9h.01M1072.1 821.3h.01M1082.3 818.7h.01M1080.7 826.2h.01M1075.6 820.5h.01M1067.6 831.1h.01M1067.5 824.7h.01M1070.4 826.4h.01M1063.8 831.8h.01M1055.9 827.1h.01M1051.3 816.9h.01M1049.8 827.0h.01M1046.0 827.1h.01M1029.7 820.2h.01M1031.3 829.6h.01M1025.9 824.4h.01M1033.0 822.0h.01M1011.8 826.2h.01M1012.0 821.0h.01M1010.8 831.8h.01M1009.7 822.9h.01M994.2 826.7h.01M999.6 825.8h.01M1003.7 824.4h.01M993.2 820.2h.01M1006.4 830.8h.01M981.4 824.6h.01M981.5 819.7h.01M991.7 816.5h.01M984.9 821.7h.01M961.6 819.0h.01M972.9 819.8h.01M963.5 824.4h.01M958.1 830.5h.01M945.8 829.3h.01M952.8 821.7h.01M931.3 831.4h.01M941.1 820.1h.01M929.0 828.7h.01M916.6 827.7h.01M922.2 818.0h.01M923.8 830.7h.01M907.9 820.3h.01M900.4 824.8h.01M902.8 829.9h.01M906.9 823.1h.01M883.3 829.6h.01M890.1 827.7h.01M895.9 829.7h.01M883.7 817.5h.01M886.4 823.5h.01M868.5 817.2h.01M864.8 817.8h.01M879.7 831.7h.01M869.1 826.2h.01M865.9 830.8h.01M854.5 832.0h.01M855.5 826.5h.01M859.6 824.4h.01M848.5 821.9h.01M863.8 823.1h.01M832.4 831.1h.01M834.5 818.9h.01M833.0 824.1h.01M842.1 824.5h.01M840.4 830.4h.01M840.2 820.9h.01M828.1 824.8h.01M829.6 822.2h.01M821.2 823.9h.01M817.1 817.3h.01M819.9 816.3h.01M821.8 820.2h.01M810.5 818.3h.01M807.6 816.3h.01M800.4 822.4h.01M805.1 826.1h.01M805.5 830.4h.01M798.7 826.7h.01M785.0 826.0h.01M792.4 822.8h.01M788.7 822.5h.01M788.1 818.6h.01M789.5 831.2h.01M784.0 829.6h.01M779.1 818.3h.01M778.5 822.0h.01M773.5 828.7h.01M776.2 816.2h.01M770.9 819.6h.01M762.1 828.5h.01M757.5 818.5h.01M760.3 821.7h.01M744.4 820.2h.01M751.5 818.1h.01M745.0 827.2h.01M740.3 828.9h.01M742.7 831.9h.01M727.9 828.3h.01M727.3 822.2h.01M729.5 825.4h.01M723.2 821.8h.01M715.6 830.6h.01M706.8 830.3h.01M713.9 822.8h.01M717.8 824.1h.01M699.4 819.7h.01M690.9 820.7h.01M680.1 829.4h.01M686.2 830.6h.01M687.5 823.9h.01M669.3 823.9h.01M666.6 826.5h.01M658.0 828.9h.01M645.4 822.7h.01M652.2 823.8h.01M633.5 827.1h.01M631.4 817.6h.01M615.6 826.8h.01M595.4 820.3h.01M606.3 822.8h.01M581.3 829.1h.01M577.7 817.4h.01M573.3 822.5h.01M545.0 826.8h.01M541.0 821.7h.01M531.5 827.2h.01M517.3 816.6h.01M514.7 822.8h.01M517.3 826.9h.01M508.2 828.5h.01M500.0 830.2h.01M504.9 822.7h.01M492.0 825.7h.01M490.4 829.3h.01M481.0 828.1h.01M487.5 817.2h.01M468.8 828.6h.01M473.0 827.6h.01M469.2 817.8h.01M466.4 820.5h.01M463.9 817.3h.01M453.7 829.4h.01M449.8 831.2h.01M433.8 818.9h.01M443.5 819.5h.01M427.7 826.3h.01M419.4 829.4h.01M415.0 828.2h.01M411.6 818.9h.01M390.4 824.9h.01M389.7 830.3h.01M398.8 828.4h.01M396.5 817.8h.01M369.0 822.6h.01M369.7 827.8h.01M383.4 831.2h.01M368.8 831.6h.01M377.3 831.9h.01M381.8 834.4h.01M383.3 837.4h.01M384.8 845.5h.01M388.8 845.5h.01M386.1 834.6h.01M408.9 838.1h.01M401.2 836.2h.01M412.5 840.0h.01M410.7 844.1h.01M431.4 844.3h.01M439.2 832.0h.01M448.0 840.3h.01M462.5 839.5h.01M450.6 844.3h.01M477.1 846.4h.01M475.0 843.9h.01M476.0 836.7h.01M486.5 847.3h.01M495.1 836.7h.01M502.9 842.6h.01M503.0 836.4h.01M509.2 840.2h.01M521.8 847.3h.01M530.7 839.0h.01M543.4 846.1h.01M548.8 834.5h.01M566.6 832.9h.01M580.0 846.5h.01M597.5 847.6h.01M623.6 845.7h.01M610.3 845.2h.01M635.6 845.0h.01M648.5 834.4h.01M647.1 844.7h.01M643.8 837.7h.01M663.3 842.5h.01M657.5 842.3h.01M669.2 841.0h.01M672.2 837.1h.01M677.6 842.1h.01M685.5 845.9h.01M673.6 840.0h.01M688.7 834.6h.01M693.4 846.5h.01M699.9 847.6h.01M696.6 841.1h.01M709.5 844.7h.01M719.6 840.9h.01M711.6 835.0h.01M724.4 834.1h.01M726.6 842.3h.01M727.4 845.5h.01M732.4 844.3h.01M746.4 832.6h.01M740.6 846.0h.01M736.9 832.7h.01M743.1 843.7h.01M746.9 840.7h.01M765.5 836.9h.01M767.5 843.8h.01M758.1 842.7h.01M761.6 840.3h.01M783.3 839.3h.01M771.3 845.7h.01M783.8 834.8h.01M783.3 844.2h.01M774.4 832.5h.01M780.3 845.9h.01M797.9 834.8h.01M795.6 846.2h.01M795.1 837.2h.01M785.9 846.5h.01M790.5 841.0h.01M792.3 845.2h.01M810.8 843.3h.01M809.3 834.8h.01M801.3 832.8h.01M801.0 842.9h.01M802.2 838.7h.01M815.0 838.3h.01M819.5 846.1h.01M824.2 835.3h.01M828.4 840.0h.01M823.4 846.9h.01M819.0 838.3h.01M840.8 840.1h.01M838.3 835.2h.01M838.6 846.5h.01M833.3 845.3h.01M834.4 834.4h.01M861.3 841.4h.01M858.4 846.1h.01M856.4 841.8h.01M855.4 836.8h.01M850.0 844.4h.01M869.2 832.9h.01M876.5 841.2h.01M867.7 839.3h.01M874.5 847.0h.01M869.7 844.0h.01M884.1 836.0h.01M891.8 835.1h.01M881.7 844.1h.01M901.2 832.5h.01M896.2 842.9h.01M921.1 845.6h.01M919.1 842.2h.01M928.2 845.1h.01M942.0 837.1h.01M928.1 836.0h.01M934.8 834.4h.01M951.1 846.1h.01M950.9 834.4h.01M946.0 844.3h.01M974.1 838.7h.01M963.7 841.4h.01M964.3 835.1h.01M974.9 844.7h.01M985.8 839.6h.01M982.0 847.5h.01M987.7 842.8h.01M990.7 845.2h.01M1001.2 843.6h.01M1003.8 837.9h.01M1005.2 846.7h.01M1001.7 835.2h.01M994.8 847.7h.01M1016.3 845.0h.01M1018.0 833.8h.01M1009.0 845.1h.01M1013.0 847.1h.01M1035.3 832.2h.01M1038.5 840.9h.01M1030.4 835.1h.01M1027.8 839.7h.01M1051.9 840.3h.01M1050.5 845.0h.01M1055.5 843.5h.01M1048.4 841.2h.01M1063.4 847.8h.01M1061.9 838.0h.01M1063.4 842.3h.01M1068.5 834.7h.01M1066.5 847.6h.01M1075.7 840.2h.01M1080.3 842.7h.01M1078.1 845.5h.01M1073.3 838.0h.01M1100.6 839.6h.01M1096.3 845.0h.01M1118.4 845.7h.01M1109.5 838.0h.01M1119.8 840.3h.01M1112.7 833.9h.01M1124.6 839.4h.01M1135.3 835.2h.01M1135.8 848.0h.01M1123.9 845.0h.01M1139.5 843.5h.01M1150.6 844.2h.01M1143.0 841.8h.01M1159.6 844.7h.01M1375.7 834.5h.01M1369.0 836.7h.01M1377.9 843.2h.01M1389.4 834.5h.01M1385.8 832.2h.01M1400.1 841.7h.01M1397.4 843.4h.01M1395.1 836.8h.01M1423.8 835.8h.01M1423.2 832.6h.01M1417.5 835.4h.01M1439.0 838.9h.01M1435.7 832.7h.01M1427.2 841.3h.01M1454.3 838.2h.01M1455.6 842.5h.01M1444.6 836.8h.01M1466.2 839.9h.01M1471.7 836.2h.01M1464.6 832.1h.01M1461.2 835.8h.01M1476.7 844.2h.01M1483.3 835.2h.01M1481.2 839.5h.01M1503.9 835.1h.01M1498.9 839.7h.01M1511.3 835.7h.01M1152.9 857.2h.01M1159.6 853.8h.01M1139.7 848.0h.01M1144.2 848.9h.01M1142.4 859.4h.01M1125.3 855.1h.01M1121.5 862.6h.01M1133.9 863.9h.01M1130.1 861.9h.01M1121.8 848.0h.01M1119.0 857.3h.01M1111.7 859.8h.01M1108.4 862.3h.01M1105.1 850.6h.01M1104.4 860.0h.01M1100.1 856.6h.01M1093.9 858.6h.01M1088.9 860.1h.01M1098.5 863.2h.01M1099.7 859.6h.01M1086.7 858.0h.01M1085.7 849.6h.01M1076.0 855.3h.01M1074.7 858.2h.01M1085.8 863.1h.01M1059.9 860.0h.01M1067.6 857.5h.01M1056.1 850.6h.01M1060.3 854.4h.01M1068.2 851.5h.01M1055.7 856.7h.01M1048.4 851.4h.01M1042.2 860.0h.01M1052.0 857.5h.01M1032.6 855.0h.01M1038.5 863.2h.01M1026.7 856.7h.01M1032.2 848.8h.01M1023.6 849.3h.01M1009.3 853.4h.01M1018.1 852.7h.01M1020.1 863.6h.01M1007.9 863.4h.01M993.2 859.8h.01M1004.2 853.2h.01M1000.4 860.2h.01M1004.7 863.7h.01M986.6 863.9h.01M987.2 856.2h.01M983.2 860.5h.01M982.7 852.2h.01M990.4 861.8h.01M970.8 850.9h.01M961.7 861.0h.01M963.2 853.4h.01M971.1 863.8h.01M959.0 862.7h.01M952.7 859.1h.01M949.3 850.1h.01M939.7 848.6h.01M931.3 858.8h.01M929.9 850.6h.01M922.9 852.6h.01M925.6 857.1h.01M912.1 848.5h.01M912.1 863.8h.01M898.6 854.0h.01M901.9 863.6h.01M911.1 852.9h.01M904.1 854.6h.01M891.3 851.9h.01M884.2 848.5h.01M884.5 859.1h.01M882.8 852.4h.01M891.1 855.6h.01M877.5 854.7h.01M866.3 856.0h.01M873.5 855.4h.01M864.5 859.1h.01M874.4 859.7h.01M850.0 856.0h.01M850.8 850.8h.01M859.3 853.7h.01M862.3 854.4h.01M859.1 862.1h.01M838.7 853.7h.01M844.5 860.7h.01M844.4 849.4h.01M841.5 850.4h.01M826.6 852.1h.01M819.0 852.4h.01M830.3 863.2h.01M817.2 848.4h.01M808.4 863.8h.01M805.3 855.6h.01M803.6 852.9h.01M814.8 851.3h.01M789.2 860.7h.01M797.8 849.6h.01M797.4 855.6h.01M794.6 851.8h.01M775.3 848.1h.01M783.0 854.2h.01M771.1 854.6h.01M775.1 855.3h.01M771.6 857.7h.01M764.9 858.4h.01M758.4 862.1h.01M762.2 854.3h.01M761.7 858.3h.01M736.5 849.2h.01M748.6 853.2h.01M750.6 856.9h.01M737.4 863.4h.01M726.4 860.9h.01M735.4 856.7h.01M720.5 859.8h.01M722.7 850.8h.01M712.1 855.4h.01M716.4 855.2h.01M706.4 863.8h.01M689.8 854.6h.01M693.3 859.4h.01M696.9 850.0h.01M700.7 860.1h.01M702.3 855.4h.01M682.4 854.8h.01M675.1 860.7h.01M687.2 859.8h.01M681.3 858.1h.01M685.8 851.0h.01M671.5 851.7h.01M665.6 852.5h.01M659.7 856.7h.01M668.4 848.6h.01M640.8 863.7h.01M645.6 851.6h.01M638.0 858.6h.01M620.2 858.1h.01M604.3 862.1h.01M589.5 854.2h.01M572.1 858.7h.01M556.1 848.3h.01M519.2 853.6h.01M486.8 861.3h.01M484.6 856.4h.01M469.0 855.6h.01M475.6 862.4h.01M459.6 849.1h.01M463.8 853.1h.01M437.8 857.3h.01M424.2 851.5h.01M410.4 861.3h.01M415.0 849.1h.01M403.3 851.8h.01M396.2 848.3h.01M398.6 855.6h.01M397.5 870.2h.01M402.3 876.5h.01M414.7 866.3h.01M422.7 877.9h.01M433.8 869.7h.01M455.1 870.6h.01M452.4 876.1h.01M457.1 876.5h.01M471.6 868.5h.01M467.0 879.2h.01M466.4 867.5h.01M485.0 869.2h.01M486.2 877.7h.01M505.9 872.9h.01M526.4 866.5h.01M541.2 878.5h.01M547.9 874.4h.01M572.6 873.9h.01M578.4 871.1h.01M600.5 870.2h.01M609.3 866.9h.01M637.9 869.1h.01M649.9 878.2h.01M653.2 866.8h.01M669.2 871.5h.01M665.7 865.4h.01M662.1 866.6h.01M665.8 870.2h.01M683.6 877.0h.01M675.4 865.1h.01M675.9 875.7h.01M685.1 872.3h.01M689.8 865.5h.01M701.5 877.4h.01M689.5 874.4h.01M695.9 874.6h.01M697.4 868.8h.01M718.2 864.2h.01M713.7 876.9h.01M705.8 868.4h.01M710.3 864.8h.01M704.7 877.3h.01M721.0 865.8h.01M733.2 877.0h.01M734.9 874.1h.01M744.0 867.8h.01M744.1 872.6h.01M743.8 864.3h.01M745.5 876.3h.01M757.6 878.7h.01M767.5 868.7h.01M757.2 866.7h.01M764.3 866.1h.01M762.1 876.6h.01M782.9 879.9h.01M779.4 869.6h.01M775.3 866.2h.01M770.4 879.1h.01M796.2 867.9h.01M791.2 870.9h.01M795.0 873.5h.01M797.3 877.0h.01M801.9 876.2h.01M804.0 869.9h.01M815.2 865.6h.01M819.1 870.3h.01M825.4 873.0h.01M826.1 877.0h.01M841.0 864.5h.01M846.1 879.6h.01M851.2 873.2h.01M857.5 866.6h.01M863.3 872.6h.01M849.8 870.1h.01M871.9 872.2h.01M875.7 876.2h.01M868.9 866.8h.01M876.5 872.0h.01M891.1 864.9h.01M884.7 870.1h.01M886.1 865.3h.01M885.2 876.8h.01M905.7 866.0h.01M903.9 873.8h.01M911.6 877.7h.01M897.2 869.0h.01M923.8 871.2h.01M920.2 868.0h.01M921.4 877.7h.01M918.1 877.4h.01M938.8 868.2h.01M935.1 875.5h.01M931.8 868.1h.01M929.8 875.4h.01M954.5 879.7h.01M944.1 869.1h.01M949.3 872.7h.01M952.1 865.3h.01M971.4 875.7h.01M966.7 868.9h.01M974.6 865.6h.01M974.6 870.0h.01M983.1 870.3h.01M987.8 868.3h.01M978.3 866.3h.01M991.7 870.6h.01M991.3 873.6h.01M1000.1 879.9h.01M998.4 874.2h.01M1000.2 867.7h.01M996.5 865.4h.01M1004.5 876.5h.01M1023.0 874.0h.01M1017.5 870.8h.01M1016.6 875.1h.01M1019.8 879.3h.01M1009.8 869.4h.01M1038.9 871.4h.01M1038.6 874.7h.01M1026.4 876.3h.01M1044.7 874.8h.01M1049.1 878.0h.01M1048.8 871.9h.01M1054.2 871.5h.01M1063.1 875.3h.01M1068.9 875.4h.01M1071.1 866.9h.01M1061.4 878.6h.01M1071.4 872.9h.01M1076.1 874.2h.01M1079.1 878.6h.01M1094.3 870.1h.01M1101.9 877.7h.01M1102.6 874.5h.01M1098.8 870.6h.01M1119.4 876.3h.01M1116.0 865.2h.01M1106.3 872.0h.01M1112.3 864.2h.01M1113.6 867.8h.01M1122.8 868.8h.01M1123.1 875.1h.01M1131.6 876.1h.01M1126.0 870.9h.01M1129.6 865.1h.01M1150.7 870.6h.01M1148.4 872.7h.01M1145.9 879.2h.01M1163.4 869.7h.01M1152.6 882.5h.01M1148.6 892.3h.01M1142.9 887.5h.01M1147.0 883.2h.01M1133.5 891.3h.01M1135.5 893.9h.01M1130.2 885.9h.01M1125.7 889.0h.01M1134.4 884.3h.01M1111.0 892.3h.01M1118.7 894.6h.01M1111.4 881.5h.01M1114.1 895.6h.01M1114.5 890.0h.01M1099.5 890.7h.01M1092.4 895.3h.01M1100.6 885.9h.01M1097.2 886.4h.01M1089.2 892.7h.01M1076.2 883.1h.01M1072.6 882.6h.01M1086.8 880.7h.01M1076.4 893.1h.01M1083.9 882.4h.01M1061.1 889.8h.01M1066.6 883.9h.01M1057.4 880.8h.01M1057.1 890.5h.01M1063.8 893.9h.01M1052.9 888.0h.01M1054.2 895.5h.01M1049.7 886.7h.01M1051.0 884.0h.01M1030.6 894.8h.01M1037.1 886.6h.01M1038.0 880.4h.01M1026.9 891.3h.01M1021.7 886.2h.01M1009.1 885.9h.01M1018.1 893.9h.01M1020.1 888.9h.01M1000.6 886.1h.01M1000.8 895.2h.01M1003.4 887.9h.01M1005.5 881.6h.01M1003.8 891.1h.01M985.1 881.7h.01M978.6 890.8h.01M976.2 894.2h.01M985.0 890.0h.01M977.2 887.1h.01M966.1 892.6h.01M972.1 888.4h.01M964.4 883.9h.01M972.8 881.6h.01M949.0 884.8h.01M944.4 894.0h.01M951.2 893.9h.01M958.5 888.3h.01M933.1 890.1h.01M940.2 895.1h.01M934.4 893.1h.01M936.6 884.6h.01M918.1 893.3h.01M922.4 881.4h.01M916.0 888.4h.01M925.1 894.6h.01M910.6 887.3h.01M903.6 889.7h.01M907.1 886.3h.01M905.4 894.9h.01M904.6 884.3h.01M887.6 890.1h.01M880.0 891.0h.01M893.6 884.0h.01M868.5 883.0h.01M876.8 880.1h.01M856.9 891.1h.01M842.5 881.7h.01M833.1 893.2h.01M819.7 896.0h.01M809.8 880.9h.01M798.5 880.4h.01M775.2 889.8h.01M772.9 894.2h.01M771.7 884.8h.01M775.8 881.1h.01M760.3 891.4h.01M755.1 881.7h.01M765.3 882.3h.01M767.5 885.9h.01M764.3 892.1h.01M738.2 886.4h.01M739.8 889.4h.01M744.9 884.2h.01M751.9 895.6h.01M732.4 887.4h.01M725.4 894.6h.01M732.3 892.5h.01M720.2 887.5h.01M731.0 881.7h.01M705.8 889.0h.01M710.0 886.3h.01M719.7 894.5h.01M718.4 884.9h.01M695.4 894.2h.01M693.0 891.6h.01M688.8 886.0h.01M694.8 880.7h.01M703.6 893.6h.01M686.1 881.7h.01M679.7 886.1h.01M685.3 890.8h.01M677.0 889.4h.01M657.5 884.6h.01M645.8 894.9h.01M628.6 891.1h.01M617.1 889.2h.01M591.5 891.6h.01M568.2 888.4h.01M556.7 895.1h.01M528.9 886.6h.01M508.3 893.0h.01M511.1 886.6h.01M481.2 891.7h.01M488.9 881.4h.01M464.1 889.3h.01M475.2 885.6h.01M478.5 890.0h.01M466.7 887.3h.01M459.7 887.1h.01M460.6 895.4h.01M450.0 884.7h.01M448.2 894.9h.01M440.7 893.2h.01M417.5 881.9h.01M401.4 887.8h.01M415.5 900.0h.01M420.2 901.1h.01M439.6 911.9h.01M446.6 899.7h.01M461.5 900.8h.01M450.4 905.6h.01M453.4 903.3h.01M452.2 900.5h.01M448.9 910.2h.01M474.5 909.1h.01M465.1 911.1h.01M471.7 896.0h.01M469.2 903.5h.01M479.4 901.4h.01M492.3 901.9h.01M484.5 899.1h.01M492.0 908.4h.01M512.0 904.3h.01M497.9 901.4h.01M506.6 905.9h.01M527.3 898.7h.01M537.1 899.2h.01M544.2 900.3h.01M553.0 910.2h.01M561.8 898.7h.01M580.7 907.3h.01M593.2 899.5h.01M621.4 897.3h.01M632.4 908.6h.01M652.8 908.2h.01M664.1 903.3h.01M665.9 908.3h.01M668.9 909.8h.01M685.8 908.3h.01M686.9 900.3h.01M678.4 905.6h.01M693.1 897.2h.01M695.5 910.5h.01M691.8 900.9h.01M700.5 908.0h.01M701.2 904.6h.01M719.2 905.1h.01M713.1 899.5h.01M719.0 909.2h.01M716.2 902.3h.01M726.8 897.5h.01M731.3 911.8h.01M733.4 900.4h.01M729.5 904.2h.01M742.3 899.9h.01M737.8 901.8h.01M749.3 910.1h.01M739.4 904.6h.01M752.2 908.0h.01M759.1 899.8h.01M758.6 896.2h.01M763.5 901.0h.01M778.4 899.7h.01M768.3 898.3h.01M773.5 898.3h.01M793.6 908.8h.01M825.3 897.0h.01M834.5 905.6h.01M851.8 899.9h.01M870.0 898.6h.01M865.8 908.7h.01M886.0 910.9h.01M892.7 897.2h.01M908.4 908.1h.01M903.6 899.9h.01M916.9 911.6h.01M916.0 908.2h.01M915.4 901.1h.01M922.2 901.9h.01M941.7 900.9h.01M934.6 906.9h.01M938.4 908.5h.01M935.2 896.9h.01M950.8 911.5h.01M956.5 898.0h.01M957.3 911.2h.01M951.1 898.7h.01M971.3 910.7h.01M961.1 909.7h.01M962.5 903.5h.01M974.1 898.1h.01M973.2 901.3h.01M989.5 909.6h.01M981.8 911.2h.01M979.9 899.7h.01M990.8 900.6h.01M1005.5 896.9h.01M995.4 909.3h.01M1004.5 909.7h.01M999.8 904.7h.01M1002.7 900.1h.01M993.1 903.9h.01M1010.0 906.1h.01M1010.9 900.7h.01M1023.2 904.1h.01M1015.3 896.4h.01M1022.0 911.7h.01M1016.6 911.8h.01M1038.8 911.3h.01M1028.3 897.2h.01M1035.3 904.7h.01M1035.3 898.5h.01M1028.9 902.5h.01M1047.5 898.7h.01M1040.0 903.1h.01M1055.0 903.8h.01M1041.1 906.8h.01M1047.9 909.7h.01M1066.5 911.7h.01M1068.1 907.1h.01M1059.2 903.5h.01M1057.1 898.3h.01M1071.9 901.0h.01M1083.5 911.8h.01M1087.2 900.2h.01M1085.3 904.1h.01M1077.6 905.0h.01M1080.6 909.2h.01M1092.0 905.3h.01M1096.1 907.5h.01M1088.5 908.5h.01M1103.8 903.6h.01M1100.5 897.8h.01M1118.0 899.9h.01M1111.5 901.9h.01M1117.4 911.6h.01M1105.6 909.6h.01M1129.8 909.9h.01M1128.7 904.5h.01M1125.2 898.6h.01M1136.3 903.8h.01M1113.1 917.6h.01M1104.6 921.9h.01M1107.9 925.1h.01M1100.9 925.1h.01M1103.8 918.7h.01M1089.6 921.3h.01M1101.5 914.2h.01M1094.3 920.3h.01M1087.5 918.1h.01M1082.7 923.5h.01M1072.1 922.2h.01M1073.4 913.0h.01M1065.3 918.7h.01M1067.9 926.1h.01M1058.0 924.4h.01M1065.3 922.3h.01M1064.6 927.4h.01M1051.5 917.5h.01M1052.0 926.9h.01M1048.7 927.9h.01M1055.2 915.2h.01M1042.7 925.9h.01M1052.0 914.4h.01M1039.4 919.1h.01M1035.5 923.6h.01M1029.5 923.7h.01M1024.3 922.7h.01M1026.0 914.3h.01M1035.5 918.8h.01M1014.6 914.7h.01M1009.6 920.7h.01M1015.1 925.7h.01M1018.4 918.2h.01M1013.9 918.8h.01M1011.8 913.5h.01M1006.1 914.6h.01M994.5 917.5h.01M997.9 925.0h.01M1003.2 924.5h.01M994.5 920.5h.01M1006.0 926.4h.01M980.3 921.2h.01M988.0 913.3h.01M978.3 927.1h.01M978.3 915.5h.01M988.4 927.1h.01M981.2 926.0h.01M964.6 913.2h.01M970.7 926.4h.01M974.4 924.5h.01M968.5 920.5h.01M966.3 925.1h.01M965.0 920.6h.01M955.6 918.2h.01M959.5 920.7h.01M947.1 927.0h.01M956.2 923.3h.01M936.1 922.0h.01M938.9 916.1h.01M941.5 912.6h.01M925.9 927.3h.01M922.4 917.8h.01M897.8 922.6h.01M903.9 920.4h.01M880.8 921.0h.01M880.6 916.3h.01M873.0 917.6h.01M797.0 924.0h.01M779.6 913.7h.01M763.5 916.4h.01M761.8 920.5h.01M739.4 912.3h.01M744.3 925.5h.01M744.5 913.5h.01M726.3 923.4h.01M720.9 913.8h.01M724.6 913.9h.01M706.5 922.4h.01M714.9 919.5h.01M713.3 923.9h.01M712.6 916.3h.01M704.9 926.6h.01M696.8 914.0h.01M692.0 924.8h.01M701.3 913.7h.01M693.9 917.2h.01M685.3 914.9h.01M674.9 921.2h.01M678.7 926.8h.01M681.1 922.5h.01M663.4 925.4h.01M666.7 921.7h.01M652.1 920.6h.01M638.8 924.0h.01M630.5 916.3h.01M613.0 927.2h.01M606.4 916.7h.01M601.0 922.4h.01M576.1 927.0h.01M590.2 917.5h.01M569.2 921.3h.01M574.9 923.2h.01M546.5 916.7h.01M544.7 919.8h.01M537.5 926.7h.01M528.0 919.2h.01M521.3 920.1h.01M521.5 913.3h.01M496.7 920.5h.01M510.1 915.2h.01M500.1 917.6h.01M488.7 925.1h.01M488.5 915.7h.01M488.3 921.2h.01M481.7 925.8h.01M476.1 923.6h.01M477.6 914.9h.01M472.0 919.4h.01M474.4 927.2h.01M473.9 912.1h.01M458.9 917.2h.01M448.1 915.6h.01M461.3 923.3h.01M462.1 914.7h.01M453.1 915.8h.01M449.3 919.6h.01M447.8 924.1h.01M444.7 916.8h.01M429.7 921.1h.01M446.9 932.4h.01M447.8 928.2h.01M463.1 932.2h.01M462.6 944.0h.01M453.4 942.8h.01M458.7 936.1h.01M454.0 937.1h.01M475.5 938.6h.01M468.4 935.4h.01M479.4 935.8h.01M474.4 931.3h.01M476.7 943.4h.01M482.3 929.5h.01M484.7 937.2h.01M489.5 931.5h.01M504.6 939.1h.01M502.3 928.5h.01M510.8 940.6h.01M513.0 936.4h.01M525.1 942.1h.01M543.2 929.6h.01M538.6 936.5h.01M556.5 929.4h.01M545.3 944.0h.01M562.4 938.5h.01M570.6 932.7h.01M578.1 933.4h.01M579.0 942.0h.01M592.5 941.2h.01M615.0 940.5h.01M612.5 943.5h.01M624.1 929.7h.01M651.0 940.9h.01M658.8 943.9h.01M670.1 937.4h.01M675.8 937.9h.01M675.8 943.1h.01M673.7 935.5h.01M690.9 928.4h.01M696.7 928.7h.01M694.7 940.5h.01M712.2 928.1h.01M719.7 933.3h.01M705.4 930.9h.01M724.2 928.9h.01M723.8 936.2h.01M740.4 933.6h.01M748.1 934.7h.01M759.6 929.6h.01M757.0 942.4h.01M780.9 932.4h.01M785.8 938.5h.01M805.6 941.1h.01M846.6 931.7h.01M868.5 938.6h.01M881.3 929.7h.01M906.9 940.2h.01M911.6 937.6h.01M926.5 933.0h.01M917.5 936.8h.01M914.8 934.5h.01M935.3 935.5h.01M929.8 943.4h.01M930.1 937.7h.01M955.2 939.4h.01M959.7 928.8h.01M944.3 935.0h.01M974.5 938.6h.01M968.3 940.1h.01M962.5 936.0h.01M987.4 936.7h.01M978.0 938.4h.01M981.7 933.2h.01M991.5 935.5h.01M979.4 943.0h.01M994.6 934.0h.01M998.4 938.7h.01M997.0 943.3h.01M1007.1 939.9h.01M998.9 928.9h.01M1009.5 932.9h.01M1012.2 939.0h.01M1008.7 936.9h.01M1015.4 933.1h.01M1021.8 938.9h.01M1038.0 933.4h.01M1029.8 928.4h.01M1033.2 928.5h.01M1043.9 935.7h.01M1040.9 930.0h.01M1047.2 931.0h.01M1054.8 943.3h.01M1056.9 937.9h.01M1063.6 931.2h.01M1068.8 942.8h.01M1074.2 940.8h.01M1084.3 930.5h.01M1084.4 942.3h.01M1099.9 935.6h.01M1093.0 929.4h.01M1093.4 939.3h.01M1076.7 953.0h.01M1075.0 948.5h.01M1060.1 950.4h.01M1061.7 953.6h.01M1059.0 947.5h.01M1044.6 954.7h.01M1042.3 944.4h.01M1043.7 959.9h.01M1027.6 950.6h.01M1027.0 945.0h.01M1012.2 949.0h.01M1017.4 946.8h.01M1022.4 946.8h.01M1003.6 953.6h.01M997.6 955.7h.01M992.5 949.4h.01M981.6 949.9h.01M990.1 959.3h.01M973.1 946.6h.01M962.3 958.9h.01M947.2 947.1h.01M956.3 953.2h.01M941.4 946.9h.01M916.2 948.3h.01M920.4 954.1h.01M902.1 947.4h.01M909.4 948.2h.01M864.7 948.5h.01M826.7 958.5h.01M802.5 950.2h.01M786.5 959.2h.01M768.7 952.7h.01M753.3 952.7h.01M744.1 954.9h.01M713.3 945.7h.01M699.8 959.0h.01M701.3 944.9h.01M677.9 954.6h.01M661.1 952.3h.01M670.3 945.1h.01M647.0 945.0h.01M654.8 957.1h.01M630.0 946.6h.01M633.2 956.3h.01M617.5 944.6h.01M615.5 956.9h.01M607.0 946.9h.01M607.4 958.9h.01M579.7 950.7h.01M590.1 957.9h.01M572.7 946.9h.01M562.6 950.0h.01M555.6 952.5h.01M549.2 952.4h.01M552.5 959.0h.01M535.8 947.3h.01M531.4 944.4h.01M518.8 951.9h.01M525.8 953.4h.01M499.9 959.7h.01M497.7 957.5h.01M487.3 949.8h.01M482.7 946.4h.01M473.4 955.2h.01M476.1 950.8h.01M465.7 952.1h.01M464.8 948.1h.01M450.3 958.8h.01M457.3 945.8h.01M456.7 949.8h.01M442.0 947.7h.01M453.3 963.1h.01M458.2 964.2h.01M479.9 962.6h.01M467.7 968.3h.01M474.8 961.4h.01M481.5 966.0h.01M484.7 964.0h.01M496.8 974.7h.01M521.1 963.1h.01M538.9 967.3h.01M531.5 969.0h.01M546.1 974.0h.01M570.7 965.5h.01M561.7 964.9h.01M587.8 967.6h.01M584.3 966.9h.01M601.7 971.2h.01M603.6 964.6h.01M609.5 968.4h.01M608.4 964.2h.01M631.4 968.4h.01M636.9 975.7h.01M640.1 972.5h.01M647.5 969.3h.01M658.0 975.6h.01M668.0 964.8h.01M683.7 972.5h.01M692.2 968.9h.01M719.4 960.6h.01M748.9 967.6h.01M777.0 962.0h.01M784.4 961.4h.01M827.8 967.2h.01M835.0 963.1h.01M856.0 975.5h.01M850.5 969.3h.01M874.8 961.6h.01M872.8 970.7h.01M892.2 968.4h.01M882.1 970.3h.01M887.3 966.3h.01M882.8 965.0h.01M909.8 966.9h.01M902.8 973.1h.01M899.6 963.6h.01M904.2 960.4h.01M925.2 967.9h.01M919.4 975.5h.01M927.2 971.1h.01M921.6 962.2h.01M925.4 960.6h.01M930.2 973.8h.01M936.3 967.0h.01M946.0 975.0h.01M947.6 966.4h.01M955.8 967.5h.01M962.4 962.6h.01M970.0 961.6h.01M978.9 969.0h.01M978.4 975.8h.01M993.2 975.3h.01M1016.8 961.3h.01M1025.7 962.3h.01M1057.5 963.5h.01M949.0 978.3h.01M928.1 987.4h.01M931.5 977.2h.01M932.6 989.8h.01M916.8 982.4h.01M914.2 991.5h.01M922.3 988.6h.01M918.4 991.3h.01M918.4 978.4h.01M920.1 983.5h.01M904.4 982.7h.01M909.3 991.8h.01M899.8 976.7h.01M904.2 990.2h.01M901.0 981.3h.01M905.4 978.6h.01M886.6 990.6h.01M889.3 977.3h.01M887.2 982.0h.01M890.2 984.2h.01M872.0 989.8h.01M875.6 991.3h.01M879.0 982.7h.01M866.6 991.3h.01M866.6 981.3h.01M861.9 989.0h.01M858.8 977.9h.01M856.5 991.9h.01M847.3 990.6h.01M839.0 988.1h.01M827.0 980.5h.01M803.0 984.5h.01M768.6 982.5h.01M762.2 981.9h.01M726.2 991.0h.01M713.0 985.0h.01M683.2 986.9h.01M645.1 990.7h.01M640.4 989.9h.01M649.8 976.7h.01M631.6 989.0h.01M624.8 976.1h.01M612.8 981.7h.01M620.1 979.7h.01M596.3 978.6h.01M592.6 988.7h.01M589.8 985.4h.01M523.4 976.7h.01M511.6 978.5h.01M478.8 977.7h.01M589.9 1000.0h.01M579.3 1002.1h.01M602.6 996.5h.01M592.6 1005.9h.01M596.5 994.8h.01M622.4 1006.0h.01M622.9 1000.2h.01M609.2 1000.0h.01M630.2 998.5h.01M631.5 995.4h.01M626.3 1002.1h.01M634.4 1004.6h.01M626.2 1006.5h.01M644.1 997.1h.01M657.3 999.5h.01M666.0 993.8h.01M667.4 1005.3h.01M676.0 994.8h.01M683.4 1001.6h.01M684.4 1007.9h.01M688.4 996.2h.01M702.5 997.7h.01M708.2 1003.9h.01M721.9 994.5h.01M750.2 1007.5h.01M902.5 994.9h.01M898.9 993.7h.01M926.7 993.6h.01M931.2 994.8h.01M724.0 1009.7h.01M708.7 1012.4h.01M719.8 1018.3h.01M698.5 1020.0h.01M693.1 1017.0h.01M701.3 1008.2h.01M682.3 1010.8h.01M672.0 1019.3h.01M675.5 1022.1h.01M679.2 1008.5h.01M664.9 1019.5h.01M660.7 1009.7h.01M659.6 1013.5h.01M657.5 1019.9h.01M667.8 1011.5h.01M649.8 1020.2h.01M640.5 1023.2h.01M641.9 1008.4h.01M654.7 1015.1h.01M626.5 1019.3h.01M624.7 1011.3h.01M612.1 1011.6h.01M617.2 1016.7h.01M621.4 1013.5h.01M619.2 1023.9h.01M592.7 1018.5h.01M606.0 1018.8h.01M601.9 1009.1h.01M595.1 1021.2h.01M587.5 1015.7h.01M599.1 1028.6h.01M600.6 1034.2h.01M598.8 1031.7h.01M622.5 1032.3h.01M620.8 1037.9h.01M613.8 1036.2h.01M620.9 1029.1h.01M610.7 1039.6h.01M634.1 1029.8h.01M637.1 1030.8h.01M626.1 1035.4h.01M629.5 1030.2h.01M641.9 1031.2h.01M650.8 1034.4h.01M643.2 1037.2h.01M654.4 1037.2h.01M653.9 1033.4h.01M645.3 1032.6h.01M654.1 1028.8h.01M659.4 1034.1h.01M671.8 1039.8h.01M669.5 1037.6h.01M660.6 1027.0h.01M662.9 1031.8h.01M657.0 1027.1h.01M685.9 1027.0h.01M683.8 1039.5h.01M681.1 1031.6h.01M687.3 1030.1h.01M681.8 1035.3h.01M675.3 1028.2h.01M694.2 1032.3h.01M695.2 1024.9h.01M712.8 1025.5h.01M664.7 1045.1h.01M666.5 1042.4h.01M644.2 1041.3h.01M652.2 1046.7h.01M650.7 1044.0h.01M637.1 1044.7h.01M635.7 1051.9h.01M631.3 1045.9h.01M624.8 1049.3h.01M619.6 1041.4h.01M609.5 1044.4h.01M608.5 1047.7h.01M606.1 1045.1h.01M1132.1 1167.9h.01M1139.8 1166.5h.01M1142.1 1184.0h.01M1142.1 1169.8h.01M1148.4 1172.6h.01M1143.8 1178.6h.01M1150.6 1175.4h.01M1136.5 1179.3h.01M1133.8 1174.7h.01M1129.7 1173.5h.01M1129.3 1181.2h.01M1130.8 1178.2h.01M1129.7 1190.7h.01M1128.3 1195.2h.01M1132.3 1188.0h.01M1143.9 1196.1h.01M1149.6 1186.4h.01M1149.1 1194.4h.01M1141.5 1189.2h.01M1138.1 1194.9h.01M1145.7 1189.2h.01M1139.6 1186.8h.01M1136.9 1207.8h.01M1144.8 1202.0h.01M1146.9 1213.8h.01M1142.2 1204.5h.01M1146.9 1205.2h.01M1139.4 1201.6h.01M1132.1 1201.3h.01M1133.9 1208.7h.01M1138.8 1217.1h.01M1526.0 554.0h.01M1537.0 567.0h.01M1541.0 558.0h.01M1547.0 551.0h.01M1554.0 560.0h.01M1578.0 566.5h.01M1574.0 575.5h.01M1583.0 582.0h.01M1580.0 586.0h.01M1600.0 588.5h.01M1591.0 592.0h.01M1589.0 596.0h.01M1575.0 596.0h.01M1578.0 599.0h.01M1556.0 588.5h.01M1559.0 596.0h.01M1562.0 601.0h.01M1568.0 609.0h.01M1544.0 588.0h.01M1540.5 594.5h.01M1544.0 607.0h.01M1548.0 608.5h.01M1547.0 619.0h.01M1506.5 609.0h.01M1511.5 608.0h.01M1517.5 614.0h.01M1497.0 627.0h.01M1509.0 627.0h.01M1519.5 636.0h.01M1585.0 590.0h.01M1570.0 604.0h.01M1596.0 583.0h.01M1060.5 1178.5h.01M1062.0 1185.5h.01M1067.0 1188.5h.01M1079.0 1189.0h.01M1081.0 1192.5h.01M1089.0 1196.5h.01M1093.0 1191.5h.01M1102.0 1182.5h.01M1102.0 1190.0h.01M1107.0 1195.0h.01M1111.0 1193.5h.01M1113.0 1182.5h.01M1116.0 1185.0h.01M1118.5 1176.0h.01M1124.0 1172.0h.01M1123.0 1179.0h.01M1124.0 1146.5h.01M1129.0 1146.5h.01M1123.0 1154.5h.01M1121.5 1200.5h.01M1126.0 1207.0h.01M1131.5 1221.0h.01M1145.0 1219.0h.01M1155.0 1160.0h.01M1167.5 1144.5h.01M1184.5 1146.5h.01M1189.0 1164.0h.01M1171.0 1164.5h.01M1163.0 1168.0h.01M1214.0 1186.5h.01M1200.0 1178.0h.01M1217.0 1199.0h.01M1210.0 1206.0h.01M1203.0 1206.0h.01M1184.0 1206.0h.01M1190.0 1203.0h.01M1177.0 1202.0h.01M1159.0 1212.0h.01M1153.0 1208.0h.01M1159.0 1203.0h.01M1160.0 1195.0h.01M1167.0 1195.0h.01M1168.0 1185.0h.01M1163.0 1180.0h.01M1153.0 1169.0h.01M1150.0 1180.0h.01M1175.0 1170.0h.01M1190.0 1180.0h.01M1195.0 1186.0h.01M1200.0 1184.0h.01M1170.0 1178.0h.01M1178.0 1183.0h.01M1186.0 1194.0h.01M1194.0 1197.0h.01M1206.0 1197.0h.01M1181.0 1166.0h.01M1172.0 1188.0h.01M1165.0 1203.0h.01M1262.0 426.5h.01M1258.0 444.0h.01M1255.5 453.5h.01M1255.0 469.5h.01M1214.0 445.8h.01M1286.5 461.0h.01M1283.5 466.5h.01M1277.0 472.7h.01M1282.0 482.8h.01M1299.5 457.5h.01M1302.5 462.0h.01M1325.0 469.5h.01M1241.0 493.8h.01M1271.5 495.5h.01M1245.0 508.3h.01M1222.7 519.5h.01M1346.0 540.0h.01M1323.5 628.0h.01M1307.5 636.0h.01M1328.5 643.5h.01M1319.5 650.5h.01M1358.5 607.5h.01M1053.0 426.0h.01M1057.0 451.0h.01M1035.0 488.0h.01M1043.0 503.0h.01M1052.0 503.0h.01M1065.0 517.0h.01M1084.0 526.0h.01M1094.0 529.0h.01M1155.0 515.0h.01M1620.0 837.0h.01M1624.0 839.0h.01M1648.0 848.0h.01M1660.0 853.0h.01M1669.0 849.0h.01M1674.0 859.0h.01" stroke="#000004" stroke-width="10.0" stroke-linecap="round" fill="none"/>
<path d="M765.2 232.0h.01M887.4 232.5h.01M906.0 235.4h.01M927.0 241.6h.01M867.8 254.2h.01M839.1 246.7h.01M697.3 270.9h.01M718.4 267.6h.01M725.0 258.4h.01M833.2 269.5h.01M870.4 262.7h.01M952.6 264.7h.01M924.6 283.8h.01M875.3 275.6h.01M794.6 287.9h.01M794.1 276.3h.01M771.7 276.4h.01M728.6 274.7h.01M687.8 278.9h.01M632.0 287.5h.01M639.9 297.6h.01M878.2 296.2h.01M947.1 299.9h.01M967.4 299.3h.01M964.9 315.5h.01M910.4 313.7h.01M879.8 319.1h.01M613.8 314.6h.01M850.6 332.4h.01M880.0 327.4h.01M897.2 334.4h.01M954.5 333.0h.01M914.1 341.6h.01M903.7 345.7h.01M823.9 346.9h.01M680.1 348.0h.01M589.3 349.1h.01M549.2 367.0h.01M766.7 366.5h.01M854.2 367.3h.01M935.3 364.5h.01M945.1 366.0h.01M983.8 376.7h.01M866.3 369.9h.01M870.5 379.7h.01M816.3 372.9h.01M808.2 375.5h.01M762.4 380.7h.01M733.0 383.1h.01M608.0 382.0h.01M602.6 378.2h.01M541.2 375.4h.01M535.4 395.5h.01M552.7 384.4h.01M584.9 386.4h.01M604.6 390.9h.01M597.8 390.7h.01M613.3 396.1h.01M654.6 391.4h.01M662.0 397.7h.01M793.7 394.0h.01M812.2 389.8h.01M858.2 391.4h.01M866.3 388.5h.01M909.4 390.7h.01M980.2 402.7h.01M895.6 403.7h.01M818.4 415.1h.01M779.5 406.6h.01M725.4 410.1h.01M709.2 405.5h.01M695.5 409.6h.01M703.2 411.7h.01M681.7 408.7h.01M686.7 407.3h.01M659.2 401.3h.01M654.2 412.8h.01M649.1 403.9h.01M636.9 410.8h.01M615.1 410.5h.01M593.6 412.9h.01M584.0 401.9h.01M583.6 413.9h.01M570.4 415.0h.01M539.3 404.4h.01M497.4 414.6h.01M495.4 429.9h.01M511.2 416.2h.01M547.0 429.9h.01M567.6 421.3h.01M588.8 418.9h.01M589.1 424.2h.01M663.9 416.5h.01M684.5 429.0h.01M681.7 430.2h.01M780.8 416.5h.01M877.2 417.0h.01M883.3 422.8h.01M907.6 431.6h.01M919.2 426.2h.01M1321.5 420.3h.01M1341.4 428.7h.01M1319.0 445.9h.01M990.9 447.8h.01M938.7 438.0h.01M859.5 432.8h.01M792.3 437.8h.01M675.3 443.5h.01M674.1 437.2h.01M600.2 447.4h.01M572.5 435.4h.01M559.6 446.3h.01M527.3 442.9h.01M536.4 454.4h.01M559.5 454.0h.01M548.1 458.6h.01M561.0 450.4h.01M607.3 460.1h.01M650.4 451.6h.01M662.1 463.6h.01M1310.5 449.6h.01M870.8 469.1h.01M641.3 474.3h.01M639.1 481.1h.01M658.1 488.2h.01M707.3 481.7h.01M848.1 493.9h.01M872.8 499.5h.01M820.6 500.0h.01M660.5 502.8h.01M497.9 503.2h.01M459.7 520.3h.01M607.1 512.8h.01M602.2 521.0h.01M618.4 520.4h.01M669.4 520.9h.01M680.8 512.1h.01M691.8 520.1h.01M1009.6 516.2h.01M1201.5 521.2h.01M1254.1 526.3h.01M1562.8 520.2h.01M1638.2 524.9h.01M1657.3 540.4h.01M1552.2 533.5h.01M1558.3 536.0h.01M1240.1 537.7h.01M1186.9 534.8h.01M1010.9 538.0h.01M777.3 533.8h.01M493.7 536.6h.01M475.3 543.1h.01M453.5 555.0h.01M559.1 551.2h.01M611.4 548.8h.01M737.7 555.3h.01M979.4 549.4h.01M1025.9 552.8h.01M1062.1 553.1h.01M1278.0 546.1h.01M1625.7 574.9h.01M1632.0 567.8h.01M1557.7 561.8h.01M1196.1 574.7h.01M1154.6 570.5h.01M971.6 564.3h.01M858.4 562.7h.01M611.4 567.9h.01M468.1 566.2h.01M412.0 574.9h.01M381.5 589.6h.01M399.3 578.9h.01M459.8 581.7h.01M680.7 585.1h.01M1203.3 578.7h.01M1314.3 585.5h.01M1124.8 596.7h.01M1079.2 606.8h.01M1003.9 595.9h.01M972.9 605.6h.01M374.9 606.9h.01M430.3 623.8h.01M416.7 610.5h.01M463.6 612.7h.01M560.5 615.3h.01M601.8 616.4h.01M766.2 619.5h.01M828.3 620.6h.01M1015.5 623.3h.01M1114.8 613.4h.01M1178.3 611.4h.01M1281.5 621.1h.01M1145.9 636.9h.01M1112.4 637.7h.01M1075.4 631.2h.01M826.5 630.4h.01M741.2 637.3h.01M585.7 628.7h.01M552.3 626.3h.01M509.4 639.8h.01M421.0 627.0h.01M361.9 636.5h.01M381.5 649.9h.01M409.9 650.8h.01M415.0 648.0h.01M418.1 650.0h.01M584.2 650.9h.01M622.0 647.4h.01M742.4 651.0h.01M785.7 643.3h.01M1029.1 641.7h.01M1074.8 641.5h.01M1146.4 641.9h.01M1593.0 667.1h.01M1599.6 662.2h.01M1597.9 665.9h.01M1584.5 671.8h.01M1371.4 663.6h.01M1211.2 663.0h.01M1177.1 666.9h.01M1157.9 665.2h.01M1163.5 656.4h.01M942.8 669.6h.01M727.6 668.6h.01M684.4 667.6h.01M591.2 661.2h.01M390.6 669.1h.01M362.4 681.9h.01M362.6 673.3h.01M424.5 682.3h.01M818.1 682.2h.01M1079.6 678.7h.01M1075.3 687.3h.01M1564.5 679.0h.01M1582.5 678.2h.01M1602.6 701.6h.01M1594.6 689.1h.01M1384.4 697.3h.01M1164.3 700.7h.01M1141.7 690.5h.01M1133.1 700.3h.01M1056.8 699.6h.01M419.6 694.2h.01M586.9 714.7h.01M598.9 714.1h.01M606.5 708.3h.01M726.3 714.9h.01M906.9 719.4h.01M1166.0 704.6h.01M1160.2 716.7h.01M1309.0 706.1h.01M1335.8 710.6h.01M1413.1 713.7h.01M1612.2 735.9h.01M1556.1 731.9h.01M1554.4 728.6h.01M1546.7 728.0h.01M1523.3 733.7h.01M1435.4 726.6h.01M927.9 732.5h.01M865.6 720.9h.01M784.8 732.1h.01M721.7 726.3h.01M701.4 722.5h.01M673.5 733.3h.01M676.4 726.7h.01M644.5 720.5h.01M624.0 729.8h.01M530.4 731.7h.01M518.4 722.0h.01M413.8 731.1h.01M346.4 728.3h.01M440.7 741.1h.01M484.1 746.4h.01M527.0 745.9h.01M606.0 745.5h.01M614.5 736.1h.01M662.4 743.6h.01M697.7 751.6h.01M891.7 748.5h.01M1446.1 739.1h.01M1464.6 750.4h.01M1475.1 749.0h.01M1476.6 737.4h.01M1547.9 743.4h.01M1561.6 743.1h.01M1571.8 743.1h.01M1556.4 763.3h.01M1552.6 761.1h.01M1499.8 762.7h.01M1461.7 754.8h.01M1451.7 765.8h.01M1058.3 768.0h.01M963.9 764.8h.01M975.9 767.9h.01M825.4 761.7h.01M762.3 761.9h.01M755.8 764.0h.01M749.6 757.2h.01M699.0 763.2h.01M673.2 761.7h.01M454.5 767.2h.01M427.4 767.8h.01M405.6 753.5h.01M377.5 757.0h.01M582.5 782.2h.01M813.6 771.0h.01M850.8 769.8h.01M888.6 780.8h.01M993.9 781.4h.01M1467.6 771.1h.01M1484.8 773.8h.01M1604.1 791.0h.01M1419.5 789.2h.01M1146.8 797.9h.01M1088.0 791.3h.01M1043.2 797.8h.01M1030.7 792.7h.01M970.5 793.5h.01M956.4 789.6h.01M930.7 798.1h.01M914.2 799.5h.01M879.2 792.7h.01M848.0 794.2h.01M780.6 786.9h.01M740.8 791.7h.01M731.1 792.4h.01M708.4 788.6h.01M712.1 799.2h.01M493.1 784.3h.01M498.9 802.6h.01M630.0 807.9h.01M741.1 812.1h.01M844.4 801.7h.01M911.3 803.5h.01M953.3 814.7h.01M1033.9 810.4h.01M1036.9 815.8h.01M1124.4 805.3h.01M1150.6 810.1h.01M1342.7 800.5h.01M1374.0 810.2h.01M1431.3 807.6h.01M1510.2 818.5h.01M1135.0 816.4h.01M1069.8 816.9h.01M1047.7 817.8h.01M1037.2 829.0h.01M1013.6 817.2h.01M949.4 825.9h.01M804.5 821.1h.01M756.8 830.7h.01M735.1 826.3h.01M697.6 830.9h.01M621.5 819.6h.01M564.6 828.8h.01M402.2 829.0h.01M601.0 845.1h.01M632.4 846.0h.01M714.3 841.1h.01M754.3 836.0h.01M895.3 847.5h.01M895.7 835.2h.01M896.6 839.3h.01M918.0 833.6h.01M1021.2 832.6h.01M1042.0 833.3h.01M1088.7 833.4h.01M1089.9 840.5h.01M968.9 860.3h.01M792.2 856.9h.01M752.5 851.4h.01M714.9 861.1h.01M637.4 852.5h.01M502.1 856.0h.01M393.6 854.3h.01M412.6 875.8h.01M729.7 865.4h.01M833.7 872.0h.01M961.0 873.3h.01M1081.1 864.4h.01M1088.0 876.2h.01M1098.6 867.3h.01M973.7 884.4h.01M951.9 889.5h.01M930.6 885.1h.01M875.0 882.5h.01M802.2 895.0h.01M749.7 884.6h.01M708.7 892.8h.01M479.3 886.3h.01M713.7 911.8h.01M902.0 908.3h.01M966.2 902.3h.01M976.2 907.1h.01M1130.1 898.5h.01M1080.8 917.3h.01M997.8 918.4h.01M828.9 916.6h.01M669.7 927.9h.01M515.8 927.7h.01M478.1 920.6h.01M645.0 936.5h.01M974.2 941.6h.01M1026.9 939.8h.01M1061.6 941.5h.01M934.8 950.9h.01M895.8 954.0h.01M864.0 953.1h.01M837.6 951.3h.01M731.6 951.8h.01M491.2 958.3h.01M469.6 959.6h.01M458.7 958.9h.01M864.9 971.8h.01M908.1 974.9h.01M936.2 962.3h.01M883.9 977.8h.01M666.8 979.2h.01M614.5 996.8h.01M648.1 998.9h.01M641.0 1005.4h.01M647.9 1004.4h.01M680.6 1023.0h.01M665.4 1015.1h.01M645.0 1020.6h.01M638.4 1017.3h.01M631.2 1021.6h.01M628.2 1011.3h.01M626.1 1023.0h.01M610.3 1019.1h.01M612.6 1026.9h.01M626.2 1039.8h.01M638.5 1037.8h.01M680.2 1040.9h.01M660.1 1045.2h.01M631.6 1051.0h.01M619.1 1046.7h.01M1133.0 1194.8h.01M1128.7 1204.4h.01M1557.5 569.5h.01M1566.0 575.0h.01M1565.5 584.5h.01M1130.0 1213.0h.01M1155.0 1153.0h.01M1163.0 1171.0h.01M1181.0 1175.0h.01M1194.0 1173.0h.01M1184.5 1187.0h.01M1174.0 1195.5h.01M1200.0 1191.0h.01M1211.0 1190.0h.01M1214.5 1196.0h.01M1200.0 1201.0h.01M1329.0 557.0h.01M1668.0 859.0h.01" stroke="#E65464" stroke-width="10.0" stroke-linecap="round" fill="none"/>
<path d="M901.0 246.3h.01M669.1 373.7h.01M705.5 414.1h.01M541.9 439.3h.01M957.8 487.8h.01M688.1 507.6h.01M720.4 553.0h.01M874.4 606.4h.01M505.3 614.1h.01M1169.6 610.5h.01M1104.0 631.9h.01M1546.5 671.1h.01M466.7 663.5h.01M1145.4 681.5h.01M1173.7 681.2h.01M1340.3 683.0h.01M1480.9 735.2h.01M852.7 729.7h.01M683.7 737.0h.01M709.7 738.5h.01M1096.6 737.3h.01M1104.1 740.2h.01M455.0 771.5h.01M872.9 772.6h.01M1144.1 770.3h.01M477.0 812.4h.01M937.4 802.7h.01M1448.4 826.8h.01M767.9 829.5h.01M908.5 843.4h.01M1082.6 876.2h.01M663.2 895.8h.01M1137.8 1162.7h.01" stroke="#FCFDBF" stroke-width="10.0" stroke-linecap="round" fill="none"/>
</svg></body></html>
